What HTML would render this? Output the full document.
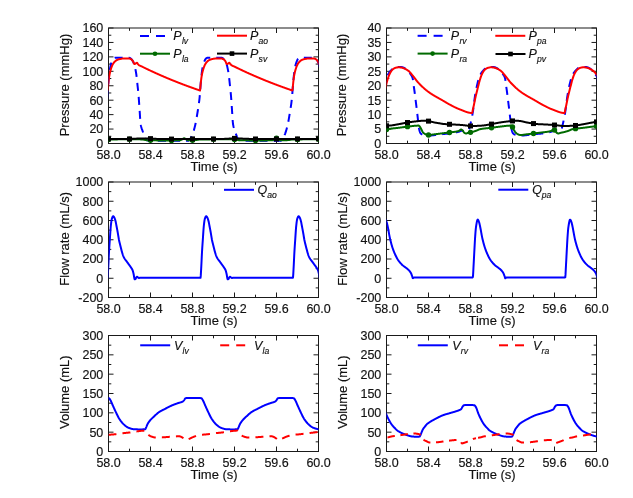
<!DOCTYPE html><html><head><meta charset="utf-8"><style>html,body{margin:0;padding:0;background:#fff;}svg{display:block;will-change:transform;}text{font-family:"Liberation Sans", sans-serif;fill:#111;stroke:#111;stroke-width:0.15px;}</style></head><body>
<svg width="633" height="498" viewBox="0 0 633 498">
<rect width="633" height="498" fill="#fff"/>
<defs>
<clipPath id="c00"><rect x="108.50" y="28.00" width="210.00" height="115.50"/></clipPath>
<clipPath id="c01"><rect x="108.50" y="182.00" width="210.00" height="115.50"/></clipPath>
<clipPath id="c02"><rect x="108.50" y="335.50" width="210.00" height="116.00"/></clipPath>
<clipPath id="c10"><rect x="386.50" y="28.00" width="210.00" height="115.50"/></clipPath>
<clipPath id="c11"><rect x="386.50" y="182.00" width="210.00" height="115.50"/></clipPath>
<clipPath id="c12"><rect x="386.50" y="335.50" width="210.00" height="116.00"/></clipPath>
</defs>
<line x1="108.50" y1="143.50" x2="108.50" y2="138.50" stroke="#1a1a1a" stroke-width="1"/>
<line x1="108.50" y1="28.00" x2="108.50" y2="33.00" stroke="#1a1a1a" stroke-width="1"/>
<text x="108.60" y="159.10" text-anchor="middle" font-size="12.50">58.0</text>
<line x1="129.50" y1="143.50" x2="129.50" y2="140.70" stroke="#1a1a1a" stroke-width="1"/>
<line x1="129.50" y1="28.00" x2="129.50" y2="30.80" stroke="#1a1a1a" stroke-width="1"/>
<line x1="150.50" y1="143.50" x2="150.50" y2="138.50" stroke="#1a1a1a" stroke-width="1"/>
<line x1="150.50" y1="28.00" x2="150.50" y2="33.00" stroke="#1a1a1a" stroke-width="1"/>
<text x="150.60" y="159.10" text-anchor="middle" font-size="12.50">58.4</text>
<line x1="171.50" y1="143.50" x2="171.50" y2="140.70" stroke="#1a1a1a" stroke-width="1"/>
<line x1="171.50" y1="28.00" x2="171.50" y2="30.80" stroke="#1a1a1a" stroke-width="1"/>
<line x1="192.50" y1="143.50" x2="192.50" y2="138.50" stroke="#1a1a1a" stroke-width="1"/>
<line x1="192.50" y1="28.00" x2="192.50" y2="33.00" stroke="#1a1a1a" stroke-width="1"/>
<text x="192.60" y="159.10" text-anchor="middle" font-size="12.50">58.8</text>
<line x1="213.50" y1="143.50" x2="213.50" y2="140.70" stroke="#1a1a1a" stroke-width="1"/>
<line x1="213.50" y1="28.00" x2="213.50" y2="30.80" stroke="#1a1a1a" stroke-width="1"/>
<line x1="234.50" y1="143.50" x2="234.50" y2="138.50" stroke="#1a1a1a" stroke-width="1"/>
<line x1="234.50" y1="28.00" x2="234.50" y2="33.00" stroke="#1a1a1a" stroke-width="1"/>
<text x="234.60" y="159.10" text-anchor="middle" font-size="12.50">59.2</text>
<line x1="255.50" y1="143.50" x2="255.50" y2="140.70" stroke="#1a1a1a" stroke-width="1"/>
<line x1="255.50" y1="28.00" x2="255.50" y2="30.80" stroke="#1a1a1a" stroke-width="1"/>
<line x1="276.50" y1="143.50" x2="276.50" y2="138.50" stroke="#1a1a1a" stroke-width="1"/>
<line x1="276.50" y1="28.00" x2="276.50" y2="33.00" stroke="#1a1a1a" stroke-width="1"/>
<text x="276.60" y="159.10" text-anchor="middle" font-size="12.50">59.6</text>
<line x1="297.50" y1="143.50" x2="297.50" y2="140.70" stroke="#1a1a1a" stroke-width="1"/>
<line x1="297.50" y1="28.00" x2="297.50" y2="30.80" stroke="#1a1a1a" stroke-width="1"/>
<line x1="318.50" y1="143.50" x2="318.50" y2="138.50" stroke="#1a1a1a" stroke-width="1"/>
<line x1="318.50" y1="28.00" x2="318.50" y2="33.00" stroke="#1a1a1a" stroke-width="1"/>
<text x="318.60" y="159.10" text-anchor="middle" font-size="12.50">60.0</text>
<line x1="108.50" y1="143.50" x2="113.50" y2="143.50" stroke="#1a1a1a" stroke-width="1"/>
<line x1="318.50" y1="143.50" x2="313.50" y2="143.50" stroke="#1a1a1a" stroke-width="1"/>
<text x="103.30" y="147.90" text-anchor="end" font-size="12.50">0</text>
<line x1="108.50" y1="136.28" x2="111.30" y2="136.28" stroke="#1a1a1a" stroke-width="1"/>
<line x1="318.50" y1="136.28" x2="315.70" y2="136.28" stroke="#1a1a1a" stroke-width="1"/>
<line x1="108.50" y1="129.06" x2="113.50" y2="129.06" stroke="#1a1a1a" stroke-width="1"/>
<line x1="318.50" y1="129.06" x2="313.50" y2="129.06" stroke="#1a1a1a" stroke-width="1"/>
<text x="103.30" y="133.46" text-anchor="end" font-size="12.50">20</text>
<line x1="108.50" y1="121.84" x2="111.30" y2="121.84" stroke="#1a1a1a" stroke-width="1"/>
<line x1="318.50" y1="121.84" x2="315.70" y2="121.84" stroke="#1a1a1a" stroke-width="1"/>
<line x1="108.50" y1="114.62" x2="113.50" y2="114.62" stroke="#1a1a1a" stroke-width="1"/>
<line x1="318.50" y1="114.62" x2="313.50" y2="114.62" stroke="#1a1a1a" stroke-width="1"/>
<text x="103.30" y="119.03" text-anchor="end" font-size="12.50">40</text>
<line x1="108.50" y1="107.41" x2="111.30" y2="107.41" stroke="#1a1a1a" stroke-width="1"/>
<line x1="318.50" y1="107.41" x2="315.70" y2="107.41" stroke="#1a1a1a" stroke-width="1"/>
<line x1="108.50" y1="100.19" x2="113.50" y2="100.19" stroke="#1a1a1a" stroke-width="1"/>
<line x1="318.50" y1="100.19" x2="313.50" y2="100.19" stroke="#1a1a1a" stroke-width="1"/>
<text x="103.30" y="104.59" text-anchor="end" font-size="12.50">60</text>
<line x1="108.50" y1="92.97" x2="111.30" y2="92.97" stroke="#1a1a1a" stroke-width="1"/>
<line x1="318.50" y1="92.97" x2="315.70" y2="92.97" stroke="#1a1a1a" stroke-width="1"/>
<line x1="108.50" y1="85.75" x2="113.50" y2="85.75" stroke="#1a1a1a" stroke-width="1"/>
<line x1="318.50" y1="85.75" x2="313.50" y2="85.75" stroke="#1a1a1a" stroke-width="1"/>
<text x="103.30" y="90.15" text-anchor="end" font-size="12.50">80</text>
<line x1="108.50" y1="78.53" x2="111.30" y2="78.53" stroke="#1a1a1a" stroke-width="1"/>
<line x1="318.50" y1="78.53" x2="315.70" y2="78.53" stroke="#1a1a1a" stroke-width="1"/>
<line x1="108.50" y1="71.31" x2="113.50" y2="71.31" stroke="#1a1a1a" stroke-width="1"/>
<line x1="318.50" y1="71.31" x2="313.50" y2="71.31" stroke="#1a1a1a" stroke-width="1"/>
<text x="103.30" y="75.71" text-anchor="end" font-size="12.50">100</text>
<line x1="108.50" y1="64.09" x2="111.30" y2="64.09" stroke="#1a1a1a" stroke-width="1"/>
<line x1="318.50" y1="64.09" x2="315.70" y2="64.09" stroke="#1a1a1a" stroke-width="1"/>
<line x1="108.50" y1="56.88" x2="113.50" y2="56.88" stroke="#1a1a1a" stroke-width="1"/>
<line x1="318.50" y1="56.88" x2="313.50" y2="56.88" stroke="#1a1a1a" stroke-width="1"/>
<text x="103.30" y="61.27" text-anchor="end" font-size="12.50">120</text>
<line x1="108.50" y1="49.66" x2="111.30" y2="49.66" stroke="#1a1a1a" stroke-width="1"/>
<line x1="318.50" y1="49.66" x2="315.70" y2="49.66" stroke="#1a1a1a" stroke-width="1"/>
<line x1="108.50" y1="42.44" x2="113.50" y2="42.44" stroke="#1a1a1a" stroke-width="1"/>
<line x1="318.50" y1="42.44" x2="313.50" y2="42.44" stroke="#1a1a1a" stroke-width="1"/>
<text x="103.30" y="46.84" text-anchor="end" font-size="12.50">140</text>
<line x1="108.50" y1="35.22" x2="111.30" y2="35.22" stroke="#1a1a1a" stroke-width="1"/>
<line x1="318.50" y1="35.22" x2="315.70" y2="35.22" stroke="#1a1a1a" stroke-width="1"/>
<line x1="108.50" y1="28.00" x2="113.50" y2="28.00" stroke="#1a1a1a" stroke-width="1"/>
<line x1="318.50" y1="28.00" x2="313.50" y2="28.00" stroke="#1a1a1a" stroke-width="1"/>
<text x="103.30" y="32.40" text-anchor="end" font-size="12.50">160</text>
<rect x="108.50" y="28.00" width="210.00" height="115.50" fill="none" stroke="#1a1a1a" stroke-width="1"/>
<text x="214.10" y="171.10" text-anchor="middle" font-size="13.00">Time (s)</text>
<text transform="translate(69.10 85.05) rotate(-90)" text-anchor="middle" font-size="13.00">Pressure (mmHg)</text>
<path d="M105.50 110.05L105.75 108.50L106.00 106.89L106.25 105.21L106.50 103.41L106.75 101.48L107.00 99.39L107.25 97.01L107.50 94.07L107.75 90.75L108.00 87.31L108.25 83.98L108.50 81.02L108.75 78.55L109.00 76.21L109.25 73.99L109.50 71.94L109.75 70.11L110.00 68.54L110.25 67.25L110.50 66.09L110.75 65.05L111.00 64.12L111.25 63.29L111.50 62.56L111.75 61.92L112.00 61.29L112.25 60.70L112.50 60.15L112.75 59.65L113.00 59.21L113.25 58.85L113.50 58.58L113.75 58.39L114.00 58.22L114.25 58.07L114.50 57.94L114.75 57.85L115.00 57.80L115.25 57.80L115.50 57.80L115.75 57.80L116.00 57.80L116.25 57.80L116.50 57.80L116.75 57.80L117.00 57.80L117.25 57.80L117.50 57.80L117.75 57.80L118.00 57.80L118.25 57.80L118.50 57.80L118.75 57.80L119.00 57.80L119.25 57.80L119.50 57.80L119.75 57.80L120.00 57.80L120.25 57.80L120.50 57.80L120.75 57.80L121.00 57.80L121.25 57.80L121.50 57.80L121.75 57.80L122.00 57.80L122.25 57.80L122.50 57.80L122.75 57.80L123.00 57.80L123.25 57.80L123.50 57.80L123.75 57.80L124.00 57.80L124.25 57.80L124.50 57.80L124.75 57.80L125.00 57.80L125.25 57.80L125.50 57.80L125.75 57.80L126.00 57.80L126.25 57.80L126.50 57.80L126.75 57.80L127.00 57.80L127.25 57.80L127.50 57.80L127.75 57.80L128.00 57.80L128.25 57.80L128.50 57.80L128.75 57.80L129.00 57.80L129.25 57.81L129.50 57.86L129.75 57.95L130.00 58.06L130.25 58.20L130.50 58.34L130.75 58.50L131.00 58.70L131.25 58.94L131.50 59.22L131.75 59.53L132.00 59.86L132.25 60.21L132.50 60.59L132.75 61.00L133.00 61.46L133.25 61.95L133.50 62.49L133.75 63.08L134.00 63.73L134.25 64.44L134.50 65.26L134.75 66.20L135.00 67.24L135.25 68.39L135.50 69.64L135.75 70.98L136.00 72.41L136.25 73.97L136.50 75.84L136.75 77.97L137.00 80.27L137.25 82.66L137.50 85.06L137.75 87.40L138.00 89.74L138.25 92.20L138.50 94.86L138.75 97.85L139.00 101.26L139.25 104.91L139.50 108.58L139.75 112.25L140.00 116.37L140.25 120.28L140.50 123.25L140.75 124.85L141.00 126.06L141.25 127.06L141.50 127.89L141.75 128.62L142.00 129.30L142.25 129.97L142.50 130.69L142.75 131.48L143.00 132.27L143.25 133.04L143.50 133.79L143.75 134.52L144.00 135.23L144.25 135.91L144.50 136.60L144.75 137.25L145.00 137.81L145.25 138.27L145.50 138.70L145.75 139.10L146.00 139.45L146.25 139.74L146.50 139.94L146.75 140.07L147.00 140.18L147.25 140.29L147.50 140.38L147.75 140.47L148.00 140.55L148.25 140.62L148.50 140.68L148.75 140.73L149.00 140.76L149.25 140.79L149.50 140.80L149.75 140.80L150.00 140.80L150.25 140.80L150.50 140.80L150.75 140.80L151.00 140.80L151.25 140.80L151.50 140.80L151.75 140.80L152.00 140.80L152.25 140.80L152.50 140.80L152.75 140.80L153.00 140.80L153.25 140.80L153.50 140.80L153.75 140.80L154.00 140.80L154.25 140.80L154.50 140.80L154.75 140.80L155.00 140.80L155.25 140.80L155.50 140.80L155.75 140.80L156.00 140.80L156.25 140.80L156.50 140.80L156.75 140.80L157.00 140.80L157.25 140.80L157.50 140.80L157.75 140.80L158.00 140.80L158.25 140.80L158.50 140.80L158.75 140.80L159.00 140.80L159.25 140.80L159.50 140.80L159.75 140.80L160.00 140.80L160.25 140.80L160.50 140.80L160.75 140.80L161.00 140.80L161.25 140.80L161.50 140.80L161.75 140.80L162.00 140.80L162.25 140.80L162.50 140.80L162.75 140.80L163.00 140.80L163.25 140.80L163.50 140.80L163.75 140.80L164.00 140.80L164.25 140.80L164.50 140.80L164.75 140.80L165.00 140.80L165.25 140.80L165.50 140.80L165.75 140.80L166.00 140.80L166.25 140.80L166.50 140.80L166.75 140.80L167.00 140.80L167.25 140.80L167.50 140.80L167.75 140.80L168.00 140.80L168.25 140.80L168.50 140.80L168.75 140.80L169.00 140.80L169.25 140.80L169.50 140.80L169.75 140.80L170.00 140.80L170.25 140.80L170.50 140.80L170.75 140.80L171.00 140.80L171.25 140.80L171.50 140.80L171.75 140.80L172.00 140.80L172.25 140.80L172.50 140.80L172.75 140.80L173.00 140.80L173.25 140.80L173.50 140.80L173.75 140.80L174.00 140.80L174.25 140.80L174.50 140.80L174.75 140.80L175.00 140.80L175.25 140.80L175.50 140.80L175.75 140.80L176.00 140.80L176.25 140.80L176.50 140.80L176.75 140.80L177.00 140.80L177.25 140.80L177.50 140.80L177.75 140.80L178.00 140.80L178.25 140.80L178.50 140.80L178.75 140.80L179.00 140.80L179.25 140.80L179.50 140.80L179.75 140.80L180.00 140.80L180.25 140.80L180.50 140.80L180.75 140.80L181.00 140.80L181.25 140.80L181.50 140.80L181.75 140.80L182.00 140.80L182.25 140.80L182.50 140.80L182.75 140.80L183.00 140.80L183.25 140.80L183.50 140.80L183.75 140.80L184.00 140.80L184.25 140.80L184.50 140.80L184.75 140.80L185.00 140.80L185.25 140.80L185.50 140.80L185.75 140.80L186.00 140.80L186.25 140.80L186.50 140.80L186.75 140.80L187.00 140.80L187.25 140.80L187.50 140.80L187.75 140.80L188.00 140.80L188.25 140.76L188.50 140.64L188.75 140.47L189.00 140.27L189.25 140.03L189.50 139.80L189.75 139.54L190.00 139.23L190.25 138.88L190.50 138.48L190.75 138.05L191.00 137.59L191.25 137.09L191.50 136.58L191.75 136.05L192.00 135.50L192.25 134.93L192.50 134.31L192.75 133.65L193.00 132.95L193.25 132.21L193.50 131.43L193.75 130.61L194.00 129.76L194.25 128.87L194.50 127.95L194.75 126.99L195.00 126.00L195.25 124.94L195.50 123.80L195.75 122.57L196.00 121.27L196.25 119.91L196.50 118.49L196.75 117.03L197.00 115.54L197.25 114.03L197.50 112.50L197.75 110.97L198.00 109.44L198.25 107.87L198.50 106.23L198.75 104.50L199.00 102.66L199.25 100.67L199.50 98.50L199.75 95.90L200.00 92.77L200.25 89.37L200.50 85.95L200.75 82.74L201.00 80.00L201.25 77.61L201.50 75.30L201.75 73.15L202.00 71.18L202.25 69.45L202.50 68.00L202.75 66.77L203.00 65.66L203.25 64.67L203.50 63.78L203.75 62.99L204.00 62.30L204.25 61.66L204.50 61.05L204.75 60.47L205.00 59.94L205.25 59.46L205.50 59.06L205.75 58.73L206.00 58.50L206.25 58.32L206.50 58.16L206.75 58.01L207.00 57.90L207.25 57.83L207.50 57.80L207.75 57.80L208.00 57.80L208.25 57.80L208.50 57.80L208.75 57.80L209.00 57.80L209.25 57.80L209.50 57.80L209.75 57.80L210.00 57.80L210.25 57.80L210.50 57.80L210.75 57.80L211.00 57.80L211.25 57.80L211.50 57.80L211.75 57.80L212.00 57.80L212.25 57.80L212.50 57.80L212.75 57.80L213.00 57.80L213.25 57.80L213.50 57.80L213.75 57.80L214.00 57.80L214.25 57.80L214.50 57.80L214.75 57.80L215.00 57.80L215.25 57.80L215.50 57.80L215.75 57.80L216.00 57.80L216.25 57.80L216.50 57.80L216.75 57.80L217.00 57.80L217.25 57.80L217.50 57.80L217.75 57.80L218.00 57.80L218.25 57.80L218.50 57.80L218.75 57.80L219.00 57.80L219.25 57.80L219.50 57.80L219.75 57.80L220.00 57.80L220.25 57.80L220.50 57.80L220.75 57.80L221.00 57.80L221.25 57.80L221.50 57.80L221.75 57.82L222.00 57.89L222.25 57.99L222.50 58.12L222.75 58.25L223.00 58.40L223.25 58.57L223.50 58.79L223.75 59.05L224.00 59.35L224.25 59.66L224.50 60.00L224.75 60.36L225.00 60.75L225.25 61.18L225.50 61.65L225.75 62.16L226.00 62.72L226.25 63.34L226.50 64.00L226.75 64.75L227.00 65.62L227.25 66.60L227.50 67.69L227.75 68.88L228.00 70.16L228.25 71.54L228.50 73.00L228.75 74.68L229.00 76.67L229.25 78.88L229.50 81.22L229.75 83.63L230.00 86.00L230.25 88.33L230.50 90.71L230.75 93.23L231.00 96.00L231.25 99.17L231.50 102.71L231.75 106.39L232.00 110.00L232.25 113.88L232.50 118.00L232.75 121.62L233.00 124.00L233.25 125.36L233.50 126.48L233.75 127.41L234.00 128.20L234.25 128.90L234.50 129.56L234.75 130.25L235.00 131.00L235.25 131.80L235.50 132.58L235.75 133.35L236.00 134.09L236.25 134.81L236.50 135.50L236.75 136.19L237.00 136.87L237.25 137.49L237.50 138.00L237.75 138.44L238.00 138.86L238.25 139.24L238.50 139.57L238.75 139.83L239.00 140.00L239.25 140.12L239.50 140.23L239.75 140.33L240.00 140.42L240.25 140.51L240.50 140.58L240.75 140.64L241.00 140.70L241.25 140.74L241.50 140.77L241.75 140.79L242.00 140.80L242.25 140.80L242.50 140.80L242.75 140.80L243.00 140.80L243.25 140.80L243.50 140.80L243.75 140.80L244.00 140.80L244.25 140.80L244.50 140.80L244.75 140.80L245.00 140.80L245.25 140.80L245.50 140.80L245.75 140.80L246.00 140.80L246.25 140.80L246.50 140.80L246.75 140.80L247.00 140.80L247.25 140.80L247.50 140.80L247.75 140.80L248.00 140.80L248.25 140.80L248.50 140.80L248.75 140.80L249.00 140.80L249.25 140.80L249.50 140.80L249.75 140.80L250.00 140.80L250.25 140.80L250.50 140.80L250.75 140.80L251.00 140.80L251.25 140.80L251.50 140.80L251.75 140.80L252.00 140.80L252.25 140.80L252.50 140.80L252.75 140.80L253.00 140.80L253.25 140.80L253.50 140.80L253.75 140.80L254.00 140.80L254.25 140.80L254.50 140.80L254.75 140.80L255.00 140.80L255.25 140.80L255.50 140.80L255.75 140.80L256.00 140.80L256.25 140.80L256.50 140.80L256.75 140.80L257.00 140.80L257.25 140.80L257.50 140.80L257.75 140.80L258.00 140.80L258.25 140.80L258.50 140.80L258.75 140.80L259.00 140.80L259.25 140.80L259.50 140.80L259.75 140.80L260.00 140.80L260.25 140.80L260.50 140.80L260.75 140.80L261.00 140.80L261.25 140.80L261.50 140.80L261.75 140.80L262.00 140.80L262.25 140.80L262.50 140.80L262.75 140.80L263.00 140.80L263.25 140.80L263.50 140.80L263.75 140.80L264.00 140.80L264.25 140.80L264.50 140.80L264.75 140.80L265.00 140.80L265.25 140.80L265.50 140.80L265.75 140.80L266.00 140.80L266.25 140.80L266.50 140.80L266.75 140.80L267.00 140.80L267.25 140.80L267.50 140.80L267.75 140.80L268.00 140.80L268.25 140.80L268.50 140.80L268.75 140.80L269.00 140.80L269.25 140.80L269.50 140.80L269.75 140.80L270.00 140.80L270.25 140.80L270.50 140.80L270.75 140.80L271.00 140.80L271.25 140.80L271.50 140.80L271.75 140.80L272.00 140.80L272.25 140.80L272.50 140.80L272.75 140.80L273.00 140.80L273.25 140.80L273.50 140.80L273.75 140.80L274.00 140.80L274.25 140.80L274.50 140.80L274.75 140.80L275.00 140.80L275.25 140.80L275.50 140.80L275.75 140.80L276.00 140.80L276.25 140.80L276.50 140.80L276.75 140.80L277.00 140.80L277.25 140.80L277.50 140.80L277.75 140.80L278.00 140.80L278.25 140.80L278.50 140.80L278.75 140.80L279.00 140.80L279.25 140.80L279.50 140.80L279.75 140.80L280.00 140.80L280.25 140.80L280.50 140.79L280.75 140.72L281.00 140.58L281.25 140.39L281.50 140.17L281.75 139.94L282.00 139.70L282.25 139.42L282.50 139.10L282.75 138.73L283.00 138.31L283.25 137.87L283.50 137.39L283.75 136.89L284.00 136.37L284.25 135.83L284.50 135.28L284.75 134.68L285.00 134.05L285.25 133.37L285.50 132.66L285.75 131.90L286.00 131.11L286.25 130.28L286.50 129.41L286.75 128.51L287.00 127.57L287.25 126.60L287.50 125.59L287.75 124.50L288.00 123.32L288.25 122.06L288.50 120.73L288.75 119.35L289.00 117.91L289.25 116.44L289.50 114.94L289.75 113.42L290.00 111.89L290.25 110.36L290.50 108.82L290.75 107.22L291.00 105.55L291.25 103.78L291.50 101.88L291.75 99.82L292.00 97.54L292.25 94.69L292.50 91.43L292.75 87.99L293.00 84.62L293.25 81.57L293.50 79.03L293.75 76.67L294.00 74.42L294.25 72.33L294.50 70.45L294.75 68.83L295.00 67.49L295.25 66.32L295.50 65.25L295.75 64.30L296.00 63.45L296.25 62.70L296.50 62.04L296.75 61.42L297.00 60.81L297.25 60.25L297.50 59.74L297.75 59.29L298.00 58.92L298.25 58.63L298.50 58.43L298.75 58.25L299.00 58.10L299.25 57.96L299.50 57.87L299.75 57.81L300.00 57.80L300.25 57.80L300.50 57.80L300.75 57.80L301.00 57.80L301.25 57.80L301.50 57.80L301.75 57.80L302.00 57.80L302.25 57.80L302.50 57.80L302.75 57.80L303.00 57.80L303.25 57.80L303.50 57.80L303.75 57.80L304.00 57.80L304.25 57.80L304.50 57.80L304.75 57.80L305.00 57.80L305.25 57.80L305.50 57.80L305.75 57.80L306.00 57.80L306.25 57.80L306.50 57.80L306.75 57.80L307.00 57.80L307.25 57.80L307.50 57.80L307.75 57.80L308.00 57.80L308.25 57.80L308.50 57.80L308.75 57.80L309.00 57.80L309.25 57.80L309.50 57.80L309.75 57.80L310.00 57.80L310.25 57.80L310.50 57.80L310.75 57.80L311.00 57.80L311.25 57.80L311.50 57.80L311.75 57.80L312.00 57.80L312.25 57.80L312.50 57.80L312.75 57.80L313.00 57.80L313.25 57.80L313.50 57.80L313.75 57.80L314.00 57.80L314.25 57.85L314.50 57.93L314.75 58.04L315.00 58.17L315.25 58.31L315.50 58.46L315.75 58.65L316.00 58.89L316.25 59.17L316.50 59.47L316.75 59.80L317.00 60.14L317.25 60.51L317.50 60.92L317.75 61.36L318.00 61.85L318.25 62.38L318.50 62.96L318.75 63.59L319.00 64.29L319.25 65.09L319.50 66.00L319.75 67.02L320.00 68.15L320.25 69.38L320.50 70.70L320.75 72.11L321.00 73.63L321.25 75.45L321.50 77.53" fill="none" stroke="#0000ff" stroke-width="2.00" stroke-linejoin="round" stroke-dasharray="8,6" stroke-dashoffset="2.20" clip-path="url(#c00)"/>
<path d="M105.50 89.78L105.75 89.87L106.00 89.95L106.25 90.04L106.50 90.14L106.75 90.25L107.00 90.36L107.25 90.45L107.50 90.50L107.75 89.83L108.00 87.07L108.25 84.49L108.50 81.92L108.75 79.74L109.00 77.82L109.25 76.20L109.50 74.80L109.75 73.55L110.00 72.42L110.25 71.40L110.50 70.47L110.75 69.61L111.00 68.81L111.25 68.04L111.50 67.30L111.75 66.60L112.00 65.96L112.25 65.39L112.50 64.87L112.75 64.37L113.00 63.91L113.25 63.50L113.50 63.13L113.75 62.81L114.00 62.51L114.25 62.21L114.50 61.93L114.75 61.67L115.00 61.42L115.25 61.18L115.50 60.96L115.75 60.76L116.00 60.57L116.25 60.40L116.50 60.25L116.75 60.12L117.00 60.00L117.25 59.88L117.50 59.77L117.75 59.67L118.00 59.57L118.25 59.48L118.50 59.39L118.75 59.32L119.00 59.24L119.25 59.18L119.50 59.12L119.75 59.07L120.00 59.02L120.25 58.96L120.50 58.91L120.75 58.86L121.00 58.81L121.25 58.77L121.50 58.72L121.75 58.68L122.00 58.63L122.25 58.60L122.50 58.56L122.75 58.53L123.00 58.50L123.25 58.47L123.50 58.45L123.75 58.43L124.00 58.41L124.25 58.41L124.50 58.40L124.75 58.40L125.00 58.40L125.25 58.40L125.50 58.40L125.75 58.40L126.00 58.40L126.25 58.40L126.50 58.40L126.75 58.40L127.00 58.40L127.25 58.40L127.50 58.40L127.75 58.40L128.00 58.40L128.25 58.40L128.50 58.40L128.75 58.41L129.00 58.44L129.25 58.49L129.50 58.56L129.75 58.64L130.00 58.73L130.25 58.82L130.50 58.92L130.75 59.04L131.00 59.19L131.25 59.35L131.50 59.52L131.75 59.72L132.00 59.96L132.25 60.24L132.50 60.55L132.75 60.89L133.00 61.25L133.25 61.67L133.50 62.28L133.75 62.95L134.00 63.54L134.25 63.93L134.50 64.00L134.75 63.95L135.00 63.86L135.25 63.76L135.50 63.65L135.75 63.50L136.00 63.30L136.25 63.10L136.50 62.93L136.75 62.82L137.00 62.82L137.25 63.05L137.50 63.41L137.75 63.80L138.00 64.12L138.25 64.43L138.50 64.72L138.75 64.96L139.00 65.14L139.25 65.30L139.50 65.44L139.75 65.57L140.00 65.69L140.25 65.81L140.50 65.91L140.75 66.02L141.00 66.12L141.25 66.23L141.50 66.35L141.75 66.47L142.00 66.60L142.25 66.72L142.50 66.84L142.75 66.97L143.00 67.09L143.25 67.21L143.50 67.33L143.75 67.46L144.00 67.58L144.25 67.70L144.50 67.82L144.75 67.94L145.00 68.06L145.25 68.18L145.50 68.31L145.75 68.43L146.00 68.55L146.25 68.67L146.50 68.79L146.75 68.91L147.00 69.03L147.25 69.15L147.50 69.26L147.75 69.38L148.00 69.50L148.25 69.62L148.50 69.74L148.75 69.86L149.00 69.98L149.25 70.09L149.50 70.21L149.75 70.33L150.00 70.45L150.25 70.56L150.50 70.68L150.75 70.80L151.00 70.91L151.25 71.03L151.50 71.15L151.75 71.26L152.00 71.38L152.25 71.49L152.50 71.61L152.75 71.72L153.00 71.84L153.25 71.95L153.50 72.07L153.75 72.18L154.00 72.30L154.25 72.41L154.50 72.53L154.75 72.64L155.00 72.75L155.25 72.87L155.50 72.98L155.75 73.09L156.00 73.21L156.25 73.32L156.50 73.43L156.75 73.54L157.00 73.66L157.25 73.77L157.50 73.88L157.75 73.99L158.00 74.10L158.25 74.21L158.50 74.33L158.75 74.44L159.00 74.55L159.25 74.66L159.50 74.77L159.75 74.88L160.00 74.99L160.25 75.10L160.50 75.21L160.75 75.32L161.00 75.43L161.25 75.54L161.50 75.64L161.75 75.75L162.00 75.86L162.25 75.97L162.50 76.08L162.75 76.19L163.00 76.30L163.25 76.40L163.50 76.51L163.75 76.62L164.00 76.73L164.25 76.83L164.50 76.94L164.75 77.05L165.00 77.15L165.25 77.26L165.50 77.37L165.75 77.47L166.00 77.58L166.25 77.68L166.50 77.79L166.75 77.89L167.00 78.00L167.25 78.10L167.50 78.21L167.75 78.31L168.00 78.42L168.25 78.52L168.50 78.63L168.75 78.73L169.00 78.83L169.25 78.94L169.50 79.04L169.75 79.14L170.00 79.25L170.25 79.35L170.50 79.45L170.75 79.56L171.00 79.66L171.25 79.76L171.50 79.86L171.75 79.97L172.00 80.07L172.25 80.17L172.50 80.27L172.75 80.37L173.00 80.47L173.25 80.57L173.50 80.68L173.75 80.78L174.00 80.88L174.25 80.98L174.50 81.08L174.75 81.18L175.00 81.28L175.25 81.38L175.50 81.48L175.75 81.58L176.00 81.68L176.25 81.77L176.50 81.87L176.75 81.97L177.00 82.07L177.25 82.17L177.50 82.27L177.75 82.37L178.00 82.46L178.25 82.56L178.50 82.66L178.75 82.76L179.00 82.85L179.25 82.95L179.50 83.05L179.75 83.15L180.00 83.24L180.25 83.34L180.50 83.44L180.75 83.53L181.00 83.63L181.25 83.72L181.50 83.82L181.75 83.92L182.00 84.01L182.25 84.11L182.50 84.20L182.75 84.30L183.00 84.39L183.25 84.49L183.50 84.58L183.75 84.68L184.00 84.77L184.25 84.86L184.50 84.96L184.75 85.05L185.00 85.14L185.25 85.24L185.50 85.33L185.75 85.43L186.00 85.52L186.25 85.61L186.50 85.70L186.75 85.80L187.00 85.89L187.25 85.98L187.50 86.07L187.75 86.17L188.00 86.26L188.25 86.35L188.50 86.44L188.75 86.53L189.00 86.62L189.25 86.72L189.50 86.81L189.75 86.90L190.00 86.99L190.25 87.08L190.50 87.17L190.75 87.26L191.00 87.35L191.25 87.44L191.50 87.53L191.75 87.62L192.00 87.71L192.25 87.80L192.50 87.89L192.75 87.98L193.00 88.07L193.25 88.15L193.50 88.24L193.75 88.33L194.00 88.42L194.25 88.51L194.50 88.60L194.75 88.68L195.00 88.77L195.25 88.86L195.50 88.95L195.75 89.03L196.00 89.12L196.25 89.21L196.50 89.30L196.75 89.38L197.00 89.47L197.25 89.56L197.50 89.64L197.75 89.73L198.00 89.82L198.25 89.90L198.50 89.99L198.75 90.08L199.00 90.19L199.25 90.30L199.50 90.40L199.75 90.47L200.00 90.50L200.25 88.84L200.50 86.00L200.75 83.45L201.00 81.00L201.25 78.94L201.50 77.14L201.75 75.62L202.00 74.28L202.25 73.08L202.50 72.00L202.75 71.02L203.00 70.12L203.25 69.29L203.50 68.50L203.75 67.74L204.00 67.02L204.25 66.34L204.50 65.72L204.75 65.18L205.00 64.66L205.25 64.18L205.50 63.74L205.75 63.35L206.00 63.00L206.25 62.69L206.50 62.39L206.75 62.10L207.00 61.82L207.25 61.56L207.50 61.32L207.75 61.09L208.00 60.88L208.25 60.68L208.50 60.50L208.75 60.34L209.00 60.20L209.25 60.07L209.50 59.95L209.75 59.84L210.00 59.73L210.25 59.63L210.50 59.53L210.75 59.44L211.00 59.36L211.25 59.29L211.50 59.22L211.75 59.16L212.00 59.10L212.25 59.05L212.50 59.00L212.75 58.94L213.00 58.89L213.25 58.84L213.50 58.79L213.75 58.75L214.00 58.70L214.25 58.66L214.50 58.62L214.75 58.58L215.00 58.55L215.25 58.51L215.50 58.48L215.75 58.46L216.00 58.44L216.25 58.42L216.50 58.41L216.75 58.40L217.00 58.40L217.25 58.40L217.50 58.40L217.75 58.40L218.00 58.40L218.25 58.40L218.50 58.40L218.75 58.40L219.00 58.40L219.25 58.40L219.50 58.40L219.75 58.40L220.00 58.40L220.25 58.40L220.50 58.40L220.75 58.40L221.00 58.40L221.25 58.41L221.50 58.46L221.75 58.52L222.00 58.59L222.25 58.68L222.50 58.76L222.75 58.86L223.00 58.97L223.25 59.10L223.50 59.25L223.75 59.42L224.00 59.60L224.25 59.81L224.50 60.07L224.75 60.36L225.00 60.68L225.25 61.03L225.50 61.40L225.75 61.90L226.00 62.54L226.25 63.20L226.50 63.73L226.75 63.99L227.00 63.98L227.25 63.92L227.50 63.82L227.75 63.72L228.00 63.60L228.25 63.42L228.50 63.22L228.75 63.02L229.00 62.87L229.25 62.80L229.50 62.89L229.75 63.18L230.00 63.57L230.25 63.94L230.50 64.24L230.75 64.55L231.00 64.82L231.25 65.04L231.50 65.21L231.75 65.36L232.00 65.50L232.25 65.62L232.50 65.74L232.75 65.85L233.00 65.96L233.25 66.06L233.50 66.17L233.75 66.28L234.00 66.40L234.25 66.52L234.50 66.65L234.75 66.77L235.00 66.89L235.25 67.01L235.50 67.14L235.75 67.26L236.00 67.38L236.25 67.50L236.50 67.63L236.75 67.75L237.00 67.87L237.25 67.99L237.50 68.11L237.75 68.23L238.00 68.35L238.25 68.47L238.50 68.59L238.75 68.71L239.00 68.83L239.25 68.95L239.50 69.07L239.75 69.19L240.00 69.31L240.25 69.43L240.50 69.55L240.75 69.67L241.00 69.79L241.25 69.90L241.50 70.02L241.75 70.14L242.00 70.26L242.25 70.38L242.50 70.49L242.75 70.61L243.00 70.73L243.25 70.84L243.50 70.96L243.75 71.08L244.00 71.19L244.25 71.31L244.50 71.42L244.75 71.54L245.00 71.66L245.25 71.77L245.50 71.89L245.75 72.00L246.00 72.12L246.25 72.23L246.50 72.34L246.75 72.46L247.00 72.57L247.25 72.69L247.50 72.80L247.75 72.91L248.00 73.03L248.25 73.14L248.50 73.25L248.75 73.36L249.00 73.48L249.25 73.59L249.50 73.70L249.75 73.81L250.00 73.92L250.25 74.04L250.50 74.15L250.75 74.26L251.00 74.37L251.25 74.48L251.50 74.59L251.75 74.70L252.00 74.81L252.25 74.92L252.50 75.03L252.75 75.14L253.00 75.25L253.25 75.36L253.50 75.47L253.75 75.58L254.00 75.69L254.25 75.80L254.50 75.91L254.75 76.01L255.00 76.12L255.25 76.23L255.50 76.34L255.75 76.45L256.00 76.55L256.25 76.66L256.50 76.77L256.75 76.88L257.00 76.98L257.25 77.09L257.50 77.20L257.75 77.30L258.00 77.41L258.25 77.51L258.50 77.62L258.75 77.72L259.00 77.83L259.25 77.94L259.50 78.04L259.75 78.15L260.00 78.25L260.25 78.36L260.50 78.46L260.75 78.56L261.00 78.67L261.25 78.77L261.50 78.88L261.75 78.98L262.00 79.08L262.25 79.19L262.50 79.29L262.75 79.39L263.00 79.49L263.25 79.60L263.50 79.70L263.75 79.80L264.00 79.90L264.25 80.01L264.50 80.11L264.75 80.21L265.00 80.31L265.25 80.41L265.50 80.51L265.75 80.61L266.00 80.72L266.25 80.82L266.50 80.92L266.75 81.02L267.00 81.12L267.25 81.22L267.50 81.32L267.75 81.42L268.00 81.52L268.25 81.62L268.50 81.71L268.75 81.81L269.00 81.91L269.25 82.01L269.50 82.11L269.75 82.21L270.00 82.31L270.25 82.40L270.50 82.50L270.75 82.60L271.00 82.70L271.25 82.80L271.50 82.89L271.75 82.99L272.00 83.09L272.25 83.18L272.50 83.28L272.75 83.38L273.00 83.47L273.25 83.57L273.50 83.67L273.75 83.76L274.00 83.86L274.25 83.95L274.50 84.05L274.75 84.14L275.00 84.24L275.25 84.33L275.50 84.43L275.75 84.52L276.00 84.62L276.25 84.71L276.50 84.81L276.75 84.90L277.00 85.00L277.25 85.09L277.50 85.18L277.75 85.28L278.00 85.37L278.25 85.46L278.50 85.56L278.75 85.65L279.00 85.74L279.25 85.83L279.50 85.93L279.75 86.02L280.00 86.11L280.25 86.20L280.50 86.29L280.75 86.39L281.00 86.48L281.25 86.57L281.50 86.66L281.75 86.75L282.00 86.84L282.25 86.93L282.50 87.02L282.75 87.11L283.00 87.20L283.25 87.30L283.50 87.39L283.75 87.48L284.00 87.56L284.25 87.65L284.50 87.74L284.75 87.83L285.00 87.92L285.25 88.01L285.50 88.10L285.75 88.19L286.00 88.28L286.25 88.37L286.50 88.46L286.75 88.54L287.00 88.63L287.25 88.72L287.50 88.81L287.75 88.89L288.00 88.98L288.25 89.07L288.50 89.16L288.75 89.24L289.00 89.33L289.25 89.42L289.50 89.50L289.75 89.59L290.00 89.68L290.25 89.76L290.50 89.85L290.75 89.94L291.00 90.02L291.25 90.12L291.50 90.23L291.75 90.34L292.00 90.43L292.25 90.49L292.50 90.18L292.75 87.67L293.00 85.01L293.25 82.41L293.50 80.15L293.75 78.19L294.00 76.50L294.25 75.07L294.50 73.79L294.75 72.64L295.00 71.60L295.25 70.65L295.50 69.78L295.75 68.97L296.00 68.19L296.25 67.45L296.50 66.74L296.75 66.08L297.00 65.50L297.25 64.97L297.50 64.47L297.75 64.00L298.00 63.58L298.25 63.20L298.50 62.87L298.75 62.57L299.00 62.27L299.25 61.99L299.50 61.72L299.75 61.46L300.00 61.23L300.25 61.00L300.50 60.80L300.75 60.61L301.00 60.44L301.25 60.28L301.50 60.15L301.75 60.02L302.00 59.90L302.25 59.79L302.50 59.69L302.75 59.59L303.00 59.50L303.25 59.41L303.50 59.33L303.75 59.26L304.00 59.19L304.25 59.13L304.50 59.08L304.75 59.03L305.00 58.97L305.25 58.92L305.50 58.87L305.75 58.82L306.00 58.78L306.25 58.73L306.50 58.68L306.75 58.64L307.00 58.60L307.25 58.57L307.50 58.53L307.75 58.50L308.00 58.47L308.25 58.45L308.50 58.43L308.75 58.42L309.00 58.41L309.25 58.40L309.50 58.40L309.75 58.40L310.00 58.40L310.25 58.40L310.50 58.40L310.75 58.40L311.00 58.40L311.25 58.40L311.50 58.40L311.75 58.40L312.00 58.40L312.25 58.40L312.50 58.40L312.75 58.40L313.00 58.40L313.25 58.40L313.50 58.40L313.75 58.43L314.00 58.48L314.25 58.54L314.50 58.62L314.75 58.71L315.00 58.80L315.25 58.90L315.50 59.02L315.75 59.16L316.00 59.31L316.25 59.49L316.50 59.68L316.75 59.91L317.00 60.18L317.25 60.49L317.50 60.82L317.75 61.18L318.00 61.57L318.25 62.15L318.50 62.81L318.75 63.43L319.00 63.87L319.25 64.00L319.50 63.96L319.75 63.88L320.00 63.78L320.25 63.68L320.50 63.53L320.75 63.34L321.00 63.14L321.25 62.96L321.50 62.83" fill="none" stroke="#ff0000" stroke-width="2.00" stroke-linejoin="round" clip-path="url(#c00)"/>
<path d="M105.50 139.76L105.75 139.72L106.00 139.67L106.25 139.63L106.50 139.59L106.75 139.56L107.00 139.53L107.25 139.51L107.50 139.50L107.75 139.50L108.00 139.49L108.25 139.49L108.50 139.49L108.75 139.48L109.00 139.48L109.25 139.47L109.50 139.47L109.75 139.47L110.00 139.46L110.25 139.46L110.50 139.46L110.75 139.45L111.00 139.45L111.25 139.45L111.50 139.44L111.75 139.44L112.00 139.44L112.25 139.43L112.50 139.43L112.75 139.43L113.00 139.42L113.25 139.42L113.50 139.42L113.75 139.41L114.00 139.41L114.25 139.41L114.50 139.41L114.75 139.40L115.00 139.40L115.25 139.40L115.50 139.40L115.75 139.39L116.00 139.39L116.25 139.39L116.50 139.39L116.75 139.38L117.00 139.38L117.25 139.38L117.50 139.38L117.75 139.37L118.00 139.37L118.25 139.37L118.50 139.37L118.75 139.37L119.00 139.36L119.25 139.36L119.50 139.36L119.75 139.36L120.00 139.36L120.25 139.35L120.50 139.35L120.75 139.35L121.00 139.35L121.25 139.35L121.50 139.35L121.75 139.34L122.00 139.34L122.25 139.34L122.50 139.34L122.75 139.34L123.00 139.34L123.25 139.33L123.50 139.33L123.75 139.33L124.00 139.33L124.25 139.33L124.50 139.33L124.75 139.33L125.00 139.33L125.25 139.32L125.50 139.32L125.75 139.32L126.00 139.32L126.25 139.32L126.50 139.32L126.75 139.32L127.00 139.32L127.25 139.32L127.50 139.32L127.75 139.31L128.00 139.31L128.25 139.31L128.50 139.31L128.75 139.31L129.00 139.31L129.25 139.31L129.50 139.31L129.75 139.31L130.00 139.31L130.25 139.31L130.50 139.31L130.75 139.31L131.00 139.31L131.25 139.31L131.50 139.31L131.75 139.30L132.00 139.30L132.25 139.30L132.50 139.30L132.75 139.30L133.00 139.30L133.25 139.30L133.50 139.30L133.75 139.30L134.00 139.30L134.25 139.30L134.50 139.30L134.75 139.30L135.00 139.30L135.25 139.30L135.50 139.30L135.75 139.30L136.00 139.30L136.25 139.30L136.50 139.30L136.75 139.30L137.00 139.30L137.25 139.30L137.50 139.30L137.75 139.30L138.00 139.30L138.25 139.30L138.50 139.31L138.75 139.31L139.00 139.32L139.25 139.33L139.50 139.34L139.75 139.35L140.00 139.36L140.25 139.37L140.50 139.38L140.75 139.39L141.00 139.40L141.25 139.42L141.50 139.43L141.75 139.45L142.00 139.46L142.25 139.48L142.50 139.49L142.75 139.51L143.00 139.54L143.25 139.57L143.50 139.61L143.75 139.65L144.00 139.70L144.25 139.75L144.50 139.80L144.75 139.85L145.00 139.91L145.25 139.97L145.50 140.02L145.75 140.07L146.00 140.12L146.25 140.16L146.50 140.20L146.75 140.24L147.00 140.27L147.25 140.29L147.50 140.30L147.75 140.30L148.00 140.30L148.25 140.31L148.50 140.31L148.75 140.31L149.00 140.32L149.25 140.32L149.50 140.32L149.75 140.32L150.00 140.33L150.25 140.33L150.50 140.33L150.75 140.33L151.00 140.34L151.25 140.34L151.50 140.34L151.75 140.34L152.00 140.34L152.25 140.35L152.50 140.35L152.75 140.35L153.00 140.35L153.25 140.35L153.50 140.36L153.75 140.36L154.00 140.36L154.25 140.36L154.50 140.36L154.75 140.36L155.00 140.37L155.25 140.37L155.50 140.37L155.75 140.37L156.00 140.37L156.25 140.37L156.50 140.37L156.75 140.38L157.00 140.38L157.25 140.38L157.50 140.38L157.75 140.38L158.00 140.38L158.25 140.38L158.50 140.38L158.75 140.38L159.00 140.39L159.25 140.39L159.50 140.39L159.75 140.39L160.00 140.39L160.25 140.39L160.50 140.39L160.75 140.39L161.00 140.39L161.25 140.39L161.50 140.39L161.75 140.39L162.00 140.39L162.25 140.39L162.50 140.40L162.75 140.40L163.00 140.40L163.25 140.40L163.50 140.40L163.75 140.40L164.00 140.40L164.25 140.40L164.50 140.40L164.75 140.40L165.00 140.40L165.25 140.40L165.50 140.40L165.75 140.40L166.00 140.40L166.25 140.40L166.50 140.40L166.75 140.40L167.00 140.40L167.25 140.40L167.50 140.40L167.75 140.40L168.00 140.40L168.25 140.40L168.50 140.40L168.75 140.40L169.00 140.40L169.25 140.40L169.50 140.40L169.75 140.40L170.00 140.40L170.25 140.40L170.50 140.40L170.75 140.40L171.00 140.39L171.25 140.39L171.50 140.39L171.75 140.39L172.00 140.39L172.25 140.39L172.50 140.39L172.75 140.39L173.00 140.38L173.25 140.38L173.50 140.38L173.75 140.38L174.00 140.38L174.25 140.38L174.50 140.37L174.75 140.37L175.00 140.37L175.25 140.37L175.50 140.36L175.75 140.36L176.00 140.36L176.25 140.35L176.50 140.35L176.75 140.35L177.00 140.34L177.25 140.34L177.50 140.34L177.75 140.33L178.00 140.33L178.25 140.33L178.50 140.32L178.75 140.32L179.00 140.31L179.25 140.31L179.50 140.30L179.75 140.29L180.00 140.26L180.25 140.20L180.50 140.12L180.75 140.02L181.00 139.92L181.25 139.80L181.50 139.68L181.75 139.56L182.00 139.44L182.25 139.33L182.50 139.17L182.75 139.00L183.00 138.81L183.25 138.64L183.50 138.48L183.75 138.37L184.00 138.31L184.25 138.31L184.50 138.39L184.75 138.51L185.00 138.67L185.25 138.85L185.50 139.03L185.75 139.21L186.00 139.35L186.25 139.47L186.50 139.59L186.75 139.71L187.00 139.83L187.25 139.94L187.50 140.05L187.75 140.14L188.00 140.22L188.25 140.27L188.50 140.30L188.75 140.30L189.00 140.30L189.25 140.30L189.50 140.30L189.75 140.29L190.00 140.29L190.25 140.29L190.50 140.28L190.75 140.28L191.00 140.27L191.25 140.27L191.50 140.26L191.75 140.25L192.00 140.25L192.25 140.24L192.50 140.23L192.75 140.22L193.00 140.21L193.25 140.20L193.50 140.19L193.75 140.18L194.00 140.17L194.25 140.16L194.50 140.15L194.75 140.14L195.00 140.13L195.25 140.12L195.50 140.10L195.75 140.09L196.00 140.07L196.25 140.04L196.50 140.01L196.75 139.97L197.00 139.93L197.25 139.88L197.50 139.84L197.75 139.79L198.00 139.74L198.25 139.70L198.50 139.66L198.75 139.62L199.00 139.58L199.25 139.55L199.50 139.53L199.75 139.51L200.00 139.50L200.25 139.50L200.50 139.49L200.75 139.49L201.00 139.48L201.25 139.48L201.50 139.48L201.75 139.47L202.00 139.47L202.25 139.47L202.50 139.46L202.75 139.46L203.00 139.45L203.25 139.45L203.50 139.45L203.75 139.44L204.00 139.44L204.25 139.44L204.50 139.43L204.75 139.43L205.00 139.43L205.25 139.43L205.50 139.42L205.75 139.42L206.00 139.42L206.25 139.41L206.50 139.41L206.75 139.41L207.00 139.40L207.25 139.40L207.50 139.40L207.75 139.40L208.00 139.39L208.25 139.39L208.50 139.39L208.75 139.39L209.00 139.38L209.25 139.38L209.50 139.38L209.75 139.38L210.00 139.38L210.25 139.37L210.50 139.37L210.75 139.37L211.00 139.37L211.25 139.36L211.50 139.36L211.75 139.36L212.00 139.36L212.25 139.36L212.50 139.36L212.75 139.35L213.00 139.35L213.25 139.35L213.50 139.35L213.75 139.35L214.00 139.34L214.25 139.34L214.50 139.34L214.75 139.34L215.00 139.34L215.25 139.34L215.50 139.34L215.75 139.33L216.00 139.33L216.25 139.33L216.50 139.33L216.75 139.33L217.00 139.33L217.25 139.33L217.50 139.33L217.75 139.32L218.00 139.32L218.25 139.32L218.50 139.32L218.75 139.32L219.00 139.32L219.25 139.32L219.50 139.32L219.75 139.32L220.00 139.32L220.25 139.31L220.50 139.31L220.75 139.31L221.00 139.31L221.25 139.31L221.50 139.31L221.75 139.31L222.00 139.31L222.25 139.31L222.50 139.31L222.75 139.31L223.00 139.31L223.25 139.31L223.50 139.31L223.75 139.31L224.00 139.31L224.25 139.30L224.50 139.30L224.75 139.30L225.00 139.30L225.25 139.30L225.50 139.30L225.75 139.30L226.00 139.30L226.25 139.30L226.50 139.30L226.75 139.30L227.00 139.30L227.25 139.30L227.50 139.30L227.75 139.30L228.00 139.30L228.25 139.30L228.50 139.30L228.75 139.30L229.00 139.30L229.25 139.30L229.50 139.30L229.75 139.30L230.00 139.30L230.25 139.30L230.50 139.30L230.75 139.31L231.00 139.31L231.25 139.32L231.50 139.32L231.75 139.33L232.00 139.34L232.25 139.35L232.50 139.36L232.75 139.37L233.00 139.38L233.25 139.40L233.50 139.41L233.75 139.42L234.00 139.44L234.25 139.45L234.50 139.47L234.75 139.48L235.00 139.50L235.25 139.52L235.50 139.55L235.75 139.58L236.00 139.62L236.25 139.67L236.50 139.72L236.75 139.77L237.00 139.82L237.25 139.88L237.50 139.93L237.75 139.99L238.00 140.04L238.25 140.09L238.50 140.14L238.75 140.18L239.00 140.22L239.25 140.25L239.50 140.28L239.75 140.29L240.00 140.30L240.25 140.30L240.50 140.31L240.75 140.31L241.00 140.31L241.25 140.31L241.50 140.32L241.75 140.32L242.00 140.32L242.25 140.32L242.50 140.33L242.75 140.33L243.00 140.33L243.25 140.33L243.50 140.34L243.75 140.34L244.00 140.34L244.25 140.34L244.50 140.35L244.75 140.35L245.00 140.35L245.25 140.35L245.50 140.35L245.75 140.35L246.00 140.36L246.25 140.36L246.50 140.36L246.75 140.36L247.00 140.36L247.25 140.37L247.50 140.37L247.75 140.37L248.00 140.37L248.25 140.37L248.50 140.37L248.75 140.37L249.00 140.38L249.25 140.38L249.50 140.38L249.75 140.38L250.00 140.38L250.25 140.38L250.50 140.38L250.75 140.38L251.00 140.38L251.25 140.39L251.50 140.39L251.75 140.39L252.00 140.39L252.25 140.39L252.50 140.39L252.75 140.39L253.00 140.39L253.25 140.39L253.50 140.39L253.75 140.39L254.00 140.39L254.25 140.39L254.50 140.39L254.75 140.40L255.00 140.40L255.25 140.40L255.50 140.40L255.75 140.40L256.00 140.40L256.25 140.40L256.50 140.40L256.75 140.40L257.00 140.40L257.25 140.40L257.50 140.40L257.75 140.40L258.00 140.40L258.25 140.40L258.50 140.40L258.75 140.40L259.00 140.40L259.25 140.40L259.50 140.40L259.75 140.40L260.00 140.40L260.25 140.40L260.50 140.40L260.75 140.40L261.00 140.40L261.25 140.40L261.50 140.40L261.75 140.40L262.00 140.40L262.25 140.40L262.50 140.40L262.75 140.40L263.00 140.40L263.25 140.40L263.50 140.39L263.75 140.39L264.00 140.39L264.25 140.39L264.50 140.39L264.75 140.39L265.00 140.39L265.25 140.39L265.50 140.38L265.75 140.38L266.00 140.38L266.25 140.38L266.50 140.38L266.75 140.37L267.00 140.37L267.25 140.37L267.50 140.37L267.75 140.37L268.00 140.36L268.25 140.36L268.50 140.36L268.75 140.35L269.00 140.35L269.25 140.35L269.50 140.34L269.75 140.34L270.00 140.34L270.25 140.33L270.50 140.33L270.75 140.32L271.00 140.32L271.25 140.31L271.50 140.31L271.75 140.31L272.00 140.30L272.25 140.28L272.50 140.23L272.75 140.17L273.00 140.08L273.25 139.98L273.50 139.87L273.75 139.75L274.00 139.63L274.25 139.51L274.50 139.40L274.75 139.27L275.00 139.10L275.25 138.92L275.50 138.74L275.75 138.57L276.00 138.43L276.25 138.34L276.50 138.30L276.75 138.34L277.00 138.43L277.25 138.57L277.50 138.74L277.75 138.92L278.00 139.10L278.25 139.27L278.50 139.40L278.75 139.51L279.00 139.63L279.25 139.76L279.50 139.87L279.75 139.99L280.00 140.09L280.25 140.17L280.50 140.24L280.75 140.28L281.00 140.30L281.25 140.30L281.50 140.30L281.75 140.30L282.00 140.30L282.25 140.29L282.50 140.29L282.75 140.29L283.00 140.28L283.25 140.28L283.50 140.27L283.75 140.26L284.00 140.26L284.25 140.25L284.50 140.24L284.75 140.24L285.00 140.23L285.25 140.22L285.50 140.21L285.75 140.20L286.00 140.19L286.25 140.18L286.50 140.17L286.75 140.16L287.00 140.15L287.25 140.14L287.50 140.12L287.75 140.11L288.00 140.10L288.25 140.08L288.50 140.06L288.75 140.03L289.00 139.99L289.25 139.95L289.50 139.91L289.75 139.87L290.00 139.82L290.25 139.77L290.50 139.73L290.75 139.68L291.00 139.64L291.25 139.60L291.50 139.57L291.75 139.54L292.00 139.52L292.25 139.50L292.50 139.50L292.75 139.49L293.00 139.49L293.25 139.49L293.50 139.48L293.75 139.48L294.00 139.47L294.25 139.47L294.50 139.47L294.75 139.46L295.00 139.46L295.25 139.46L295.50 139.45L295.75 139.45L296.00 139.45L296.25 139.44L296.50 139.44L296.75 139.44L297.00 139.43L297.25 139.43L297.50 139.43L297.75 139.42L298.00 139.42L298.25 139.42L298.50 139.42L298.75 139.41L299.00 139.41L299.25 139.41L299.50 139.40L299.75 139.40L300.00 139.40L300.25 139.40L300.50 139.39L300.75 139.39L301.00 139.39L301.25 139.39L301.50 139.38L301.75 139.38L302.00 139.38L302.25 139.38L302.50 139.37L302.75 139.37L303.00 139.37L303.25 139.37L303.50 139.37L303.75 139.36L304.00 139.36L304.25 139.36L304.50 139.36L304.75 139.36L305.00 139.35L305.25 139.35L305.50 139.35L305.75 139.35L306.00 139.35L306.25 139.35L306.50 139.34L306.75 139.34L307.00 139.34L307.25 139.34L307.50 139.34L307.75 139.34L308.00 139.34L308.25 139.33L308.50 139.33L308.75 139.33L309.00 139.33L309.25 139.33L309.50 139.33L309.75 139.33L310.00 139.32L310.25 139.32L310.50 139.32L310.75 139.32L311.00 139.32L311.25 139.32L311.50 139.32L311.75 139.32L312.00 139.32L312.25 139.32L312.50 139.32L312.75 139.31L313.00 139.31L313.25 139.31L313.50 139.31L313.75 139.31L314.00 139.31L314.25 139.31L314.50 139.31L314.75 139.31L315.00 139.31L315.25 139.31L315.50 139.31L315.75 139.31L316.00 139.31L316.25 139.31L316.50 139.30L316.75 139.30L317.00 139.30L317.25 139.30L317.50 139.30L317.75 139.30L318.00 139.30L318.25 139.30L318.50 139.30L318.75 139.30L319.00 139.30L319.25 139.30L319.50 139.30L319.75 139.30L320.00 139.30L320.25 139.30L320.50 139.30L320.75 139.30L321.00 139.30L321.25 139.30L321.50 139.30" fill="none" stroke="#006a00" stroke-width="2.00" stroke-linejoin="round" clip-path="url(#c00)"/>
<circle cx="108.50" cy="139.49" r="2.70" fill="#006a00" clip-path="url(#c00)"/>
<circle cx="129.50" cy="139.31" r="2.70" fill="#006a00" clip-path="url(#c00)"/>
<circle cx="150.50" cy="140.33" r="2.70" fill="#006a00" clip-path="url(#c00)"/>
<circle cx="171.50" cy="140.39" r="2.70" fill="#006a00" clip-path="url(#c00)"/>
<circle cx="192.50" cy="140.23" r="2.70" fill="#006a00" clip-path="url(#c00)"/>
<circle cx="213.50" cy="139.35" r="2.70" fill="#006a00" clip-path="url(#c00)"/>
<circle cx="234.50" cy="139.47" r="2.70" fill="#006a00" clip-path="url(#c00)"/>
<circle cx="255.50" cy="140.40" r="2.70" fill="#006a00" clip-path="url(#c00)"/>
<circle cx="276.50" cy="138.30" r="2.70" fill="#006a00" clip-path="url(#c00)"/>
<circle cx="297.50" cy="139.43" r="2.70" fill="#006a00" clip-path="url(#c00)"/>
<circle cx="318.50" cy="139.30" r="2.70" fill="#006a00" clip-path="url(#c00)"/>
<path d="M105.50 138.90L105.75 138.90L106.00 138.90L106.25 138.90L106.50 138.90L106.75 138.90L107.00 138.90L107.25 138.90L107.50 138.90L107.75 138.90L108.00 138.90L108.25 138.90L108.50 138.90L108.75 138.90L109.00 138.90L109.25 138.90L109.50 138.90L109.75 138.90L110.00 138.90L110.25 138.90L110.50 138.91L110.75 138.91L111.00 138.91L111.25 138.91L111.50 138.91L111.75 138.91L112.00 138.91L112.25 138.91L112.50 138.92L112.75 138.92L113.00 138.92L113.25 138.92L113.50 138.92L113.75 138.92L114.00 138.92L114.25 138.93L114.50 138.93L114.75 138.93L115.00 138.93L115.25 138.93L115.50 138.93L115.75 138.94L116.00 138.94L116.25 138.94L116.50 138.94L116.75 138.94L117.00 138.95L117.25 138.95L117.50 138.95L117.75 138.95L118.00 138.95L118.25 138.95L118.50 138.96L118.75 138.96L119.00 138.96L119.25 138.96L119.50 138.96L119.75 138.97L120.00 138.97L120.25 138.97L120.50 138.97L120.75 138.97L121.00 138.97L121.25 138.98L121.50 138.98L121.75 138.98L122.00 138.98L122.25 138.98L122.50 138.98L122.75 138.99L123.00 138.99L123.25 138.99L123.50 138.99L123.75 138.99L124.00 138.99L124.25 138.99L124.50 138.99L124.75 138.99L125.00 139.00L125.25 139.00L125.50 139.00L125.75 139.00L126.00 139.00L126.25 139.00L126.50 139.00L126.75 139.00L127.00 139.00L127.25 139.00L127.50 139.00L127.75 139.00L128.00 139.00L128.25 139.00L128.50 138.99L128.75 138.99L129.00 138.99L129.25 138.98L129.50 138.97L129.75 138.97L130.00 138.96L130.25 138.95L130.50 138.94L130.75 138.93L131.00 138.92L131.25 138.91L131.50 138.90L131.75 138.89L132.00 138.88L132.25 138.86L132.50 138.85L132.75 138.84L133.00 138.82L133.25 138.81L133.50 138.79L133.75 138.78L134.00 138.77L134.25 138.75L134.50 138.74L134.75 138.72L135.00 138.71L135.25 138.69L135.50 138.68L135.75 138.66L136.00 138.65L136.25 138.63L136.50 138.62L136.75 138.60L137.00 138.59L137.25 138.57L137.50 138.56L137.75 138.55L138.00 138.53L138.25 138.52L138.50 138.51L138.75 138.50L139.00 138.49L139.25 138.48L139.50 138.47L139.75 138.46L140.00 138.45L140.25 138.44L140.50 138.43L140.75 138.43L141.00 138.42L141.25 138.41L141.50 138.41L141.75 138.41L142.00 138.40L142.25 138.40L142.50 138.40L142.75 138.40L143.00 138.40L143.25 138.40L143.50 138.40L143.75 138.41L144.00 138.41L144.25 138.41L144.50 138.42L144.75 138.42L145.00 138.43L145.25 138.44L145.50 138.44L145.75 138.45L146.00 138.46L146.25 138.46L146.50 138.47L146.75 138.48L147.00 138.49L147.25 138.50L147.50 138.51L147.75 138.52L148.00 138.53L148.25 138.54L148.50 138.55L148.75 138.56L149.00 138.57L149.25 138.58L149.50 138.59L149.75 138.60L150.00 138.62L150.25 138.63L150.50 138.64L150.75 138.65L151.00 138.66L151.25 138.67L151.50 138.69L151.75 138.70L152.00 138.71L152.25 138.72L152.50 138.73L152.75 138.74L153.00 138.75L153.25 138.76L153.50 138.77L153.75 138.78L154.00 138.79L154.25 138.80L154.50 138.81L154.75 138.82L155.00 138.83L155.25 138.84L155.50 138.85L155.75 138.86L156.00 138.86L156.25 138.87L156.50 138.88L156.75 138.88L157.00 138.89L157.25 138.89L157.50 138.90L157.75 138.90L158.00 138.91L158.25 138.91L158.50 138.91L158.75 138.92L159.00 138.92L159.25 138.93L159.50 138.93L159.75 138.93L160.00 138.94L160.25 138.94L160.50 138.94L160.75 138.95L161.00 138.95L161.25 138.96L161.50 138.96L161.75 138.96L162.00 138.97L162.25 138.97L162.50 138.97L162.75 138.98L163.00 138.98L163.25 138.98L163.50 138.99L163.75 138.99L164.00 139.00L164.25 139.00L164.50 139.00L164.75 139.01L165.00 139.01L165.25 139.01L165.50 139.01L165.75 139.02L166.00 139.02L166.25 139.02L166.50 139.03L166.75 139.03L167.00 139.03L167.25 139.04L167.50 139.04L167.75 139.04L168.00 139.04L168.25 139.05L168.50 139.05L168.75 139.05L169.00 139.05L169.25 139.06L169.50 139.06L169.75 139.06L170.00 139.06L170.25 139.07L170.50 139.07L170.75 139.07L171.00 139.07L171.25 139.07L171.50 139.08L171.75 139.08L172.00 139.08L172.25 139.08L172.50 139.08L172.75 139.08L173.00 139.09L173.25 139.09L173.50 139.09L173.75 139.09L174.00 139.09L174.25 139.09L174.50 139.09L174.75 139.09L175.00 139.10L175.25 139.10L175.50 139.10L175.75 139.10L176.00 139.10L176.25 139.10L176.50 139.10L176.75 139.10L177.00 139.10L177.25 139.10L177.50 139.10L177.75 139.10L178.00 139.10L178.25 139.10L178.50 139.10L178.75 139.10L179.00 139.10L179.25 139.09L179.50 139.09L179.75 139.09L180.00 139.09L180.25 139.08L180.50 139.08L180.75 139.08L181.00 139.07L181.25 139.07L181.50 139.07L181.75 139.06L182.00 139.06L182.25 139.05L182.50 139.05L182.75 139.05L183.00 139.04L183.25 139.04L183.50 139.03L183.75 139.03L184.00 139.02L184.25 139.02L184.50 139.01L184.75 139.01L185.00 139.00L185.25 139.00L185.50 138.99L185.75 138.99L186.00 138.98L186.25 138.98L186.50 138.97L186.75 138.97L187.00 138.96L187.25 138.96L187.50 138.95L187.75 138.95L188.00 138.94L188.25 138.94L188.50 138.94L188.75 138.93L189.00 138.93L189.25 138.93L189.50 138.92L189.75 138.92L190.00 138.92L190.25 138.91L190.50 138.91L190.75 138.91L191.00 138.91L191.25 138.90L191.50 138.90L191.75 138.90L192.00 138.90L192.25 138.90L192.50 138.90L192.75 138.90L193.00 138.90L193.25 138.90L193.50 138.90L193.75 138.90L194.00 138.90L194.25 138.90L194.50 138.90L194.75 138.90L195.00 138.90L195.25 138.90L195.50 138.90L195.75 138.90L196.00 138.90L196.25 138.90L196.50 138.90L196.75 138.90L197.00 138.90L197.25 138.90L197.50 138.90L197.75 138.90L198.00 138.90L198.25 138.90L198.50 138.90L198.75 138.90L199.00 138.90L199.25 138.90L199.50 138.90L199.75 138.90L200.00 138.90L200.25 138.90L200.50 138.90L200.75 138.90L201.00 138.90L201.25 138.90L201.50 138.90L201.75 138.90L202.00 138.90L202.25 138.90L202.50 138.90L202.75 138.91L203.00 138.91L203.25 138.91L203.50 138.91L203.75 138.91L204.00 138.91L204.25 138.91L204.50 138.91L204.75 138.91L205.00 138.92L205.25 138.92L205.50 138.92L205.75 138.92L206.00 138.92L206.25 138.92L206.50 138.92L206.75 138.93L207.00 138.93L207.25 138.93L207.50 138.93L207.75 138.93L208.00 138.94L208.25 138.94L208.50 138.94L208.75 138.94L209.00 138.94L209.25 138.94L209.50 138.95L209.75 138.95L210.00 138.95L210.25 138.95L210.50 138.95L210.75 138.96L211.00 138.96L211.25 138.96L211.50 138.96L211.75 138.96L212.00 138.96L212.25 138.97L212.50 138.97L212.75 138.97L213.00 138.97L213.25 138.97L213.50 138.98L213.75 138.98L214.00 138.98L214.25 138.98L214.50 138.98L214.75 138.98L215.00 138.98L215.25 138.99L215.50 138.99L215.75 138.99L216.00 138.99L216.25 138.99L216.50 138.99L216.75 138.99L217.00 138.99L217.25 138.99L217.50 139.00L217.75 139.00L218.00 139.00L218.25 139.00L218.50 139.00L218.75 139.00L219.00 139.00L219.25 139.00L219.50 139.00L219.75 139.00L220.00 139.00L220.25 139.00L220.50 139.00L220.75 139.00L221.00 138.99L221.25 138.99L221.50 138.98L221.75 138.98L222.00 138.97L222.25 138.96L222.50 138.96L222.75 138.95L223.00 138.94L223.25 138.93L223.50 138.92L223.75 138.91L224.00 138.89L224.25 138.88L224.50 138.87L224.75 138.86L225.00 138.84L225.25 138.83L225.50 138.82L225.75 138.80L226.00 138.79L226.25 138.77L226.50 138.76L226.75 138.74L227.00 138.73L227.25 138.71L227.50 138.70L227.75 138.69L228.00 138.67L228.25 138.66L228.50 138.64L228.75 138.63L229.00 138.61L229.25 138.60L229.50 138.58L229.75 138.57L230.00 138.56L230.25 138.54L230.50 138.53L230.75 138.52L231.00 138.51L231.25 138.49L231.50 138.48L231.75 138.47L232.00 138.46L232.25 138.45L232.50 138.44L232.75 138.44L233.00 138.43L233.25 138.42L233.50 138.42L233.75 138.41L234.00 138.41L234.25 138.40L234.50 138.40L234.75 138.40L235.00 138.40L235.25 138.40L235.50 138.40L235.75 138.40L236.00 138.41L236.25 138.41L236.50 138.41L236.75 138.42L237.00 138.42L237.25 138.43L237.50 138.43L237.75 138.44L238.00 138.44L238.25 138.45L238.50 138.46L238.75 138.47L239.00 138.48L239.25 138.48L239.50 138.49L239.75 138.50L240.00 138.51L240.25 138.52L240.50 138.53L240.75 138.54L241.00 138.55L241.25 138.56L241.50 138.58L241.75 138.59L242.00 138.60L242.25 138.61L242.50 138.62L242.75 138.63L243.00 138.64L243.25 138.66L243.50 138.67L243.75 138.68L244.00 138.69L244.25 138.70L244.50 138.71L244.75 138.72L245.00 138.74L245.25 138.75L245.50 138.76L245.75 138.77L246.00 138.78L246.25 138.79L246.50 138.80L246.75 138.81L247.00 138.82L247.25 138.83L247.50 138.84L247.75 138.84L248.00 138.85L248.25 138.86L248.50 138.87L248.75 138.87L249.00 138.88L249.25 138.89L249.50 138.89L249.75 138.90L250.00 138.90L250.25 138.90L250.50 138.91L250.75 138.91L251.00 138.92L251.25 138.92L251.50 138.92L251.75 138.93L252.00 138.93L252.25 138.94L252.50 138.94L252.75 138.94L253.00 138.95L253.25 138.95L253.50 138.95L253.75 138.96L254.00 138.96L254.25 138.96L254.50 138.97L254.75 138.97L255.00 138.98L255.25 138.98L255.50 138.98L255.75 138.99L256.00 138.99L256.25 138.99L256.50 139.00L256.75 139.00L257.00 139.00L257.25 139.01L257.50 139.01L257.75 139.01L258.00 139.02L258.25 139.02L258.50 139.02L258.75 139.03L259.00 139.03L259.25 139.03L259.50 139.03L259.75 139.04L260.00 139.04L260.25 139.04L260.50 139.04L260.75 139.05L261.00 139.05L261.25 139.05L261.50 139.06L261.75 139.06L262.00 139.06L262.25 139.06L262.50 139.06L262.75 139.07L263.00 139.07L263.25 139.07L263.50 139.07L263.75 139.07L264.00 139.08L264.25 139.08L264.50 139.08L264.75 139.08L265.00 139.08L265.25 139.09L265.50 139.09L265.75 139.09L266.00 139.09L266.25 139.09L266.50 139.09L266.75 139.09L267.00 139.09L267.25 139.09L267.50 139.10L267.75 139.10L268.00 139.10L268.25 139.10L268.50 139.10L268.75 139.10L269.00 139.10L269.25 139.10L269.50 139.10L269.75 139.10L270.00 139.10L270.25 139.10L270.50 139.10L270.75 139.10L271.00 139.10L271.25 139.10L271.50 139.09L271.75 139.09L272.00 139.09L272.25 139.09L272.50 139.09L272.75 139.08L273.00 139.08L273.25 139.08L273.50 139.07L273.75 139.07L274.00 139.06L274.25 139.06L274.50 139.06L274.75 139.05L275.00 139.05L275.25 139.04L275.50 139.04L275.75 139.03L276.00 139.03L276.25 139.02L276.50 139.02L276.75 139.01L277.00 139.01L277.25 139.00L277.50 139.00L277.75 139.00L278.00 138.99L278.25 138.99L278.50 138.98L278.75 138.98L279.00 138.97L279.25 138.97L279.50 138.96L279.75 138.96L280.00 138.95L280.25 138.95L280.50 138.94L280.75 138.94L281.00 138.94L281.25 138.93L281.50 138.93L281.75 138.92L282.00 138.92L282.25 138.92L282.50 138.91L282.75 138.91L283.00 138.91L283.25 138.91L283.50 138.91L283.75 138.90L284.00 138.90L284.25 138.90L284.50 138.90L284.75 138.90L285.00 138.90L285.25 138.90L285.50 138.90L285.75 138.90L286.00 138.90L286.25 138.90L286.50 138.90L286.75 138.90L287.00 138.90L287.25 138.90L287.50 138.90L287.75 138.90L288.00 138.90L288.25 138.90L288.50 138.90L288.75 138.90L289.00 138.90L289.25 138.90L289.50 138.90L289.75 138.90L290.00 138.90L290.25 138.90L290.50 138.90L290.75 138.90L291.00 138.90L291.25 138.90L291.50 138.90L291.75 138.90L292.00 138.90L292.25 138.90L292.50 138.90L292.75 138.90L293.00 138.90L293.25 138.90L293.50 138.90L293.75 138.90L294.00 138.90L294.25 138.90L294.50 138.90L294.75 138.90L295.00 138.90L295.25 138.91L295.50 138.91L295.75 138.91L296.00 138.91L296.25 138.91L296.50 138.91L296.75 138.91L297.00 138.91L297.25 138.91L297.50 138.92L297.75 138.92L298.00 138.92L298.25 138.92L298.50 138.92L298.75 138.92L299.00 138.93L299.25 138.93L299.50 138.93L299.75 138.93L300.00 138.93L300.25 138.93L300.50 138.94L300.75 138.94L301.00 138.94L301.25 138.94L301.50 138.94L301.75 138.95L302.00 138.95L302.25 138.95L302.50 138.95L302.75 138.95L303.00 138.95L303.25 138.96L303.50 138.96L303.75 138.96L304.00 138.96L304.25 138.96L304.50 138.97L304.75 138.97L305.00 138.97L305.25 138.97L305.50 138.97L305.75 138.97L306.00 138.98L306.25 138.98L306.50 138.98L306.75 138.98L307.00 138.98L307.25 138.98L307.50 138.98L307.75 138.99L308.00 138.99L308.25 138.99L308.50 138.99L308.75 138.99L309.00 138.99L309.25 138.99L309.50 138.99L309.75 139.00L310.00 139.00L310.25 139.00L310.50 139.00L310.75 139.00L311.00 139.00L311.25 139.00L311.50 139.00L311.75 139.00L312.00 139.00L312.25 139.00L312.50 139.00L312.75 139.00L313.00 139.00L313.25 138.99L313.50 138.99L313.75 138.99L314.00 138.98L314.25 138.97L314.50 138.97L314.75 138.96L315.00 138.95L315.25 138.94L315.50 138.93L315.75 138.92L316.00 138.91L316.25 138.90L316.50 138.89L316.75 138.88L317.00 138.87L317.25 138.85L317.50 138.84L317.75 138.83L318.00 138.81L318.25 138.80L318.50 138.78L318.75 138.77L319.00 138.75L319.25 138.74L319.50 138.72L319.75 138.71L320.00 138.69L320.25 138.68L320.50 138.66L320.75 138.65L321.00 138.63L321.25 138.62L321.50 138.61" fill="none" stroke="#000000" stroke-width="2.00" stroke-linejoin="round" clip-path="url(#c00)"/>
<rect x="106.00" y="136.40" width="5.00" height="5.00" fill="#000000" clip-path="url(#c00)"/>
<rect x="127.00" y="136.47" width="5.00" height="5.00" fill="#000000" clip-path="url(#c00)"/>
<rect x="148.00" y="136.14" width="5.00" height="5.00" fill="#000000" clip-path="url(#c00)"/>
<rect x="169.00" y="136.58" width="5.00" height="5.00" fill="#000000" clip-path="url(#c00)"/>
<rect x="190.00" y="136.40" width="5.00" height="5.00" fill="#000000" clip-path="url(#c00)"/>
<rect x="211.00" y="136.48" width="5.00" height="5.00" fill="#000000" clip-path="url(#c00)"/>
<rect x="232.00" y="135.90" width="5.00" height="5.00" fill="#000000" clip-path="url(#c00)"/>
<rect x="253.00" y="136.48" width="5.00" height="5.00" fill="#000000" clip-path="url(#c00)"/>
<rect x="274.00" y="136.52" width="5.00" height="5.00" fill="#000000" clip-path="url(#c00)"/>
<rect x="295.00" y="136.42" width="5.00" height="5.00" fill="#000000" clip-path="url(#c00)"/>
<rect x="316.00" y="136.28" width="5.00" height="5.00" fill="#000000" clip-path="url(#c00)"/>
<line x1="140.00" y1="36.00" x2="149.00" y2="36.00" stroke="#0000ff" stroke-width="2"/>
<line x1="156.00" y1="36.00" x2="165.00" y2="36.00" stroke="#0000ff" stroke-width="2"/>
<text x="173.30" y="39.80" font-size="12.50" font-style="italic">P</text>
<text x="181.90" y="43.80" font-size="8.6" font-style="italic">lv</text>
<line x1="217.00" y1="35.70" x2="247.00" y2="35.70" stroke="#ff0000" stroke-width="2"/>
<text x="250.00" y="39.80" font-size="12.50" font-style="italic">P</text>
<text x="258.60" y="43.80" font-size="8.6" font-style="italic">ao</text>
<line x1="140.00" y1="53.70" x2="170.00" y2="53.70" stroke="#006a00" stroke-width="2"/>
<circle cx="155.00" cy="53.70" r="2.3" fill="#006a00"/>
<text x="173.30" y="57.80" font-size="12.50" font-style="italic">P</text>
<text x="181.90" y="61.80" font-size="8.6" font-style="italic">la</text>
<line x1="217.00" y1="53.60" x2="247.00" y2="53.60" stroke="#000000" stroke-width="2"/>
<rect x="229.70" y="51.30" width="4.6" height="4.6" fill="#000000"/>
<text x="250.00" y="57.80" font-size="12.50" font-style="italic">P</text>
<text x="258.60" y="61.80" font-size="8.6" font-style="italic">sv</text>
<line x1="386.50" y1="143.50" x2="386.50" y2="138.50" stroke="#1a1a1a" stroke-width="1"/>
<line x1="386.50" y1="28.00" x2="386.50" y2="33.00" stroke="#1a1a1a" stroke-width="1"/>
<text x="386.60" y="159.10" text-anchor="middle" font-size="12.50">58.0</text>
<line x1="407.50" y1="143.50" x2="407.50" y2="140.70" stroke="#1a1a1a" stroke-width="1"/>
<line x1="407.50" y1="28.00" x2="407.50" y2="30.80" stroke="#1a1a1a" stroke-width="1"/>
<line x1="428.50" y1="143.50" x2="428.50" y2="138.50" stroke="#1a1a1a" stroke-width="1"/>
<line x1="428.50" y1="28.00" x2="428.50" y2="33.00" stroke="#1a1a1a" stroke-width="1"/>
<text x="428.60" y="159.10" text-anchor="middle" font-size="12.50">58.4</text>
<line x1="449.50" y1="143.50" x2="449.50" y2="140.70" stroke="#1a1a1a" stroke-width="1"/>
<line x1="449.50" y1="28.00" x2="449.50" y2="30.80" stroke="#1a1a1a" stroke-width="1"/>
<line x1="470.50" y1="143.50" x2="470.50" y2="138.50" stroke="#1a1a1a" stroke-width="1"/>
<line x1="470.50" y1="28.00" x2="470.50" y2="33.00" stroke="#1a1a1a" stroke-width="1"/>
<text x="470.60" y="159.10" text-anchor="middle" font-size="12.50">58.8</text>
<line x1="491.50" y1="143.50" x2="491.50" y2="140.70" stroke="#1a1a1a" stroke-width="1"/>
<line x1="491.50" y1="28.00" x2="491.50" y2="30.80" stroke="#1a1a1a" stroke-width="1"/>
<line x1="512.50" y1="143.50" x2="512.50" y2="138.50" stroke="#1a1a1a" stroke-width="1"/>
<line x1="512.50" y1="28.00" x2="512.50" y2="33.00" stroke="#1a1a1a" stroke-width="1"/>
<text x="512.60" y="159.10" text-anchor="middle" font-size="12.50">59.2</text>
<line x1="533.50" y1="143.50" x2="533.50" y2="140.70" stroke="#1a1a1a" stroke-width="1"/>
<line x1="533.50" y1="28.00" x2="533.50" y2="30.80" stroke="#1a1a1a" stroke-width="1"/>
<line x1="554.50" y1="143.50" x2="554.50" y2="138.50" stroke="#1a1a1a" stroke-width="1"/>
<line x1="554.50" y1="28.00" x2="554.50" y2="33.00" stroke="#1a1a1a" stroke-width="1"/>
<text x="554.60" y="159.10" text-anchor="middle" font-size="12.50">59.6</text>
<line x1="575.50" y1="143.50" x2="575.50" y2="140.70" stroke="#1a1a1a" stroke-width="1"/>
<line x1="575.50" y1="28.00" x2="575.50" y2="30.80" stroke="#1a1a1a" stroke-width="1"/>
<line x1="596.50" y1="143.50" x2="596.50" y2="138.50" stroke="#1a1a1a" stroke-width="1"/>
<line x1="596.50" y1="28.00" x2="596.50" y2="33.00" stroke="#1a1a1a" stroke-width="1"/>
<text x="596.60" y="159.10" text-anchor="middle" font-size="12.50">60.0</text>
<line x1="386.50" y1="143.50" x2="391.50" y2="143.50" stroke="#1a1a1a" stroke-width="1"/>
<line x1="596.50" y1="143.50" x2="591.50" y2="143.50" stroke="#1a1a1a" stroke-width="1"/>
<text x="381.30" y="147.90" text-anchor="end" font-size="12.50">0</text>
<line x1="386.50" y1="136.28" x2="389.30" y2="136.28" stroke="#1a1a1a" stroke-width="1"/>
<line x1="596.50" y1="136.28" x2="593.70" y2="136.28" stroke="#1a1a1a" stroke-width="1"/>
<line x1="386.50" y1="129.06" x2="391.50" y2="129.06" stroke="#1a1a1a" stroke-width="1"/>
<line x1="596.50" y1="129.06" x2="591.50" y2="129.06" stroke="#1a1a1a" stroke-width="1"/>
<text x="381.30" y="133.46" text-anchor="end" font-size="12.50">5</text>
<line x1="386.50" y1="121.84" x2="389.30" y2="121.84" stroke="#1a1a1a" stroke-width="1"/>
<line x1="596.50" y1="121.84" x2="593.70" y2="121.84" stroke="#1a1a1a" stroke-width="1"/>
<line x1="386.50" y1="114.62" x2="391.50" y2="114.62" stroke="#1a1a1a" stroke-width="1"/>
<line x1="596.50" y1="114.62" x2="591.50" y2="114.62" stroke="#1a1a1a" stroke-width="1"/>
<text x="381.30" y="119.03" text-anchor="end" font-size="12.50">10</text>
<line x1="386.50" y1="107.41" x2="389.30" y2="107.41" stroke="#1a1a1a" stroke-width="1"/>
<line x1="596.50" y1="107.41" x2="593.70" y2="107.41" stroke="#1a1a1a" stroke-width="1"/>
<line x1="386.50" y1="100.19" x2="391.50" y2="100.19" stroke="#1a1a1a" stroke-width="1"/>
<line x1="596.50" y1="100.19" x2="591.50" y2="100.19" stroke="#1a1a1a" stroke-width="1"/>
<text x="381.30" y="104.59" text-anchor="end" font-size="12.50">15</text>
<line x1="386.50" y1="92.97" x2="389.30" y2="92.97" stroke="#1a1a1a" stroke-width="1"/>
<line x1="596.50" y1="92.97" x2="593.70" y2="92.97" stroke="#1a1a1a" stroke-width="1"/>
<line x1="386.50" y1="85.75" x2="391.50" y2="85.75" stroke="#1a1a1a" stroke-width="1"/>
<line x1="596.50" y1="85.75" x2="591.50" y2="85.75" stroke="#1a1a1a" stroke-width="1"/>
<text x="381.30" y="90.15" text-anchor="end" font-size="12.50">20</text>
<line x1="386.50" y1="78.53" x2="389.30" y2="78.53" stroke="#1a1a1a" stroke-width="1"/>
<line x1="596.50" y1="78.53" x2="593.70" y2="78.53" stroke="#1a1a1a" stroke-width="1"/>
<line x1="386.50" y1="71.31" x2="391.50" y2="71.31" stroke="#1a1a1a" stroke-width="1"/>
<line x1="596.50" y1="71.31" x2="591.50" y2="71.31" stroke="#1a1a1a" stroke-width="1"/>
<text x="381.30" y="75.71" text-anchor="end" font-size="12.50">25</text>
<line x1="386.50" y1="64.09" x2="389.30" y2="64.09" stroke="#1a1a1a" stroke-width="1"/>
<line x1="596.50" y1="64.09" x2="593.70" y2="64.09" stroke="#1a1a1a" stroke-width="1"/>
<line x1="386.50" y1="56.88" x2="391.50" y2="56.88" stroke="#1a1a1a" stroke-width="1"/>
<line x1="596.50" y1="56.88" x2="591.50" y2="56.88" stroke="#1a1a1a" stroke-width="1"/>
<text x="381.30" y="61.27" text-anchor="end" font-size="12.50">30</text>
<line x1="386.50" y1="49.66" x2="389.30" y2="49.66" stroke="#1a1a1a" stroke-width="1"/>
<line x1="596.50" y1="49.66" x2="593.70" y2="49.66" stroke="#1a1a1a" stroke-width="1"/>
<line x1="386.50" y1="42.44" x2="391.50" y2="42.44" stroke="#1a1a1a" stroke-width="1"/>
<line x1="596.50" y1="42.44" x2="591.50" y2="42.44" stroke="#1a1a1a" stroke-width="1"/>
<text x="381.30" y="46.84" text-anchor="end" font-size="12.50">35</text>
<line x1="386.50" y1="35.22" x2="389.30" y2="35.22" stroke="#1a1a1a" stroke-width="1"/>
<line x1="596.50" y1="35.22" x2="593.70" y2="35.22" stroke="#1a1a1a" stroke-width="1"/>
<line x1="386.50" y1="28.00" x2="391.50" y2="28.00" stroke="#1a1a1a" stroke-width="1"/>
<line x1="596.50" y1="28.00" x2="591.50" y2="28.00" stroke="#1a1a1a" stroke-width="1"/>
<text x="381.30" y="32.40" text-anchor="end" font-size="12.50">40</text>
<rect x="386.50" y="28.00" width="210.00" height="115.50" fill="none" stroke="#1a1a1a" stroke-width="1"/>
<text x="492.10" y="171.10" text-anchor="middle" font-size="13.00">Time (s)</text>
<text transform="translate(346.40 85.05) rotate(-90)" text-anchor="middle" font-size="13.00">Pressure (mmHg)</text>
<path d="M383.50 90.83L383.75 89.52L384.00 88.28L384.25 87.08L384.50 85.94L384.75 84.85L385.00 83.78L385.25 82.74L385.50 81.75L385.75 80.79L386.00 79.90L386.25 79.06L386.50 78.29L386.75 77.58L387.00 76.92L387.25 76.28L387.50 75.68L387.75 75.12L388.00 74.60L388.25 74.11L388.50 73.67L388.75 73.26L389.00 72.88L389.25 72.51L389.50 72.17L389.75 71.84L390.00 71.53L390.25 71.23L390.50 70.94L390.75 70.67L391.00 70.40L391.25 70.15L391.50 69.90L391.75 69.65L392.00 69.40L392.25 69.15L392.50 68.90L392.75 68.65L393.00 68.41L393.25 68.19L393.50 67.98L393.75 67.80L394.00 67.64L394.25 67.52L394.50 67.43L394.75 67.37L395.00 67.31L395.25 67.26L395.50 67.21L395.75 67.17L396.00 67.13L396.25 67.09L396.50 67.05L396.75 67.02L397.00 66.99L397.25 66.96L397.50 66.94L397.75 66.93L398.00 66.91L398.25 66.90L398.50 66.90L398.75 66.90L399.00 66.90L399.25 66.91L399.50 66.92L399.75 66.94L400.00 66.95L400.25 66.97L400.50 66.99L400.75 67.01L401.00 67.04L401.25 67.06L401.50 67.09L401.75 67.12L402.00 67.16L402.25 67.21L402.50 67.28L402.75 67.36L403.00 67.44L403.25 67.54L403.50 67.64L403.75 67.76L404.00 67.88L404.25 68.01L404.50 68.15L404.75 68.29L405.00 68.44L405.25 68.60L405.50 68.76L405.75 68.92L406.00 69.09L406.25 69.26L406.50 69.43L406.75 69.61L407.00 69.81L407.25 70.02L407.50 70.26L407.75 70.52L408.00 70.79L408.25 71.08L408.50 71.38L408.75 71.69L409.00 72.02L409.25 72.36L409.50 72.70L409.75 73.06L410.00 73.42L410.25 73.78L410.50 74.15L410.75 74.52L411.00 74.87L411.25 75.21L411.50 75.58L411.75 75.99L412.00 76.47L412.25 77.03L412.50 77.70L412.75 78.63L413.00 80.24L413.25 82.24L413.50 84.27L413.75 86.04L414.00 87.76L414.25 89.49L414.50 91.26L414.75 93.13L415.00 95.08L415.25 97.08L415.50 99.12L415.75 101.16L416.00 103.20L416.25 105.19L416.50 107.15L416.75 109.13L417.00 111.16L417.25 113.30L417.50 115.57L417.75 117.89L418.00 120.14L418.25 122.32L418.50 124.62L418.75 126.78L419.00 128.50L419.25 129.64L419.50 130.61L419.75 131.47L420.00 132.19L420.25 132.77L420.50 133.18L420.75 133.45L421.00 133.68L421.25 133.89L421.50 134.07L421.75 134.24L422.00 134.39L422.25 134.52L422.50 134.64L422.75 134.74L423.00 134.83L423.25 134.91L423.50 134.97L423.75 135.04L424.00 135.10L424.25 135.15L424.50 135.21L424.75 135.26L425.00 135.31L425.25 135.36L425.50 135.41L425.75 135.45L426.00 135.48L426.25 135.51L426.50 135.54L426.75 135.56L427.00 135.58L427.25 135.59L427.50 135.60L427.75 135.60L428.00 135.60L428.25 135.59L428.50 135.59L428.75 135.58L429.00 135.58L429.25 135.57L429.50 135.56L429.75 135.54L430.00 135.53L430.25 135.52L430.50 135.50L430.75 135.48L431.00 135.46L431.25 135.45L431.50 135.43L431.75 135.40L432.00 135.38L432.25 135.36L432.50 135.34L432.75 135.31L433.00 135.28L433.25 135.26L433.50 135.23L433.75 135.20L434.00 135.17L434.25 135.15L434.50 135.12L434.75 135.09L435.00 135.05L435.25 135.02L435.50 134.99L435.75 134.96L436.00 134.93L436.25 134.90L436.50 134.86L436.75 134.83L437.00 134.80L437.25 134.76L437.50 134.73L437.75 134.70L438.00 134.66L438.25 134.63L438.50 134.60L438.75 134.56L439.00 134.53L439.25 134.50L439.50 134.46L439.75 134.43L440.00 134.40L440.25 134.37L440.50 134.34L440.75 134.31L441.00 134.28L441.25 134.25L441.50 134.22L441.75 134.19L442.00 134.16L442.25 134.13L442.50 134.11L442.75 134.08L443.00 134.06L443.25 134.03L443.50 134.01L443.75 133.99L444.00 133.97L444.25 133.94L444.50 133.92L444.75 133.90L445.00 133.89L445.25 133.87L445.50 133.85L445.75 133.83L446.00 133.81L446.25 133.79L446.50 133.77L446.75 133.76L447.00 133.74L447.25 133.72L447.50 133.70L447.75 133.68L448.00 133.66L448.25 133.63L448.50 133.61L448.75 133.59L449.00 133.56L449.25 133.54L449.50 133.51L449.75 133.48L450.00 133.45L450.25 133.42L450.50 133.39L450.75 133.36L451.00 133.32L451.25 133.29L451.50 133.25L451.75 133.21L452.00 133.17L452.25 133.14L452.50 133.09L452.75 133.05L453.00 133.01L453.25 132.97L453.50 132.92L453.75 132.87L454.00 132.83L454.25 132.78L454.50 132.73L454.75 132.68L455.00 132.63L455.25 132.58L455.50 132.52L455.75 132.47L456.00 132.42L456.25 132.36L456.50 132.30L456.75 132.25L457.00 132.19L457.25 132.13L457.50 132.07L457.75 132.01L458.00 131.95L458.25 131.89L458.50 131.83L458.75 131.76L459.00 131.68L459.25 131.58L459.50 131.47L459.75 131.36L460.00 131.25L460.25 131.14L460.50 131.04L460.75 130.95L461.00 130.88L461.25 130.83L461.50 130.80L461.75 130.80L462.00 130.81L462.25 130.81L462.50 130.83L462.75 130.84L463.00 130.86L463.25 130.87L463.50 130.89L463.75 130.91L464.00 130.93L464.25 130.95L464.50 130.96L464.75 130.98L465.00 130.99L465.25 131.00L465.50 131.00L465.75 131.00L466.00 130.97L466.25 130.93L466.50 130.87L466.75 130.80L467.00 130.72L467.25 130.63L467.50 130.54L467.75 130.44L468.00 130.32L468.25 130.18L468.50 130.00L468.75 129.78L469.00 129.50L469.25 128.96L469.50 128.09L469.75 127.04L470.00 126.00L470.25 124.95L470.50 123.82L470.75 122.65L471.00 121.50L471.25 120.41L471.50 119.33L471.75 118.22L472.00 117.00L472.25 115.65L472.50 114.18L472.75 112.62L473.00 111.00L473.25 109.26L473.50 107.38L473.75 105.41L474.00 103.40L474.25 101.40L474.50 99.46L474.75 97.65L475.00 96.00L475.25 94.49L475.50 93.03L475.75 91.64L476.00 90.30L476.25 89.02L476.50 87.79L476.75 86.62L477.00 85.50L477.25 84.42L477.50 83.36L477.75 82.34L478.00 81.36L478.25 80.43L478.50 79.55L478.75 78.74L479.00 78.00L479.25 77.31L479.50 76.66L479.75 76.04L480.00 75.45L480.25 74.91L480.50 74.40L480.75 73.93L481.00 73.50L481.25 73.10L481.50 72.73L481.75 72.37L482.00 72.03L482.25 71.71L482.50 71.40L482.75 71.11L483.00 70.83L483.25 70.56L483.50 70.30L483.75 70.05L484.00 69.80L484.25 69.55L484.50 69.30L484.75 69.05L485.00 68.80L485.25 68.55L485.50 68.32L485.75 68.10L486.00 67.91L486.25 67.73L486.50 67.59L486.75 67.48L487.00 67.40L487.25 67.35L487.50 67.29L487.75 67.24L488.00 67.20L488.25 67.15L488.50 67.11L488.75 67.07L489.00 67.04L489.25 67.01L489.50 66.98L489.75 66.96L490.00 66.94L490.25 66.92L490.50 66.91L490.75 66.90L491.00 66.90L491.25 66.90L491.50 66.91L491.75 66.92L492.00 66.93L492.25 66.94L492.50 66.96L492.75 66.98L493.00 67.00L493.25 67.02L493.50 67.05L493.75 67.07L494.00 67.10L494.25 67.13L494.50 67.18L494.75 67.24L495.00 67.31L495.25 67.39L495.50 67.48L495.75 67.58L496.00 67.69L496.25 67.81L496.50 67.93L496.75 68.07L497.00 68.21L497.25 68.35L497.50 68.50L497.75 68.66L498.00 68.82L498.25 68.99L498.50 69.16L498.75 69.33L499.00 69.50L499.25 69.69L499.50 69.89L499.75 70.12L500.00 70.36L500.25 70.62L500.50 70.90L500.75 71.20L501.00 71.50L501.25 71.82L501.50 72.15L501.75 72.49L502.00 72.84L502.25 73.20L502.50 73.56L502.75 73.93L503.00 74.30L503.25 74.66L503.50 75.00L503.75 75.36L504.00 75.74L504.25 76.17L504.50 76.68L504.75 77.28L505.00 78.00L505.25 79.21L505.50 81.02L505.75 83.07L506.00 85.00L506.25 86.73L506.50 88.45L506.75 90.19L507.00 92.00L507.25 93.90L507.50 95.87L507.75 97.89L508.00 99.94L508.25 101.98L508.50 104.00L508.75 105.98L509.00 107.94L509.25 109.93L509.50 112.00L509.75 114.20L510.00 116.50L510.25 118.80L510.50 121.00L510.75 123.24L511.00 125.51L511.25 127.53L511.50 129.00L511.75 130.04L512.00 130.97L512.25 131.78L512.50 132.44L512.75 132.96L513.00 133.30L513.25 133.54L513.50 133.76L513.75 133.96L514.00 134.14L514.25 134.30L514.50 134.44L514.75 134.57L515.00 134.68L515.25 134.78L515.50 134.86L515.75 134.93L516.00 135.00L516.25 135.06L516.50 135.12L516.75 135.18L517.00 135.23L517.25 135.28L517.50 135.33L517.75 135.38L518.00 135.42L518.25 135.46L518.50 135.50L518.75 135.53L519.00 135.55L519.25 135.57L519.50 135.59L519.75 135.60L520.00 135.60L520.25 135.60L520.50 135.60L520.75 135.59L521.00 135.59L521.25 135.58L521.50 135.57L521.75 135.56L522.00 135.55L522.25 135.54L522.50 135.52L522.75 135.51L523.00 135.49L523.25 135.48L523.50 135.46L523.75 135.44L524.00 135.42L524.25 135.40L524.50 135.37L524.75 135.35L525.00 135.33L525.25 135.30L525.50 135.27L525.75 135.25L526.00 135.22L526.25 135.19L526.50 135.16L526.75 135.13L527.00 135.10L527.25 135.07L527.50 135.04L527.75 135.01L528.00 134.98L528.25 134.95L528.50 134.91L528.75 134.88L529.00 134.85L529.25 134.82L529.50 134.78L529.75 134.75L530.00 134.72L530.25 134.68L530.50 134.65L530.75 134.62L531.00 134.58L531.25 134.55L531.50 134.52L531.75 134.48L532.00 134.45L532.25 134.42L532.50 134.39L532.75 134.36L533.00 134.33L533.25 134.29L533.50 134.26L533.75 134.24L534.00 134.21L534.25 134.18L534.50 134.15L534.75 134.12L535.00 134.10L535.25 134.07L535.50 134.05L535.75 134.02L536.00 134.00L536.25 133.98L536.50 133.96L536.75 133.94L537.00 133.92L537.25 133.90L537.50 133.88L537.75 133.86L538.00 133.84L538.25 133.82L538.50 133.80L538.75 133.79L539.00 133.77L539.25 133.75L539.50 133.73L539.75 133.71L540.00 133.69L540.25 133.67L540.50 133.65L540.75 133.63L541.00 133.60L541.25 133.58L541.50 133.55L541.75 133.53L542.00 133.50L542.25 133.47L542.50 133.44L542.75 133.41L543.00 133.38L543.25 133.34L543.50 133.31L543.75 133.27L544.00 133.24L544.25 133.20L544.50 133.16L544.75 133.12L545.00 133.08L545.25 133.04L545.50 132.99L545.75 132.95L546.00 132.90L546.25 132.86L546.50 132.81L546.75 132.76L547.00 132.71L547.25 132.66L547.50 132.61L547.75 132.56L548.00 132.50L548.25 132.45L548.50 132.39L548.75 132.34L549.00 132.28L549.25 132.22L549.50 132.17L549.75 132.11L550.00 132.05L550.25 131.99L550.50 131.92L550.75 131.86L551.00 131.80L551.25 131.73L551.50 131.64L551.75 131.54L552.00 131.43L552.25 131.32L552.50 131.21L552.75 131.10L553.00 131.00L553.25 130.92L553.50 130.86L553.75 130.81L554.00 130.80L554.25 130.80L554.50 130.81L554.75 130.82L555.00 130.83L555.25 130.85L555.50 130.86L555.75 130.88L556.00 130.90L556.25 130.92L556.50 130.94L556.75 130.95L557.00 130.97L557.25 130.98L557.50 130.99L557.75 131.00L558.00 131.00L558.25 130.99L558.50 130.96L558.75 130.91L559.00 130.85L559.25 130.77L559.50 130.69L559.75 130.59L560.00 130.50L560.25 130.40L560.50 130.27L560.75 130.11L561.00 129.92L561.25 129.67L561.50 129.34L561.75 128.65L562.00 127.68L562.25 126.62L562.50 125.60L562.75 124.51L563.00 123.35L563.25 122.19L563.50 121.06L563.75 119.98L564.00 118.89L564.25 117.74L564.50 116.47L564.75 115.07L565.00 113.57L565.25 111.98L565.50 110.33L565.75 108.53L566.00 106.60L566.25 104.61L566.50 102.59L566.75 100.61L567.00 98.72L567.25 96.96L567.50 95.39L567.75 93.90L568.00 92.47L568.25 91.10L568.50 89.78L568.75 88.52L569.00 87.32L569.25 86.17L569.50 85.06L569.75 83.99L570.00 82.95L570.25 81.94L570.50 80.98L570.75 80.07L571.00 79.22L571.25 78.44L571.50 77.72L571.75 77.05L572.00 76.41L572.25 75.80L572.50 75.23L572.75 74.70L573.00 74.20L573.25 73.75L573.50 73.34L573.75 72.95L574.00 72.58L574.25 72.24L574.50 71.90L574.75 71.59L575.00 71.29L575.25 71.00L575.50 70.72L575.75 70.45L576.00 70.20L576.25 69.95L576.50 69.70L576.75 69.45L577.00 69.20L577.25 68.95L577.50 68.70L577.75 68.46L578.00 68.23L578.25 68.02L578.50 67.83L578.75 67.67L579.00 67.54L579.25 67.44L579.50 67.38L579.75 67.32L580.00 67.27L580.25 67.22L580.50 67.18L580.75 67.13L581.00 67.09L581.25 67.06L581.50 67.03L581.75 67.00L582.00 66.97L582.25 66.95L582.50 66.93L582.75 66.92L583.00 66.91L583.25 66.90L583.50 66.90L583.75 66.90L584.00 66.91L584.25 66.92L584.50 66.93L584.75 66.95L585.00 66.97L585.25 66.99L585.50 67.01L585.75 67.03L586.00 67.06L586.25 67.08L586.50 67.11L586.75 67.15L587.00 67.20L587.25 67.27L587.50 67.34L587.75 67.42L588.00 67.52L588.25 67.62L588.50 67.74L588.75 67.86L589.00 67.99L589.25 68.12L589.50 68.26L589.75 68.41L590.00 68.57L590.25 68.72L590.50 68.89L590.75 69.05L591.00 69.22L591.25 69.40L591.50 69.57L591.75 69.77L592.00 69.98L592.25 70.21L592.50 70.47L592.75 70.73L593.00 71.02L593.25 71.32L593.50 71.63L593.75 71.95L594.00 72.29L594.25 72.63L594.50 72.98L594.75 73.34L595.00 73.71L595.25 74.08L595.50 74.45L595.75 74.80L596.00 75.14L596.25 75.51L596.50 75.91L596.75 76.37L597.00 76.91L597.25 77.55L597.50 78.39L597.75 79.88L598.00 81.83L598.25 83.88L598.50 85.70L598.75 87.42L599.00 89.14L599.25 90.90L599.50 92.75" fill="none" stroke="#0000ff" stroke-width="2.00" stroke-linejoin="round" stroke-dasharray="8,6" stroke-dashoffset="11.90" clip-path="url(#c10)"/>
<path d="M383.50 95.43L383.75 94.36L384.00 93.32L384.25 92.30L384.50 91.30L384.75 90.31L385.00 89.33L385.25 88.36L385.50 87.39L385.75 86.42L386.00 85.43L386.25 84.44L386.50 83.46L386.75 82.50L387.00 81.57L387.25 80.67L387.50 79.82L387.75 79.03L388.00 78.24L388.25 77.48L388.50 76.74L388.75 76.03L389.00 75.37L389.25 74.76L389.50 74.20L389.75 73.71L390.00 73.22L390.25 72.76L390.50 72.31L390.75 71.88L391.00 71.47L391.25 71.09L391.50 70.73L391.75 70.40L392.00 70.09L392.25 69.82L392.50 69.59L392.75 69.38L393.00 69.18L393.25 69.00L393.50 68.82L393.75 68.65L394.00 68.50L394.25 68.35L394.50 68.22L394.75 68.10L395.00 68.00L395.25 67.90L395.50 67.83L395.75 67.76L396.00 67.70L396.25 67.64L396.50 67.58L396.75 67.52L397.00 67.47L397.25 67.43L397.50 67.39L397.75 67.35L398.00 67.33L398.25 67.31L398.50 67.30L398.75 67.30L399.00 67.31L399.25 67.32L399.50 67.34L399.75 67.36L400.00 67.38L400.25 67.41L400.50 67.44L400.75 67.47L401.00 67.51L401.25 67.55L401.50 67.58L401.75 67.63L402.00 67.68L402.25 67.74L402.50 67.81L402.75 67.89L403.00 67.98L403.25 68.07L403.50 68.16L403.75 68.26L404.00 68.36L404.25 68.46L404.50 68.57L404.75 68.68L405.00 68.79L405.25 68.91L405.50 69.04L405.75 69.17L406.00 69.31L406.25 69.45L406.50 69.59L406.75 69.74L407.00 69.89L407.25 70.05L407.50 70.22L407.75 70.39L408.00 70.56L408.25 70.74L408.50 70.92L408.75 71.12L409.00 71.33L409.25 71.56L409.50 71.81L409.75 72.07L410.00 72.34L410.25 72.62L410.50 72.92L410.75 73.22L411.00 73.53L411.25 73.84L411.50 74.15L411.75 74.46L412.00 74.77L412.25 75.08L412.50 75.38L412.75 75.68L413.00 75.98L413.25 76.29L413.50 76.60L413.75 76.92L414.00 77.24L414.25 77.56L414.50 77.89L414.75 78.22L415.00 78.55L415.25 78.88L415.50 79.21L415.75 79.54L416.00 79.86L416.25 80.19L416.50 80.51L416.75 80.83L417.00 81.14L417.25 81.45L417.50 81.75L417.75 82.05L418.00 82.34L418.25 82.62L418.50 82.89L418.75 83.16L419.00 83.42L419.25 83.68L419.50 83.94L419.75 84.20L420.00 84.46L420.25 84.71L420.50 84.96L420.75 85.21L421.00 85.46L421.25 85.70L421.50 85.95L421.75 86.19L422.00 86.43L422.25 86.67L422.50 86.90L422.75 87.14L423.00 87.37L423.25 87.60L423.50 87.82L423.75 88.05L424.00 88.27L424.25 88.49L424.50 88.71L424.75 88.93L425.00 89.14L425.25 89.36L425.50 89.57L425.75 89.78L426.00 89.98L426.25 90.19L426.50 90.39L426.75 90.59L427.00 90.79L427.25 90.98L427.50 91.18L427.75 91.37L428.00 91.56L428.25 91.74L428.50 91.93L428.75 92.11L429.00 92.29L429.25 92.47L429.50 92.64L429.75 92.82L430.00 92.99L430.25 93.16L430.50 93.33L430.75 93.50L431.00 93.66L431.25 93.83L431.50 93.99L431.75 94.15L432.00 94.31L432.25 94.47L432.50 94.62L432.75 94.78L433.00 94.93L433.25 95.09L433.50 95.24L433.75 95.39L434.00 95.54L434.25 95.69L434.50 95.84L434.75 95.98L435.00 96.13L435.25 96.27L435.50 96.42L435.75 96.56L436.00 96.70L436.25 96.85L436.50 96.99L436.75 97.13L437.00 97.27L437.25 97.41L437.50 97.55L437.75 97.69L438.00 97.83L438.25 97.97L438.50 98.11L438.75 98.25L439.00 98.39L439.25 98.53L439.50 98.67L439.75 98.81L440.00 98.95L440.25 99.08L440.50 99.22L440.75 99.36L441.00 99.51L441.25 99.65L441.50 99.79L441.75 99.93L442.00 100.07L442.25 100.22L442.50 100.36L442.75 100.50L443.00 100.65L443.25 100.79L443.50 100.94L443.75 101.09L444.00 101.24L444.25 101.39L444.50 101.54L444.75 101.69L445.00 101.84L445.25 101.99L445.50 102.14L445.75 102.29L446.00 102.44L446.25 102.59L446.50 102.74L446.75 102.88L447.00 103.03L447.25 103.18L447.50 103.32L447.75 103.47L448.00 103.61L448.25 103.76L448.50 103.90L448.75 104.04L449.00 104.18L449.25 104.31L449.50 104.45L449.75 104.58L450.00 104.71L450.25 104.85L450.50 104.98L450.75 105.11L451.00 105.24L451.25 105.38L451.50 105.51L451.75 105.64L452.00 105.77L452.25 105.90L452.50 106.03L452.75 106.16L453.00 106.29L453.25 106.42L453.50 106.55L453.75 106.67L454.00 106.80L454.25 106.93L454.50 107.05L454.75 107.17L455.00 107.30L455.25 107.42L455.50 107.54L455.75 107.66L456.00 107.77L456.25 107.89L456.50 108.01L456.75 108.12L457.00 108.23L457.25 108.34L457.50 108.45L457.75 108.56L458.00 108.67L458.25 108.77L458.50 108.87L458.75 108.97L459.00 109.07L459.25 109.17L459.50 109.26L459.75 109.36L460.00 109.45L460.25 109.55L460.50 109.64L460.75 109.74L461.00 109.84L461.25 109.94L461.50 110.04L461.75 110.14L462.00 110.24L462.25 110.34L462.50 110.44L462.75 110.55L463.00 110.65L463.25 110.75L463.50 110.85L463.75 110.95L464.00 111.05L464.25 111.14L464.50 111.24L464.75 111.34L465.00 111.43L465.25 111.53L465.50 111.62L465.75 111.71L466.00 111.80L466.25 111.88L466.50 111.97L466.75 112.05L467.00 112.13L467.25 112.20L467.50 112.28L467.75 112.35L468.00 112.42L468.25 112.48L468.50 112.55L468.75 112.60L469.00 112.66L469.25 112.71L469.50 112.76L469.75 112.80L470.00 112.84L470.25 112.88L470.50 112.91L470.75 112.94L471.00 112.96L471.25 112.98L471.50 112.99L471.75 113.00L472.00 113.00L472.25 112.57L472.50 111.53L472.75 110.22L473.00 109.00L473.25 107.92L473.50 106.81L473.75 105.67L474.00 104.50L474.25 103.27L474.50 102.00L474.75 100.73L475.00 99.50L475.25 98.33L475.50 97.19L475.75 96.08L476.00 95.00L476.25 93.95L476.50 92.91L476.75 91.90L477.00 90.90L477.25 89.92L477.50 88.94L477.75 87.97L478.00 87.00L478.25 86.02L478.50 85.04L478.75 84.05L479.00 83.08L479.25 82.12L479.50 81.20L479.75 80.32L480.00 79.50L480.25 78.71L480.50 77.93L480.75 77.18L481.00 76.45L481.25 75.76L481.50 75.12L481.75 74.53L482.00 74.00L482.25 73.51L482.50 73.04L482.75 72.58L483.00 72.14L483.25 71.72L483.50 71.32L483.75 70.94L484.00 70.59L484.25 70.27L484.50 69.98L484.75 69.72L485.00 69.50L485.25 69.30L485.50 69.11L485.75 68.92L486.00 68.75L486.25 68.59L486.50 68.44L486.75 68.30L487.00 68.17L487.25 68.06L487.50 67.96L487.75 67.87L488.00 67.80L488.25 67.74L488.50 67.67L488.75 67.61L489.00 67.56L489.25 67.50L489.50 67.45L489.75 67.41L490.00 67.37L490.25 67.34L490.50 67.32L490.75 67.30L491.00 67.30L491.25 67.30L491.50 67.31L491.75 67.33L492.00 67.34L492.25 67.37L492.50 67.39L492.75 67.42L493.00 67.45L493.25 67.49L493.50 67.52L493.75 67.56L494.00 67.60L494.25 67.65L494.50 67.70L494.75 67.77L495.00 67.85L495.25 67.93L495.50 68.02L495.75 68.11L496.00 68.20L496.25 68.30L496.50 68.40L496.75 68.50L497.00 68.61L497.25 68.72L497.50 68.84L497.75 68.96L498.00 69.09L498.25 69.22L498.50 69.36L498.75 69.50L499.00 69.65L499.25 69.80L499.50 69.96L499.75 70.12L500.00 70.28L500.25 70.46L500.50 70.63L500.75 70.81L501.00 71.00L501.25 71.20L501.50 71.42L501.75 71.66L502.00 71.91L502.25 72.17L502.50 72.45L502.75 72.74L503.00 73.04L503.25 73.34L503.50 73.65L503.75 73.96L504.00 74.28L504.25 74.59L504.50 74.90L504.75 75.20L505.00 75.50L505.25 75.80L505.50 76.10L505.75 76.41L506.00 76.73L506.25 77.05L506.50 77.37L506.75 77.69L507.00 78.02L507.25 78.35L507.50 78.68L507.75 79.01L508.00 79.34L508.25 79.67L508.50 79.99L508.75 80.32L509.00 80.64L509.25 80.95L509.50 81.26L509.75 81.57L510.00 81.87L510.25 82.17L510.50 82.45L510.75 82.73L511.00 83.00L511.25 83.26L511.50 83.53L511.75 83.79L512.00 84.05L512.25 84.30L512.50 84.56L512.75 84.81L513.00 85.06L513.25 85.31L513.50 85.56L513.75 85.80L514.00 86.04L514.25 86.28L514.50 86.52L514.75 86.76L515.00 87.00L515.25 87.23L515.50 87.46L515.75 87.69L516.00 87.91L516.25 88.14L516.50 88.36L516.75 88.58L517.00 88.80L517.25 89.02L517.50 89.23L517.75 89.44L518.00 89.65L518.25 89.86L518.50 90.06L518.75 90.27L519.00 90.47L519.25 90.67L519.50 90.87L519.75 91.06L520.00 91.25L520.25 91.44L520.50 91.63L520.75 91.82L521.00 92.00L521.25 92.18L521.50 92.36L521.75 92.54L522.00 92.71L522.25 92.89L522.50 93.06L522.75 93.23L523.00 93.40L523.25 93.56L523.50 93.73L523.75 93.89L524.00 94.05L524.25 94.21L524.50 94.37L524.75 94.53L525.00 94.69L525.25 94.84L525.50 95.00L525.75 95.15L526.00 95.30L526.25 95.45L526.50 95.60L526.75 95.75L527.00 95.89L527.25 96.04L527.50 96.19L527.75 96.33L528.00 96.48L528.25 96.62L528.50 96.76L528.75 96.90L529.00 97.05L529.25 97.19L529.50 97.33L529.75 97.47L530.00 97.61L530.25 97.75L530.50 97.89L530.75 98.03L531.00 98.17L531.25 98.30L531.50 98.44L531.75 98.58L532.00 98.72L532.25 98.86L532.50 99.00L532.75 99.14L533.00 99.28L533.25 99.42L533.50 99.56L533.75 99.70L534.00 99.84L534.25 99.99L534.50 100.13L534.75 100.27L535.00 100.42L535.25 100.56L535.50 100.71L535.75 100.85L536.00 101.00L536.25 101.15L536.50 101.30L536.75 101.45L537.00 101.60L537.25 101.75L537.50 101.90L537.75 102.05L538.00 102.20L538.25 102.35L538.50 102.50L538.75 102.65L539.00 102.79L539.25 102.94L539.50 103.09L539.75 103.24L540.00 103.38L540.25 103.53L540.50 103.67L540.75 103.81L541.00 103.95L541.25 104.09L541.50 104.23L541.75 104.37L542.00 104.50L542.25 104.63L542.50 104.77L542.75 104.90L543.00 105.03L543.25 105.16L543.50 105.30L543.75 105.43L544.00 105.56L544.25 105.69L544.50 105.82L544.75 105.95L545.00 106.08L545.25 106.21L545.50 106.34L545.75 106.47L546.00 106.60L546.25 106.72L546.50 106.85L546.75 106.98L547.00 107.10L547.25 107.22L547.50 107.34L547.75 107.47L548.00 107.59L548.25 107.70L548.50 107.82L548.75 107.94L549.00 108.05L549.25 108.17L549.50 108.28L549.75 108.39L550.00 108.50L550.25 108.60L550.50 108.71L550.75 108.81L551.00 108.91L551.25 109.01L551.50 109.11L551.75 109.21L552.00 109.30L552.25 109.39L552.50 109.49L552.75 109.58L553.00 109.68L553.25 109.78L553.50 109.88L553.75 109.98L554.00 110.08L554.25 110.18L554.50 110.28L554.75 110.38L555.00 110.48L555.25 110.59L555.50 110.69L555.75 110.79L556.00 110.89L556.25 110.99L556.50 111.09L556.75 111.18L557.00 111.28L557.25 111.38L557.50 111.47L557.75 111.56L558.00 111.65L558.25 111.74L558.50 111.83L558.75 111.92L559.00 112.00L559.25 112.08L559.50 112.16L559.75 112.23L560.00 112.31L560.25 112.38L560.50 112.44L560.75 112.51L561.00 112.57L561.25 112.63L561.50 112.68L561.75 112.73L562.00 112.78L562.25 112.82L562.50 112.86L562.75 112.89L563.00 112.92L563.25 112.95L563.50 112.97L563.75 112.98L564.00 112.99L564.25 113.00L564.50 112.93L564.75 112.21L565.00 111.02L565.25 109.70L565.50 108.57L565.75 107.48L566.00 106.36L566.25 105.21L566.50 104.02L566.75 102.77L567.00 101.49L567.25 100.23L567.50 99.03L567.75 97.87L568.00 96.74L568.25 95.64L568.50 94.58L568.75 93.53L569.00 92.51L569.25 91.50L569.50 90.51L569.75 89.52L570.00 88.55L570.25 87.58L570.50 86.61L570.75 85.63L571.00 84.64L571.25 83.66L571.50 82.69L571.75 81.75L572.00 80.84L572.25 79.99L572.50 79.18L572.75 78.40L573.00 77.63L573.25 76.88L573.50 76.17L573.75 75.50L574.00 74.88L574.25 74.31L574.50 73.80L574.75 73.32L575.00 72.85L575.25 72.40L575.50 71.97L575.75 71.55L576.00 71.16L576.25 70.80L576.50 70.46L576.75 70.15L577.00 69.87L577.25 69.63L577.50 69.42L577.75 69.22L578.00 69.03L578.25 68.85L578.50 68.68L578.75 68.53L579.00 68.38L579.25 68.25L579.50 68.13L579.75 68.02L580.00 67.92L580.25 67.84L580.50 67.77L580.75 67.71L581.00 67.65L581.25 67.59L581.50 67.53L581.75 67.48L582.00 67.44L582.25 67.39L582.50 67.36L582.75 67.33L583.00 67.31L583.25 67.30L583.50 67.30L583.75 67.31L584.00 67.32L584.25 67.33L584.50 67.35L584.75 67.38L585.00 67.40L585.25 67.43L585.50 67.47L585.75 67.50L586.00 67.54L586.25 67.58L586.50 67.62L586.75 67.67L587.00 67.73L587.25 67.80L587.50 67.88L587.75 67.96L588.00 68.05L588.25 68.14L588.50 68.24L588.75 68.34L589.00 68.44L589.25 68.54L589.50 68.65L589.75 68.77L590.00 68.89L590.25 69.01L590.50 69.14L590.75 69.28L591.00 69.42L591.25 69.56L591.50 69.71L591.75 69.86L592.00 70.02L592.25 70.18L592.50 70.35L592.75 70.53L593.00 70.70L593.25 70.89L593.50 71.08L593.75 71.29L594.00 71.51L594.25 71.75L594.50 72.01L594.75 72.28L595.00 72.57L595.25 72.86L595.50 73.16L595.75 73.47L596.00 73.78L596.25 74.09L596.50 74.40L596.75 74.71L597.00 75.02L597.25 75.32L597.50 75.62L597.75 75.92L598.00 76.23L598.25 76.54L598.50 76.85L598.75 77.18L599.00 77.50L599.25 77.83L599.50 78.15" fill="none" stroke="#ff0000" stroke-width="2.00" stroke-linejoin="round" clip-path="url(#c10)"/>
<path d="M383.50 130.83L383.75 130.75L384.00 130.65L384.25 130.55L384.50 130.44L384.75 130.33L385.00 130.21L385.25 130.10L385.50 129.98L385.75 129.86L386.00 129.75L386.25 129.64L386.50 129.54L386.75 129.45L387.00 129.36L387.25 129.29L387.50 129.22L387.75 129.17L388.00 129.12L388.25 129.07L388.50 129.02L388.75 128.98L389.00 128.93L389.25 128.89L389.50 128.85L389.75 128.81L390.00 128.77L390.25 128.74L390.50 128.70L390.75 128.67L391.00 128.63L391.25 128.60L391.50 128.57L391.75 128.54L392.00 128.51L392.25 128.48L392.50 128.45L392.75 128.43L393.00 128.40L393.25 128.37L393.50 128.35L393.75 128.32L394.00 128.29L394.25 128.27L394.50 128.24L394.75 128.22L395.00 128.19L395.25 128.17L395.50 128.14L395.75 128.12L396.00 128.09L396.25 128.07L396.50 128.04L396.75 128.02L397.00 127.99L397.25 127.96L397.50 127.93L397.75 127.90L398.00 127.87L398.25 127.84L398.50 127.81L398.75 127.78L399.00 127.75L399.25 127.72L399.50 127.68L399.75 127.65L400.00 127.62L400.25 127.58L400.50 127.55L400.75 127.52L401.00 127.48L401.25 127.45L401.50 127.41L401.75 127.38L402.00 127.35L402.25 127.31L402.50 127.28L402.75 127.24L403.00 127.21L403.25 127.18L403.50 127.14L403.75 127.11L404.00 127.08L404.25 127.05L404.50 127.01L404.75 126.98L405.00 126.95L405.25 126.92L405.50 126.89L405.75 126.86L406.00 126.83L406.25 126.80L406.50 126.77L406.75 126.74L407.00 126.71L407.25 126.68L407.50 126.65L407.75 126.63L408.00 126.60L408.25 126.57L408.50 126.54L408.75 126.50L409.00 126.47L409.25 126.44L409.50 126.41L409.75 126.38L410.00 126.35L410.25 126.31L410.50 126.28L410.75 126.25L411.00 126.22L411.25 126.19L411.50 126.15L411.75 126.12L412.00 126.09L412.25 126.06L412.50 126.03L412.75 126.00L413.00 125.97L413.25 125.95L413.50 125.92L413.75 125.89L414.00 125.86L414.25 125.84L414.50 125.82L414.75 125.79L415.00 125.77L415.25 125.75L415.50 125.73L415.75 125.71L416.00 125.69L416.25 125.68L416.50 125.66L416.75 125.65L417.00 125.64L417.25 125.63L417.50 125.62L417.75 125.61L418.00 125.61L418.25 125.60L418.50 125.60L418.75 125.62L419.00 125.75L419.25 125.96L419.50 126.23L419.75 126.55L420.00 126.87L420.25 127.22L420.50 127.66L420.75 128.19L421.00 128.75L421.25 129.31L421.50 129.82L421.75 130.26L422.00 130.71L422.25 131.15L422.50 131.58L422.75 131.99L423.00 132.35L423.25 132.67L423.50 132.92L423.75 133.11L424.00 133.29L424.25 133.46L424.50 133.63L424.75 133.79L425.00 133.95L425.25 134.10L425.50 134.24L425.75 134.37L426.00 134.49L426.25 134.59L426.50 134.69L426.75 134.78L427.00 134.85L427.25 134.91L427.50 134.95L427.75 134.98L428.00 135.00L428.25 135.00L428.50 135.00L428.75 134.99L429.00 134.98L429.25 134.96L429.50 134.94L429.75 134.92L430.00 134.90L430.25 134.88L430.50 134.85L430.75 134.82L431.00 134.79L431.25 134.76L431.50 134.72L431.75 134.69L432.00 134.65L432.25 134.62L432.50 134.58L432.75 134.55L433.00 134.51L433.25 134.48L433.50 134.44L433.75 134.41L434.00 134.37L434.25 134.34L434.50 134.31L434.75 134.28L435.00 134.25L435.25 134.22L435.50 134.19L435.75 134.16L436.00 134.13L436.25 134.10L436.50 134.07L436.75 134.04L437.00 134.01L437.25 133.98L437.50 133.95L437.75 133.92L438.00 133.89L438.25 133.85L438.50 133.82L438.75 133.79L439.00 133.76L439.25 133.73L439.50 133.70L439.75 133.66L440.00 133.63L440.25 133.60L440.50 133.57L440.75 133.54L441.00 133.50L441.25 133.47L441.50 133.44L441.75 133.41L442.00 133.38L442.25 133.34L442.50 133.31L442.75 133.28L443.00 133.25L443.25 133.22L443.50 133.19L443.75 133.16L444.00 133.13L444.25 133.10L444.50 133.07L444.75 133.04L445.00 133.01L445.25 132.98L445.50 132.95L445.75 132.92L446.00 132.89L446.25 132.86L446.50 132.83L446.75 132.80L447.00 132.77L447.25 132.74L447.50 132.71L447.75 132.68L448.00 132.64L448.25 132.61L448.50 132.58L448.75 132.55L449.00 132.51L449.25 132.48L449.50 132.45L449.75 132.42L450.00 132.38L450.25 132.35L450.50 132.33L450.75 132.30L451.00 132.27L451.25 132.24L451.50 132.21L451.75 132.19L452.00 132.16L452.25 132.13L452.50 132.10L452.75 132.08L453.00 132.05L453.25 132.02L453.50 131.99L453.75 131.96L454.00 131.92L454.25 131.89L454.50 131.86L454.75 131.82L455.00 131.78L455.25 131.74L455.50 131.70L455.75 131.66L456.00 131.62L456.25 131.57L456.50 131.52L456.75 131.47L457.00 131.41L457.25 131.36L457.50 131.30L457.75 131.24L458.00 131.17L458.25 131.10L458.50 131.03L458.75 130.94L459.00 130.80L459.25 130.63L459.50 130.43L459.75 130.24L460.00 130.06L460.25 129.91L460.50 129.74L460.75 129.60L461.00 129.51L461.25 129.52L461.50 129.61L461.75 129.76L462.00 129.96L462.25 130.19L462.50 130.41L462.75 130.64L463.00 130.95L463.25 131.30L463.50 131.68L463.75 132.06L464.00 132.42L464.25 132.72L464.50 132.94L464.75 133.08L465.00 133.20L465.25 133.31L465.50 133.40L465.75 133.46L466.00 133.50L466.25 133.49L466.50 133.43L466.75 133.34L467.00 133.24L467.25 133.13L467.50 133.03L467.75 132.96L468.00 132.89L468.25 132.83L468.50 132.77L468.75 132.71L469.00 132.66L469.25 132.60L469.50 132.55L469.75 132.50L470.00 132.45L470.25 132.40L470.50 132.34L470.75 132.29L471.00 132.24L471.25 132.18L471.50 132.12L471.75 132.06L472.00 132.00L472.25 131.93L472.50 131.87L472.75 131.80L473.00 131.73L473.25 131.66L473.50 131.59L473.75 131.52L474.00 131.44L474.25 131.37L474.50 131.29L474.75 131.21L475.00 131.13L475.25 131.05L475.50 130.97L475.75 130.89L476.00 130.80L476.25 130.71L476.50 130.61L476.75 130.51L477.00 130.40L477.25 130.28L477.50 130.17L477.75 130.05L478.00 129.93L478.25 129.82L478.50 129.71L478.75 129.60L479.00 129.50L479.25 129.41L479.50 129.33L479.75 129.26L480.00 129.20L480.25 129.15L480.50 129.10L480.75 129.05L481.00 129.00L481.25 128.96L481.50 128.92L481.75 128.88L482.00 128.84L482.25 128.80L482.50 128.76L482.75 128.72L483.00 128.69L483.25 128.65L483.50 128.62L483.75 128.59L484.00 128.56L484.25 128.53L484.50 128.50L484.75 128.47L485.00 128.44L485.25 128.41L485.50 128.39L485.75 128.36L486.00 128.34L486.25 128.31L486.50 128.28L486.75 128.26L487.00 128.23L487.25 128.21L487.50 128.18L487.75 128.16L488.00 128.13L488.25 128.11L488.50 128.08L488.75 128.06L489.00 128.03L489.25 128.00L489.50 127.98L489.75 127.95L490.00 127.92L490.25 127.89L490.50 127.86L490.75 127.83L491.00 127.80L491.25 127.77L491.50 127.74L491.75 127.70L492.00 127.67L492.25 127.64L492.50 127.60L492.75 127.57L493.00 127.54L493.25 127.50L493.50 127.47L493.75 127.43L494.00 127.40L494.25 127.37L494.50 127.33L494.75 127.30L495.00 127.26L495.25 127.23L495.50 127.20L495.75 127.16L496.00 127.13L496.25 127.10L496.50 127.07L496.75 127.03L497.00 127.00L497.25 126.97L497.50 126.94L497.75 126.91L498.00 126.88L498.25 126.85L498.50 126.82L498.75 126.79L499.00 126.76L499.25 126.73L499.50 126.70L499.75 126.67L500.00 126.64L500.25 126.61L500.50 126.58L500.75 126.55L501.00 126.52L501.25 126.49L501.50 126.46L501.75 126.43L502.00 126.40L502.25 126.36L502.50 126.33L502.75 126.30L503.00 126.27L503.25 126.24L503.50 126.20L503.75 126.17L504.00 126.14L504.25 126.11L504.50 126.08L504.75 126.05L505.00 126.02L505.25 125.99L505.50 125.96L505.75 125.93L506.00 125.91L506.25 125.88L506.50 125.85L506.75 125.83L507.00 125.81L507.25 125.78L507.50 125.76L507.75 125.74L508.00 125.72L508.25 125.70L508.50 125.69L508.75 125.67L509.00 125.66L509.25 125.64L509.50 125.63L509.75 125.62L510.00 125.61L510.25 125.61L510.50 125.60L510.75 125.60L511.00 125.60L511.25 125.66L511.50 125.82L511.75 126.06L512.00 126.35L512.25 126.68L512.50 127.00L512.75 127.38L513.00 127.87L513.25 128.42L513.50 128.98L513.75 129.52L514.00 130.00L514.25 130.44L514.50 130.89L514.75 131.33L515.00 131.75L515.25 132.14L515.50 132.49L515.75 132.78L516.00 133.00L516.25 133.18L516.50 133.36L516.75 133.53L517.00 133.70L517.25 133.86L517.50 134.01L517.75 134.15L518.00 134.29L518.25 134.41L518.50 134.53L518.75 134.63L519.00 134.73L519.25 134.81L519.50 134.87L519.75 134.93L520.00 134.97L520.25 134.99L520.50 135.00L520.75 135.00L521.00 134.99L521.25 134.98L521.50 134.97L521.75 134.95L522.00 134.94L522.25 134.91L522.50 134.89L522.75 134.87L523.00 134.84L523.25 134.81L523.50 134.78L523.75 134.74L524.00 134.71L524.25 134.68L524.50 134.64L524.75 134.60L525.00 134.57L525.25 134.53L525.50 134.50L525.75 134.46L526.00 134.43L526.25 134.39L526.50 134.36L526.75 134.33L527.00 134.30L527.25 134.27L527.50 134.24L527.75 134.21L528.00 134.18L528.25 134.15L528.50 134.12L528.75 134.09L529.00 134.06L529.25 134.03L529.50 134.00L529.75 133.97L530.00 133.94L530.25 133.91L530.50 133.87L530.75 133.84L531.00 133.81L531.25 133.78L531.50 133.75L531.75 133.71L532.00 133.68L532.25 133.65L532.50 133.62L532.75 133.59L533.00 133.55L533.25 133.52L533.50 133.49L533.75 133.46L534.00 133.43L534.25 133.39L534.50 133.36L534.75 133.33L535.00 133.30L535.25 133.27L535.50 133.24L535.75 133.21L536.00 133.18L536.25 133.14L536.50 133.11L536.75 133.08L537.00 133.05L537.25 133.02L537.50 133.00L537.75 132.97L538.00 132.94L538.25 132.91L538.50 132.88L538.75 132.85L539.00 132.82L539.25 132.79L539.50 132.76L539.75 132.73L540.00 132.70L540.25 132.66L540.50 132.63L540.75 132.60L541.00 132.57L541.25 132.53L541.50 132.50L541.75 132.47L542.00 132.43L542.25 132.40L542.50 132.37L542.75 132.34L543.00 132.31L543.25 132.29L543.50 132.26L543.75 132.23L544.00 132.20L544.25 132.18L544.50 132.15L544.75 132.12L545.00 132.09L545.25 132.06L545.50 132.04L545.75 132.01L546.00 131.98L546.25 131.94L546.50 131.91L546.75 131.88L547.00 131.84L547.25 131.81L547.50 131.77L547.75 131.73L548.00 131.69L548.25 131.64L548.50 131.60L548.75 131.55L549.00 131.50L549.25 131.45L549.50 131.39L549.75 131.33L550.00 131.27L550.25 131.21L550.50 131.14L550.75 131.07L551.00 131.00L551.25 130.89L551.50 130.74L551.75 130.55L552.00 130.35L552.25 130.16L552.50 130.00L552.75 129.84L553.00 129.68L553.25 129.55L553.50 129.50L553.75 129.54L554.00 129.66L554.25 129.84L554.50 130.05L554.75 130.28L555.00 130.50L555.25 130.76L555.50 131.08L555.75 131.45L556.00 131.84L556.25 132.21L556.50 132.55L556.75 132.82L557.00 133.00L557.25 133.13L557.50 133.24L557.75 133.35L558.00 133.43L558.25 133.48L558.50 133.50L558.75 133.47L559.00 133.40L559.25 133.30L559.50 133.19L559.75 133.09L560.00 133.00L560.25 132.93L560.50 132.87L560.75 132.81L561.00 132.75L561.25 132.69L561.50 132.64L561.75 132.58L562.00 132.53L562.25 132.48L562.50 132.43L562.75 132.38L563.00 132.32L563.25 132.27L563.50 132.22L563.75 132.16L564.00 132.10L564.25 132.04L564.50 131.97L564.75 131.91L565.00 131.84L565.25 131.77L565.50 131.70L565.75 131.63L566.00 131.56L566.25 131.49L566.50 131.41L566.75 131.34L567.00 131.26L567.25 131.18L567.50 131.10L567.75 131.02L568.00 130.94L568.25 130.85L568.50 130.76L568.75 130.67L569.00 130.57L569.25 130.46L569.50 130.35L569.75 130.24L570.00 130.12L570.25 130.00L570.50 129.89L570.75 129.77L571.00 129.67L571.25 129.56L571.50 129.47L571.75 129.38L572.00 129.30L572.25 129.23L572.50 129.18L572.75 129.13L573.00 129.08L573.25 129.03L573.50 128.99L573.75 128.94L574.00 128.90L574.25 128.86L574.50 128.82L574.75 128.78L575.00 128.74L575.25 128.71L575.50 128.67L575.75 128.64L576.00 128.61L576.25 128.58L576.50 128.55L576.75 128.52L577.00 128.49L577.25 128.46L577.50 128.43L577.75 128.40L578.00 128.38L578.25 128.35L578.50 128.33L578.75 128.30L579.00 128.27L579.25 128.25L579.50 128.22L579.75 128.20L580.00 128.17L580.25 128.15L580.50 128.12L580.75 128.10L581.00 128.07L581.25 128.05L581.50 128.02L581.75 127.99L582.00 127.97L582.25 127.94L582.50 127.91L582.75 127.88L583.00 127.85L583.25 127.82L583.50 127.79L583.75 127.75L584.00 127.72L584.25 127.69L584.50 127.66L584.75 127.62L585.00 127.59L585.25 127.56L585.50 127.52L585.75 127.49L586.00 127.45L586.25 127.42L586.50 127.39L586.75 127.35L587.00 127.32L587.25 127.29L587.50 127.25L587.75 127.22L588.00 127.18L588.25 127.15L588.50 127.12L588.75 127.09L589.00 127.05L589.25 127.02L589.50 126.99L589.75 126.96L590.00 126.92L590.25 126.89L590.50 126.86L590.75 126.83L591.00 126.80L591.25 126.77L591.50 126.75L591.75 126.72L592.00 126.69L592.25 126.66L592.50 126.63L592.75 126.60L593.00 126.57L593.25 126.54L593.50 126.51L593.75 126.48L594.00 126.45L594.25 126.42L594.50 126.38L594.75 126.35L595.00 126.32L595.25 126.29L595.50 126.26L595.75 126.22L596.00 126.19L596.25 126.16L596.50 126.13L596.75 126.10L597.00 126.07L597.25 126.04L597.50 126.01L597.75 125.98L598.00 125.95L598.25 125.92L598.50 125.90L598.75 125.87L599.00 125.84L599.25 125.82L599.50 125.80" fill="none" stroke="#006a00" stroke-width="2.00" stroke-linejoin="round" clip-path="url(#c10)"/>
<circle cx="386.50" cy="129.54" r="2.70" fill="#006a00" clip-path="url(#c10)"/>
<circle cx="407.50" cy="126.65" r="2.70" fill="#006a00" clip-path="url(#c10)"/>
<circle cx="428.50" cy="135.00" r="2.70" fill="#006a00" clip-path="url(#c10)"/>
<circle cx="449.50" cy="132.45" r="2.70" fill="#006a00" clip-path="url(#c10)"/>
<circle cx="470.50" cy="132.34" r="2.70" fill="#006a00" clip-path="url(#c10)"/>
<circle cx="491.50" cy="127.74" r="2.70" fill="#006a00" clip-path="url(#c10)"/>
<circle cx="512.50" cy="127.00" r="2.70" fill="#006a00" clip-path="url(#c10)"/>
<circle cx="533.50" cy="133.49" r="2.70" fill="#006a00" clip-path="url(#c10)"/>
<circle cx="554.50" cy="130.05" r="2.70" fill="#006a00" clip-path="url(#c10)"/>
<circle cx="575.50" cy="128.67" r="2.70" fill="#006a00" clip-path="url(#c10)"/>
<circle cx="596.50" cy="126.13" r="2.70" fill="#006a00" clip-path="url(#c10)"/>
<path d="M383.50 125.92L383.75 125.92L384.00 125.91L384.25 125.90L384.50 125.89L384.75 125.88L385.00 125.87L385.25 125.86L385.50 125.85L385.75 125.84L386.00 125.83L386.25 125.82L386.50 125.80L386.75 125.79L387.00 125.78L387.25 125.77L387.50 125.75L387.75 125.74L388.00 125.72L388.25 125.70L388.50 125.69L388.75 125.67L389.00 125.65L389.25 125.62L389.50 125.60L389.75 125.58L390.00 125.56L390.25 125.53L390.50 125.51L390.75 125.48L391.00 125.46L391.25 125.43L391.50 125.40L391.75 125.37L392.00 125.34L392.25 125.30L392.50 125.27L392.75 125.23L393.00 125.19L393.25 125.15L393.50 125.11L393.75 125.07L394.00 125.03L394.25 124.99L394.50 124.94L394.75 124.90L395.00 124.85L395.25 124.81L395.50 124.76L395.75 124.72L396.00 124.67L396.25 124.63L396.50 124.58L396.75 124.53L397.00 124.49L397.25 124.44L397.50 124.40L397.75 124.35L398.00 124.31L398.25 124.26L398.50 124.22L398.75 124.17L399.00 124.13L399.25 124.08L399.50 124.04L399.75 123.99L400.00 123.94L400.25 123.90L400.50 123.85L400.75 123.80L401.00 123.75L401.25 123.70L401.50 123.65L401.75 123.60L402.00 123.55L402.25 123.50L402.50 123.45L402.75 123.40L403.00 123.35L403.25 123.30L403.50 123.25L403.75 123.20L404.00 123.15L404.25 123.10L404.50 123.05L404.75 123.00L405.00 122.95L405.25 122.91L405.50 122.86L405.75 122.81L406.00 122.77L406.25 122.72L406.50 122.68L406.75 122.64L407.00 122.60L407.25 122.56L407.50 122.52L407.75 122.48L408.00 122.44L408.25 122.40L408.50 122.36L408.75 122.32L409.00 122.29L409.25 122.25L409.50 122.21L409.75 122.18L410.00 122.14L410.25 122.10L410.50 122.07L410.75 122.03L411.00 122.00L411.25 121.96L411.50 121.93L411.75 121.90L412.00 121.86L412.25 121.83L412.50 121.79L412.75 121.76L413.00 121.73L413.25 121.70L413.50 121.67L413.75 121.63L414.00 121.60L414.25 121.57L414.50 121.54L414.75 121.51L415.00 121.48L415.25 121.45L415.50 121.42L415.75 121.40L416.00 121.37L416.25 121.34L416.50 121.31L416.75 121.29L417.00 121.26L417.25 121.24L417.50 121.21L417.75 121.18L418.00 121.16L418.25 121.13L418.50 121.10L418.75 121.08L419.00 121.05L419.25 121.02L419.50 120.99L419.75 120.97L420.00 120.94L420.25 120.91L420.50 120.89L420.75 120.86L421.00 120.84L421.25 120.81L421.50 120.79L421.75 120.77L422.00 120.76L422.25 120.74L422.50 120.73L422.75 120.72L423.00 120.71L423.25 120.70L423.50 120.70L423.75 120.70L424.00 120.70L424.25 120.71L424.50 120.72L424.75 120.74L425.00 120.75L425.25 120.77L425.50 120.79L425.75 120.81L426.00 120.83L426.25 120.86L426.50 120.88L426.75 120.91L427.00 120.94L427.25 120.96L427.50 120.99L427.75 121.02L428.00 121.05L428.25 121.08L428.50 121.12L428.75 121.16L429.00 121.21L429.25 121.26L429.50 121.31L429.75 121.36L430.00 121.42L430.25 121.47L430.50 121.53L430.75 121.59L431.00 121.65L431.25 121.72L431.50 121.78L431.75 121.84L432.00 121.91L432.25 121.97L432.50 122.03L432.75 122.09L433.00 122.15L433.25 122.21L433.50 122.27L433.75 122.33L434.00 122.38L434.25 122.43L434.50 122.48L434.75 122.53L435.00 122.57L435.25 122.62L435.50 122.66L435.75 122.71L436.00 122.75L436.25 122.79L436.50 122.83L436.75 122.88L437.00 122.92L437.25 122.96L437.50 123.00L437.75 123.04L438.00 123.08L438.25 123.12L438.50 123.16L438.75 123.20L439.00 123.24L439.25 123.28L439.50 123.32L439.75 123.36L440.00 123.40L440.25 123.44L440.50 123.48L440.75 123.53L441.00 123.57L441.25 123.62L441.50 123.67L441.75 123.71L442.00 123.76L442.25 123.81L442.50 123.85L442.75 123.90L443.00 123.93L443.25 123.96L443.50 123.99L443.75 124.01L444.00 124.03L444.25 124.05L444.50 124.07L444.75 124.08L445.00 124.10L445.25 124.11L445.50 124.12L445.75 124.13L446.00 124.15L446.25 124.16L446.50 124.17L446.75 124.18L447.00 124.19L447.25 124.20L447.50 124.21L447.75 124.22L448.00 124.23L448.25 124.24L448.50 124.25L448.75 124.26L449.00 124.27L449.25 124.28L449.50 124.29L449.75 124.31L450.00 124.32L450.25 124.33L450.50 124.35L450.75 124.36L451.00 124.37L451.25 124.39L451.50 124.40L451.75 124.41L452.00 124.43L452.25 124.44L452.50 124.45L452.75 124.47L453.00 124.48L453.25 124.49L453.50 124.51L453.75 124.52L454.00 124.53L454.25 124.55L454.50 124.56L454.75 124.57L455.00 124.59L455.25 124.60L455.50 124.61L455.75 124.63L456.00 124.64L456.25 124.66L456.50 124.67L456.75 124.69L457.00 124.70L457.25 124.72L457.50 124.73L457.75 124.75L458.00 124.76L458.25 124.78L458.50 124.79L458.75 124.81L459.00 124.82L459.25 124.84L459.50 124.85L459.75 124.87L460.00 124.89L460.25 124.90L460.50 124.92L460.75 124.94L461.00 124.96L461.25 124.97L461.50 124.99L461.75 125.01L462.00 125.03L462.25 125.05L462.50 125.08L462.75 125.10L463.00 125.13L463.25 125.15L463.50 125.18L463.75 125.21L464.00 125.24L464.25 125.27L464.50 125.30L464.75 125.33L465.00 125.36L465.25 125.40L465.50 125.43L465.75 125.46L466.00 125.49L466.25 125.52L466.50 125.56L466.75 125.59L467.00 125.62L467.25 125.65L467.50 125.68L467.75 125.71L468.00 125.74L468.25 125.77L468.50 125.79L468.75 125.82L469.00 125.84L469.25 125.87L469.50 125.89L469.75 125.91L470.00 125.93L470.25 125.94L470.50 125.96L470.75 125.97L471.00 125.98L471.25 125.99L471.50 125.99L471.75 126.00L472.00 126.00L472.25 126.00L472.50 126.00L472.75 126.00L473.00 125.99L473.25 125.99L473.50 125.99L473.75 125.98L474.00 125.98L474.25 125.97L474.50 125.97L474.75 125.96L475.00 125.95L475.25 125.95L475.50 125.94L475.75 125.93L476.00 125.92L476.25 125.91L476.50 125.90L476.75 125.89L477.00 125.88L477.25 125.87L477.50 125.86L477.75 125.85L478.00 125.84L478.25 125.83L478.50 125.82L478.75 125.81L479.00 125.80L479.25 125.79L479.50 125.78L479.75 125.76L480.00 125.75L480.25 125.73L480.50 125.71L480.75 125.70L481.00 125.68L481.25 125.66L481.50 125.64L481.75 125.62L482.00 125.59L482.25 125.57L482.50 125.55L482.75 125.52L483.00 125.50L483.25 125.47L483.50 125.45L483.75 125.42L484.00 125.39L484.25 125.36L484.50 125.32L484.75 125.29L485.00 125.25L485.25 125.21L485.50 125.18L485.75 125.14L486.00 125.10L486.25 125.05L486.50 125.01L486.75 124.97L487.00 124.93L487.25 124.88L487.50 124.84L487.75 124.79L488.00 124.75L488.25 124.70L488.50 124.65L488.75 124.61L489.00 124.56L489.25 124.52L489.50 124.47L489.75 124.42L490.00 124.38L490.25 124.33L490.50 124.29L490.75 124.24L491.00 124.20L491.25 124.16L491.50 124.11L491.75 124.07L492.00 124.02L492.25 123.97L492.50 123.92L492.75 123.88L493.00 123.83L493.25 123.78L493.50 123.73L493.75 123.68L494.00 123.63L494.25 123.58L494.50 123.53L494.75 123.48L495.00 123.43L495.25 123.38L495.50 123.33L495.75 123.28L496.00 123.23L496.25 123.18L496.50 123.13L496.75 123.08L497.00 123.03L497.25 122.98L497.50 122.93L497.75 122.89L498.00 122.84L498.25 122.80L498.50 122.75L498.75 122.71L499.00 122.66L499.25 122.62L499.50 122.58L499.75 122.54L500.00 122.50L500.25 122.46L500.50 122.42L500.75 122.39L501.00 122.35L501.25 122.31L501.50 122.27L501.75 122.24L502.00 122.20L502.25 122.16L502.50 122.13L502.75 122.09L503.00 122.05L503.25 122.02L503.50 121.98L503.75 121.95L504.00 121.92L504.25 121.88L504.50 121.85L504.75 121.81L505.00 121.78L505.25 121.75L505.50 121.72L505.75 121.68L506.00 121.65L506.25 121.62L506.50 121.59L506.75 121.56L507.00 121.53L507.25 121.50L507.50 121.47L507.75 121.44L508.00 121.41L508.25 121.39L508.50 121.36L508.75 121.33L509.00 121.30L509.25 121.28L509.50 121.25L509.75 121.23L510.00 121.20L510.25 121.17L510.50 121.15L510.75 121.12L511.00 121.09L511.25 121.07L511.50 121.04L511.75 121.01L512.00 120.98L512.25 120.95L512.50 120.93L512.75 120.90L513.00 120.88L513.25 120.85L513.50 120.83L513.75 120.81L514.00 120.79L514.25 120.77L514.50 120.75L514.75 120.74L515.00 120.72L515.25 120.71L515.50 120.71L515.75 120.70L516.00 120.70L516.25 120.70L516.50 120.71L516.75 120.72L517.00 120.73L517.25 120.74L517.50 120.76L517.75 120.78L518.00 120.80L518.25 120.82L518.50 120.84L518.75 120.87L519.00 120.89L519.25 120.92L519.50 120.95L519.75 120.97L520.00 121.00L520.25 121.03L520.50 121.06L520.75 121.10L521.00 121.14L521.25 121.18L521.50 121.23L521.75 121.28L522.00 121.33L522.25 121.38L522.50 121.44L522.75 121.50L523.00 121.56L523.25 121.62L523.50 121.68L523.75 121.74L524.00 121.80L524.25 121.87L524.50 121.93L524.75 121.99L525.00 122.06L525.25 122.12L525.50 122.18L525.75 122.24L526.00 122.29L526.25 122.35L526.50 122.40L526.75 122.45L527.00 122.50L527.25 122.55L527.50 122.59L527.75 122.64L528.00 122.68L528.25 122.72L528.50 122.77L528.75 122.81L529.00 122.85L529.25 122.89L529.50 122.93L529.75 122.97L530.00 123.02L530.25 123.06L530.50 123.10L530.75 123.14L531.00 123.18L531.25 123.22L531.50 123.26L531.75 123.30L532.00 123.34L532.25 123.38L532.50 123.42L532.75 123.46L533.00 123.50L533.25 123.54L533.50 123.59L533.75 123.64L534.00 123.69L534.25 123.73L534.50 123.78L534.75 123.83L535.00 123.87L535.25 123.91L535.50 123.95L535.75 123.98L536.00 124.00L536.25 124.02L536.50 124.04L536.75 124.06L537.00 124.07L537.25 124.09L537.50 124.10L537.75 124.11L538.00 124.13L538.25 124.14L538.50 124.15L538.75 124.16L539.00 124.17L539.25 124.18L539.50 124.19L539.75 124.20L540.00 124.21L540.25 124.22L540.50 124.23L540.75 124.24L541.00 124.25L541.25 124.26L541.50 124.27L541.75 124.29L542.00 124.30L542.25 124.31L542.50 124.33L542.75 124.34L543.00 124.35L543.25 124.37L543.50 124.38L543.75 124.39L544.00 124.41L544.25 124.42L544.50 124.43L544.75 124.45L545.00 124.46L545.25 124.47L545.50 124.48L545.75 124.50L546.00 124.51L546.25 124.52L546.50 124.54L546.75 124.55L547.00 124.57L547.25 124.58L547.50 124.59L547.75 124.61L548.00 124.62L548.25 124.63L548.50 124.65L548.75 124.66L549.00 124.68L549.25 124.69L549.50 124.71L549.75 124.72L550.00 124.74L550.25 124.75L550.50 124.77L550.75 124.78L551.00 124.80L551.25 124.81L551.50 124.83L551.75 124.85L552.00 124.86L552.25 124.88L552.50 124.89L552.75 124.91L553.00 124.93L553.25 124.95L553.50 124.96L553.75 124.98L554.00 125.00L554.25 125.02L554.50 125.04L554.75 125.06L555.00 125.09L555.25 125.11L555.50 125.14L555.75 125.16L556.00 125.19L556.25 125.22L556.50 125.25L556.75 125.28L557.00 125.31L557.25 125.34L557.50 125.38L557.75 125.41L558.00 125.44L558.25 125.47L558.50 125.51L558.75 125.54L559.00 125.57L559.25 125.60L559.50 125.63L559.75 125.66L560.00 125.69L560.25 125.72L560.50 125.75L560.75 125.78L561.00 125.80L561.25 125.83L561.50 125.85L561.75 125.88L562.00 125.90L562.25 125.92L562.50 125.93L562.75 125.95L563.00 125.96L563.25 125.97L563.50 125.98L563.75 125.99L564.00 126.00L564.25 126.00L564.50 126.00L564.75 126.00L565.00 126.00L565.25 126.00L565.50 125.99L565.75 125.99L566.00 125.99L566.25 125.98L566.50 125.98L566.75 125.97L567.00 125.96L567.25 125.96L567.50 125.95L567.75 125.94L568.00 125.93L568.25 125.93L568.50 125.92L568.75 125.91L569.00 125.90L569.25 125.89L569.50 125.88L569.75 125.87L570.00 125.86L570.25 125.85L570.50 125.84L570.75 125.83L571.00 125.82L571.25 125.81L571.50 125.80L571.75 125.78L572.00 125.77L572.25 125.76L572.50 125.74L572.75 125.72L573.00 125.71L573.25 125.69L573.50 125.67L573.75 125.65L574.00 125.63L574.25 125.61L574.50 125.59L574.75 125.56L575.00 125.54L575.25 125.51L575.50 125.49L575.75 125.46L576.00 125.44L576.25 125.41L576.50 125.38L576.75 125.34L577.00 125.31L577.25 125.27L577.50 125.24L577.75 125.20L578.00 125.16L578.25 125.12L578.50 125.08L578.75 125.04L579.00 125.00L579.25 124.95L579.50 124.91L579.75 124.86L580.00 124.82L580.25 124.77L580.50 124.73L580.75 124.68L581.00 124.64L581.25 124.59L581.50 124.54L581.75 124.50L582.00 124.45L582.25 124.41L582.50 124.36L582.75 124.32L583.00 124.27L583.25 124.23L583.50 124.18L583.75 124.14L584.00 124.09L584.25 124.05L584.50 124.00L584.75 123.95L585.00 123.91L585.25 123.86L585.50 123.81L585.75 123.76L586.00 123.71L586.25 123.66L586.50 123.61L586.75 123.56L587.00 123.51L587.25 123.46L587.50 123.41L587.75 123.36L588.00 123.31L588.25 123.26L588.50 123.21L588.75 123.16L589.00 123.11L589.25 123.06L589.50 123.01L589.75 122.96L590.00 122.92L590.25 122.87L590.50 122.82L590.75 122.78L591.00 122.73L591.25 122.69L591.50 122.65L591.75 122.60L592.00 122.56L592.25 122.52L592.50 122.48L592.75 122.45L593.00 122.41L593.25 122.37L593.50 122.33L593.75 122.29L594.00 122.26L594.25 122.22L594.50 122.18L594.75 122.15L595.00 122.11L595.25 122.08L595.50 122.04L595.75 122.01L596.00 121.97L596.25 121.94L596.50 121.90L596.75 121.87L597.00 121.83L597.25 121.80L597.50 121.77L597.75 121.74L598.00 121.70L598.25 121.67L598.50 121.64L598.75 121.61L599.00 121.58L599.25 121.55L599.50 121.52" fill="none" stroke="#000000" stroke-width="2.00" stroke-linejoin="round" clip-path="url(#c10)"/>
<rect x="384.00" y="123.30" width="5.00" height="5.00" fill="#000000" clip-path="url(#c10)"/>
<rect x="405.00" y="120.02" width="5.00" height="5.00" fill="#000000" clip-path="url(#c10)"/>
<rect x="426.00" y="118.62" width="5.00" height="5.00" fill="#000000" clip-path="url(#c10)"/>
<rect x="447.00" y="121.79" width="5.00" height="5.00" fill="#000000" clip-path="url(#c10)"/>
<rect x="468.00" y="123.46" width="5.00" height="5.00" fill="#000000" clip-path="url(#c10)"/>
<rect x="489.00" y="121.61" width="5.00" height="5.00" fill="#000000" clip-path="url(#c10)"/>
<rect x="510.00" y="118.43" width="5.00" height="5.00" fill="#000000" clip-path="url(#c10)"/>
<rect x="531.00" y="121.09" width="5.00" height="5.00" fill="#000000" clip-path="url(#c10)"/>
<rect x="552.00" y="122.54" width="5.00" height="5.00" fill="#000000" clip-path="url(#c10)"/>
<rect x="573.00" y="122.99" width="5.00" height="5.00" fill="#000000" clip-path="url(#c10)"/>
<rect x="594.00" y="119.40" width="5.00" height="5.00" fill="#000000" clip-path="url(#c10)"/>
<line x1="417.60" y1="35.80" x2="426.60" y2="35.80" stroke="#0000ff" stroke-width="2"/>
<line x1="433.60" y1="35.80" x2="442.60" y2="35.80" stroke="#0000ff" stroke-width="2"/>
<text x="450.80" y="39.80" font-size="12.50" font-style="italic">P</text>
<text x="459.40" y="43.80" font-size="8.6" font-style="italic">rv</text>
<line x1="495.30" y1="35.80" x2="525.30" y2="35.80" stroke="#ff0000" stroke-width="2"/>
<text x="528.40" y="39.80" font-size="12.50" font-style="italic">P</text>
<text x="537.00" y="43.80" font-size="8.6" font-style="italic">pa</text>
<line x1="417.60" y1="53.60" x2="447.60" y2="53.60" stroke="#006a00" stroke-width="2"/>
<circle cx="432.60" cy="53.60" r="2.3" fill="#006a00"/>
<text x="450.80" y="57.80" font-size="12.50" font-style="italic">P</text>
<text x="459.40" y="61.80" font-size="8.6" font-style="italic">ra</text>
<line x1="495.50" y1="54.00" x2="525.50" y2="54.00" stroke="#000000" stroke-width="2"/>
<rect x="508.20" y="51.70" width="4.6" height="4.6" fill="#000000"/>
<text x="528.40" y="57.80" font-size="12.50" font-style="italic">P</text>
<text x="537.00" y="61.80" font-size="8.6" font-style="italic">pv</text>
<line x1="108.50" y1="297.50" x2="108.50" y2="292.50" stroke="#1a1a1a" stroke-width="1"/>
<line x1="108.50" y1="182.00" x2="108.50" y2="187.00" stroke="#1a1a1a" stroke-width="1"/>
<text x="108.60" y="313.10" text-anchor="middle" font-size="12.50">58.0</text>
<line x1="129.50" y1="297.50" x2="129.50" y2="294.70" stroke="#1a1a1a" stroke-width="1"/>
<line x1="129.50" y1="182.00" x2="129.50" y2="184.80" stroke="#1a1a1a" stroke-width="1"/>
<line x1="150.50" y1="297.50" x2="150.50" y2="292.50" stroke="#1a1a1a" stroke-width="1"/>
<line x1="150.50" y1="182.00" x2="150.50" y2="187.00" stroke="#1a1a1a" stroke-width="1"/>
<text x="150.60" y="313.10" text-anchor="middle" font-size="12.50">58.4</text>
<line x1="171.50" y1="297.50" x2="171.50" y2="294.70" stroke="#1a1a1a" stroke-width="1"/>
<line x1="171.50" y1="182.00" x2="171.50" y2="184.80" stroke="#1a1a1a" stroke-width="1"/>
<line x1="192.50" y1="297.50" x2="192.50" y2="292.50" stroke="#1a1a1a" stroke-width="1"/>
<line x1="192.50" y1="182.00" x2="192.50" y2="187.00" stroke="#1a1a1a" stroke-width="1"/>
<text x="192.60" y="313.10" text-anchor="middle" font-size="12.50">58.8</text>
<line x1="213.50" y1="297.50" x2="213.50" y2="294.70" stroke="#1a1a1a" stroke-width="1"/>
<line x1="213.50" y1="182.00" x2="213.50" y2="184.80" stroke="#1a1a1a" stroke-width="1"/>
<line x1="234.50" y1="297.50" x2="234.50" y2="292.50" stroke="#1a1a1a" stroke-width="1"/>
<line x1="234.50" y1="182.00" x2="234.50" y2="187.00" stroke="#1a1a1a" stroke-width="1"/>
<text x="234.60" y="313.10" text-anchor="middle" font-size="12.50">59.2</text>
<line x1="255.50" y1="297.50" x2="255.50" y2="294.70" stroke="#1a1a1a" stroke-width="1"/>
<line x1="255.50" y1="182.00" x2="255.50" y2="184.80" stroke="#1a1a1a" stroke-width="1"/>
<line x1="276.50" y1="297.50" x2="276.50" y2="292.50" stroke="#1a1a1a" stroke-width="1"/>
<line x1="276.50" y1="182.00" x2="276.50" y2="187.00" stroke="#1a1a1a" stroke-width="1"/>
<text x="276.60" y="313.10" text-anchor="middle" font-size="12.50">59.6</text>
<line x1="297.50" y1="297.50" x2="297.50" y2="294.70" stroke="#1a1a1a" stroke-width="1"/>
<line x1="297.50" y1="182.00" x2="297.50" y2="184.80" stroke="#1a1a1a" stroke-width="1"/>
<line x1="318.50" y1="297.50" x2="318.50" y2="292.50" stroke="#1a1a1a" stroke-width="1"/>
<line x1="318.50" y1="182.00" x2="318.50" y2="187.00" stroke="#1a1a1a" stroke-width="1"/>
<text x="318.60" y="313.10" text-anchor="middle" font-size="12.50">60.0</text>
<line x1="108.50" y1="297.50" x2="113.50" y2="297.50" stroke="#1a1a1a" stroke-width="1"/>
<line x1="318.50" y1="297.50" x2="313.50" y2="297.50" stroke="#1a1a1a" stroke-width="1"/>
<text x="103.30" y="301.90" text-anchor="end" font-size="12.50">-200</text>
<line x1="108.50" y1="287.88" x2="111.30" y2="287.88" stroke="#1a1a1a" stroke-width="1"/>
<line x1="318.50" y1="287.88" x2="315.70" y2="287.88" stroke="#1a1a1a" stroke-width="1"/>
<line x1="108.50" y1="278.25" x2="113.50" y2="278.25" stroke="#1a1a1a" stroke-width="1"/>
<line x1="318.50" y1="278.25" x2="313.50" y2="278.25" stroke="#1a1a1a" stroke-width="1"/>
<text x="103.30" y="282.65" text-anchor="end" font-size="12.50">0</text>
<line x1="108.50" y1="268.62" x2="111.30" y2="268.62" stroke="#1a1a1a" stroke-width="1"/>
<line x1="318.50" y1="268.62" x2="315.70" y2="268.62" stroke="#1a1a1a" stroke-width="1"/>
<line x1="108.50" y1="259.00" x2="113.50" y2="259.00" stroke="#1a1a1a" stroke-width="1"/>
<line x1="318.50" y1="259.00" x2="313.50" y2="259.00" stroke="#1a1a1a" stroke-width="1"/>
<text x="103.30" y="263.40" text-anchor="end" font-size="12.50">200</text>
<line x1="108.50" y1="249.38" x2="111.30" y2="249.38" stroke="#1a1a1a" stroke-width="1"/>
<line x1="318.50" y1="249.38" x2="315.70" y2="249.38" stroke="#1a1a1a" stroke-width="1"/>
<line x1="108.50" y1="239.75" x2="113.50" y2="239.75" stroke="#1a1a1a" stroke-width="1"/>
<line x1="318.50" y1="239.75" x2="313.50" y2="239.75" stroke="#1a1a1a" stroke-width="1"/>
<text x="103.30" y="244.15" text-anchor="end" font-size="12.50">400</text>
<line x1="108.50" y1="230.12" x2="111.30" y2="230.12" stroke="#1a1a1a" stroke-width="1"/>
<line x1="318.50" y1="230.12" x2="315.70" y2="230.12" stroke="#1a1a1a" stroke-width="1"/>
<line x1="108.50" y1="220.50" x2="113.50" y2="220.50" stroke="#1a1a1a" stroke-width="1"/>
<line x1="318.50" y1="220.50" x2="313.50" y2="220.50" stroke="#1a1a1a" stroke-width="1"/>
<text x="103.30" y="224.90" text-anchor="end" font-size="12.50">600</text>
<line x1="108.50" y1="210.88" x2="111.30" y2="210.88" stroke="#1a1a1a" stroke-width="1"/>
<line x1="318.50" y1="210.88" x2="315.70" y2="210.88" stroke="#1a1a1a" stroke-width="1"/>
<line x1="108.50" y1="201.25" x2="113.50" y2="201.25" stroke="#1a1a1a" stroke-width="1"/>
<line x1="318.50" y1="201.25" x2="313.50" y2="201.25" stroke="#1a1a1a" stroke-width="1"/>
<text x="103.30" y="205.65" text-anchor="end" font-size="12.50">800</text>
<line x1="108.50" y1="191.62" x2="111.30" y2="191.62" stroke="#1a1a1a" stroke-width="1"/>
<line x1="318.50" y1="191.62" x2="315.70" y2="191.62" stroke="#1a1a1a" stroke-width="1"/>
<line x1="108.50" y1="182.00" x2="113.50" y2="182.00" stroke="#1a1a1a" stroke-width="1"/>
<line x1="318.50" y1="182.00" x2="313.50" y2="182.00" stroke="#1a1a1a" stroke-width="1"/>
<text x="103.30" y="186.40" text-anchor="end" font-size="12.50">1000</text>
<rect x="108.50" y="182.00" width="210.00" height="115.50" fill="none" stroke="#1a1a1a" stroke-width="1"/>
<text x="214.10" y="325.10" text-anchor="middle" font-size="13.00">Time (s)</text>
<text transform="translate(69.00 238.85) rotate(-90)" text-anchor="middle" font-size="13.00">Flow rate (mL/s)</text>
<path d="M105.50 277.80L105.75 277.80L106.00 277.80L106.25 277.80L106.50 277.80L106.75 277.80L107.00 277.80L107.25 277.80L107.50 277.80L107.75 275.88L108.00 271.62L108.25 267.15L108.50 262.22L108.75 256.86L109.00 252.00L109.25 247.97L109.50 244.29L109.75 240.72L110.00 236.99L110.25 233.11L110.50 229.48L110.75 226.49L111.00 224.18L111.25 222.11L111.50 220.40L111.75 219.17L112.00 218.37L112.25 217.65L112.50 217.04L112.75 216.57L113.00 216.28L113.25 216.20L113.50 216.34L113.75 216.62L114.00 217.00L114.25 217.42L114.50 217.89L114.75 218.51L115.00 219.25L115.25 220.09L115.50 221.00L115.75 222.06L116.00 223.32L116.25 224.67L116.50 226.00L116.75 227.30L117.00 228.61L117.25 229.94L117.50 231.29L117.75 232.66L118.00 234.08L118.25 235.60L118.50 237.15L118.75 238.65L119.00 240.00L119.25 241.19L119.50 242.30L119.75 243.34L120.00 244.34L120.25 245.31L120.50 246.28L120.75 247.25L121.00 248.24L121.25 249.22L121.50 250.18L121.75 251.13L122.00 252.05L122.25 252.93L122.50 253.76L122.75 254.55L123.00 255.27L123.25 255.92L123.50 256.50L123.75 257.02L124.00 257.50L124.25 257.96L124.50 258.39L124.75 258.80L125.00 259.19L125.25 259.56L125.50 259.91L125.75 260.25L126.00 260.59L126.25 260.92L126.50 261.24L126.75 261.57L127.00 261.90L127.25 262.23L127.50 262.57L127.75 262.93L128.00 263.29L128.25 263.64L128.50 263.99L128.75 264.33L129.00 264.67L129.25 265.01L129.50 265.35L129.75 265.69L130.00 266.04L130.25 266.39L130.50 266.75L130.75 267.12L131.00 267.50L131.25 267.87L131.50 268.23L131.75 268.61L132.00 269.01L132.25 269.47L132.50 270.00L132.75 270.68L133.00 271.53L133.25 272.49L133.50 273.50L133.75 274.78L134.00 276.37L134.25 277.89L134.50 278.98L134.75 279.30L135.00 279.25L135.25 279.15L135.50 279.00L135.75 278.57L136.00 277.90L136.25 277.44L136.50 277.13L136.75 276.89L137.00 276.80L137.25 276.88L137.50 277.08L137.75 277.31L138.00 277.50L138.25 277.66L138.50 277.82L138.75 277.95L139.00 278.00L139.25 277.97L139.50 277.90L139.75 277.83L140.00 277.80L140.25 277.80L140.50 277.80L140.75 277.80L141.00 277.80L141.25 277.80L141.50 277.80L141.75 277.80L142.00 277.80L142.25 277.80L142.50 277.80L142.75 277.80L143.00 277.80L143.25 277.80L143.50 277.80L143.75 277.80L144.00 277.80L144.25 277.80L144.50 277.80L144.75 277.80L145.00 277.80L145.25 277.80L145.50 277.80L145.75 277.80L146.00 277.80L146.25 277.80L146.50 277.80L146.75 277.80L147.00 277.80L147.25 277.80L147.50 277.80L147.75 277.80L148.00 277.80L148.25 277.80L148.50 277.80L148.75 277.80L149.00 277.80L149.25 277.80L149.50 277.80L149.75 277.80L150.00 277.80L150.25 277.80L150.50 277.80L150.75 277.80L151.00 277.80L151.25 277.80L151.50 277.80L151.75 277.80L152.00 277.80L152.25 277.80L152.50 277.80L152.75 277.80L153.00 277.80L153.25 277.80L153.50 277.80L153.75 277.80L154.00 277.80L154.25 277.80L154.50 277.80L154.75 277.80L155.00 277.80L155.25 277.80L155.50 277.80L155.75 277.80L156.00 277.80L156.25 277.80L156.50 277.80L156.75 277.80L157.00 277.80L157.25 277.80L157.50 277.80L157.75 277.80L158.00 277.80L158.25 277.80L158.50 277.80L158.75 277.80L159.00 277.80L159.25 277.80L159.50 277.80L159.75 277.80L160.00 277.80L160.25 277.80L160.50 277.80L160.75 277.80L161.00 277.80L161.25 277.80L161.50 277.80L161.75 277.80L162.00 277.80L162.25 277.80L162.50 277.80L162.75 277.80L163.00 277.80L163.25 277.80L163.50 277.80L163.75 277.80L164.00 277.80L164.25 277.80L164.50 277.80L164.75 277.80L165.00 277.80L165.25 277.80L165.50 277.80L165.75 277.80L166.00 277.80L166.25 277.80L166.50 277.80L166.75 277.80L167.00 277.80L167.25 277.80L167.50 277.80L167.75 277.80L168.00 277.80L168.25 277.80L168.50 277.80L168.75 277.80L169.00 277.80L169.25 277.80L169.50 277.80L169.75 277.80L170.00 277.80L170.25 277.80L170.50 277.80L170.75 277.80L171.00 277.80L171.25 277.80L171.50 277.80L171.75 277.80L172.00 277.80L172.25 277.80L172.50 277.80L172.75 277.80L173.00 277.80L173.25 277.80L173.50 277.80L173.75 277.80L174.00 277.80L174.25 277.80L174.50 277.80L174.75 277.80L175.00 277.80L175.25 277.80L175.50 277.80L175.75 277.80L176.00 277.80L176.25 277.80L176.50 277.80L176.75 277.80L177.00 277.80L177.25 277.80L177.50 277.80L177.75 277.80L178.00 277.80L178.25 277.80L178.50 277.80L178.75 277.80L179.00 277.80L179.25 277.80L179.50 277.80L179.75 277.80L180.00 277.80L180.25 277.80L180.50 277.80L180.75 277.80L181.00 277.80L181.25 277.80L181.50 277.80L181.75 277.80L182.00 277.80L182.25 277.80L182.50 277.80L182.75 277.80L183.00 277.80L183.25 277.80L183.50 277.80L183.75 277.80L184.00 277.80L184.25 277.80L184.50 277.80L184.75 277.80L185.00 277.80L185.25 277.80L185.50 277.80L185.75 277.80L186.00 277.80L186.25 277.80L186.50 277.80L186.75 277.80L187.00 277.80L187.25 277.80L187.50 277.80L187.75 277.80L188.00 277.80L188.25 277.80L188.50 277.80L188.75 277.80L189.00 277.80L189.25 277.80L189.50 277.80L189.75 277.80L190.00 277.80L190.25 277.80L190.50 277.80L190.75 277.80L191.00 277.80L191.25 277.80L191.50 277.80L191.75 277.80L192.00 277.80L192.25 277.80L192.50 277.80L192.75 277.80L193.00 277.80L193.25 277.80L193.50 277.80L193.75 277.80L194.00 277.80L194.25 277.80L194.50 277.80L194.75 277.80L195.00 277.80L195.25 277.80L195.50 277.80L195.75 277.80L196.00 277.80L196.25 277.80L196.50 277.80L196.75 277.80L197.00 277.80L197.25 277.80L197.50 277.80L197.75 277.80L198.00 277.80L198.25 277.80L198.50 277.80L198.75 277.80L199.00 277.80L199.25 277.80L199.50 277.80L199.75 277.80L200.00 277.80L200.25 277.80L200.50 277.80L200.75 275.88L201.00 271.62L201.25 267.15L201.50 262.22L201.75 256.86L202.00 252.00L202.25 247.97L202.50 244.29L202.75 240.72L203.00 236.99L203.25 233.11L203.50 229.48L203.75 226.49L204.00 224.18L204.25 222.11L204.50 220.40L204.75 219.17L205.00 218.37L205.25 217.65L205.50 217.04L205.75 216.57L206.00 216.28L206.25 216.20L206.50 216.34L206.75 216.62L207.00 217.00L207.25 217.42L207.50 217.89L207.75 218.51L208.00 219.25L208.25 220.09L208.50 221.00L208.75 222.06L209.00 223.32L209.25 224.67L209.50 226.00L209.75 227.30L210.00 228.61L210.25 229.94L210.50 231.29L210.75 232.66L211.00 234.08L211.25 235.60L211.50 237.15L211.75 238.65L212.00 240.00L212.25 241.19L212.50 242.30L212.75 243.34L213.00 244.34L213.25 245.31L213.50 246.28L213.75 247.25L214.00 248.24L214.25 249.22L214.50 250.18L214.75 251.13L215.00 252.05L215.25 252.93L215.50 253.76L215.75 254.55L216.00 255.27L216.25 255.92L216.50 256.50L216.75 257.02L217.00 257.50L217.25 257.96L217.50 258.39L217.75 258.80L218.00 259.19L218.25 259.56L218.50 259.91L218.75 260.25L219.00 260.59L219.25 260.92L219.50 261.24L219.75 261.57L220.00 261.90L220.25 262.23L220.50 262.57L220.75 262.93L221.00 263.29L221.25 263.64L221.50 263.99L221.75 264.33L222.00 264.67L222.25 265.01L222.50 265.35L222.75 265.69L223.00 266.04L223.25 266.39L223.50 266.75L223.75 267.12L224.00 267.50L224.25 267.87L224.50 268.23L224.75 268.61L225.00 269.01L225.25 269.47L225.50 270.00L225.75 270.68L226.00 271.53L226.25 272.49L226.50 273.50L226.75 274.78L227.00 276.37L227.25 277.89L227.50 278.98L227.75 279.30L228.00 279.25L228.25 279.15L228.50 279.00L228.75 278.57L229.00 277.90L229.25 277.44L229.50 277.13L229.75 276.89L230.00 276.80L230.25 276.88L230.50 277.08L230.75 277.31L231.00 277.50L231.25 277.66L231.50 277.82L231.75 277.95L232.00 278.00L232.25 277.97L232.50 277.90L232.75 277.83L233.00 277.80L233.25 277.80L233.50 277.80L233.75 277.80L234.00 277.80L234.25 277.80L234.50 277.80L234.75 277.80L235.00 277.80L235.25 277.80L235.50 277.80L235.75 277.80L236.00 277.80L236.25 277.80L236.50 277.80L236.75 277.80L237.00 277.80L237.25 277.80L237.50 277.80L237.75 277.80L238.00 277.80L238.25 277.80L238.50 277.80L238.75 277.80L239.00 277.80L239.25 277.80L239.50 277.80L239.75 277.80L240.00 277.80L240.25 277.80L240.50 277.80L240.75 277.80L241.00 277.80L241.25 277.80L241.50 277.80L241.75 277.80L242.00 277.80L242.25 277.80L242.50 277.80L242.75 277.80L243.00 277.80L243.25 277.80L243.50 277.80L243.75 277.80L244.00 277.80L244.25 277.80L244.50 277.80L244.75 277.80L245.00 277.80L245.25 277.80L245.50 277.80L245.75 277.80L246.00 277.80L246.25 277.80L246.50 277.80L246.75 277.80L247.00 277.80L247.25 277.80L247.50 277.80L247.75 277.80L248.00 277.80L248.25 277.80L248.50 277.80L248.75 277.80L249.00 277.80L249.25 277.80L249.50 277.80L249.75 277.80L250.00 277.80L250.25 277.80L250.50 277.80L250.75 277.80L251.00 277.80L251.25 277.80L251.50 277.80L251.75 277.80L252.00 277.80L252.25 277.80L252.50 277.80L252.75 277.80L253.00 277.80L253.25 277.80L253.50 277.80L253.75 277.80L254.00 277.80L254.25 277.80L254.50 277.80L254.75 277.80L255.00 277.80L255.25 277.80L255.50 277.80L255.75 277.80L256.00 277.80L256.25 277.80L256.50 277.80L256.75 277.80L257.00 277.80L257.25 277.80L257.50 277.80L257.75 277.80L258.00 277.80L258.25 277.80L258.50 277.80L258.75 277.80L259.00 277.80L259.25 277.80L259.50 277.80L259.75 277.80L260.00 277.80L260.25 277.80L260.50 277.80L260.75 277.80L261.00 277.80L261.25 277.80L261.50 277.80L261.75 277.80L262.00 277.80L262.25 277.80L262.50 277.80L262.75 277.80L263.00 277.80L263.25 277.80L263.50 277.80L263.75 277.80L264.00 277.80L264.25 277.80L264.50 277.80L264.75 277.80L265.00 277.80L265.25 277.80L265.50 277.80L265.75 277.80L266.00 277.80L266.25 277.80L266.50 277.80L266.75 277.80L267.00 277.80L267.25 277.80L267.50 277.80L267.75 277.80L268.00 277.80L268.25 277.80L268.50 277.80L268.75 277.80L269.00 277.80L269.25 277.80L269.50 277.80L269.75 277.80L270.00 277.80L270.25 277.80L270.50 277.80L270.75 277.80L271.00 277.80L271.25 277.80L271.50 277.80L271.75 277.80L272.00 277.80L272.25 277.80L272.50 277.80L272.75 277.80L273.00 277.80L273.25 277.80L273.50 277.80L273.75 277.80L274.00 277.80L274.25 277.80L274.50 277.80L274.75 277.80L275.00 277.80L275.25 277.80L275.50 277.80L275.75 277.80L276.00 277.80L276.25 277.80L276.50 277.80L276.75 277.80L277.00 277.80L277.25 277.80L277.50 277.80L277.75 277.80L278.00 277.80L278.25 277.80L278.50 277.80L278.75 277.80L279.00 277.80L279.25 277.80L279.50 277.80L279.75 277.80L280.00 277.80L280.25 277.80L280.50 277.80L280.75 277.80L281.00 277.80L281.25 277.80L281.50 277.80L281.75 277.80L282.00 277.80L282.25 277.80L282.50 277.80L282.75 277.80L283.00 277.80L283.25 277.80L283.50 277.80L283.75 277.80L284.00 277.80L284.25 277.80L284.50 277.80L284.75 277.80L285.00 277.80L285.25 277.80L285.50 277.80L285.75 277.80L286.00 277.80L286.25 277.80L286.50 277.80L286.75 277.80L287.00 277.80L287.25 277.80L287.50 277.80L287.75 277.80L288.00 277.80L288.25 277.80L288.50 277.80L288.75 277.80L289.00 277.80L289.25 277.80L289.50 277.80L289.75 277.80L290.00 277.80L290.25 277.80L290.50 277.80L290.75 277.80L291.00 277.80L291.25 277.80L291.50 277.80L291.75 277.80L292.00 277.80L292.25 277.80L292.50 277.80L292.75 277.80L293.00 277.46L293.25 274.34L293.50 269.75L293.75 265.29L294.00 260.07L294.25 254.80L294.50 250.33L294.75 246.47L295.00 242.86L295.25 239.27L295.50 235.43L295.75 231.61L296.00 228.19L296.25 225.54L296.50 223.32L296.75 221.37L297.00 219.84L297.25 218.84L297.50 218.07L297.75 217.39L298.00 216.83L298.25 216.43L298.50 216.22L298.75 216.24L299.00 216.44L299.25 216.76L299.50 217.16L299.75 217.59L300.00 218.12L300.25 218.79L300.50 219.58L300.75 220.45L301.00 221.39L301.25 222.55L301.50 223.85L301.75 225.21L302.00 226.52L302.25 227.82L302.50 229.14L302.75 230.47L303.00 231.83L303.25 233.22L303.50 234.67L303.75 236.22L304.00 237.77L304.25 239.22L304.50 240.49L304.75 241.64L305.00 242.72L305.25 243.74L305.50 244.73L305.75 245.69L306.00 246.67L306.25 247.65L306.50 248.63L306.75 249.60L307.00 250.56L307.25 251.50L307.50 252.40L307.75 253.27L308.00 254.08L308.25 254.84L308.50 255.54L308.75 256.16L309.00 256.71L309.25 257.22L309.50 257.69L309.75 258.14L310.00 258.56L310.25 258.96L310.50 259.34L310.75 259.70L311.00 260.05L311.25 260.39L311.50 260.72L311.75 261.05L312.00 261.37L312.25 261.70L312.50 262.03L312.75 262.37L313.00 262.71L313.25 263.07L313.50 263.43L313.75 263.78L314.00 264.13L314.25 264.47L314.50 264.81L314.75 265.15L315.00 265.49L315.25 265.83L315.50 266.18L315.75 266.54L316.00 266.90L316.25 267.27L316.50 267.65L316.75 268.02L317.00 268.38L317.25 268.76L317.50 269.18L317.75 269.67L318.00 270.25L318.25 271.01L318.50 271.91L318.75 272.89L319.00 273.95L319.25 275.40L319.50 277.01L319.75 278.40L320.00 279.22L320.25 279.29L320.50 279.21L320.75 279.09L321.00 278.88L321.25 278.30L321.50 277.67" fill="none" stroke="#0000ff" stroke-width="2.00" stroke-linejoin="round" clip-path="url(#c01)"/>
<line x1="224.00" y1="189.80" x2="254.00" y2="189.80" stroke="#0000ff" stroke-width="2"/>
<text x="257.60" y="194.20" font-size="12.50" font-style="italic">Q</text>
<text x="267.20" y="198.20" font-size="8.6" font-style="italic">ao</text>
<line x1="386.50" y1="297.50" x2="386.50" y2="292.50" stroke="#1a1a1a" stroke-width="1"/>
<line x1="386.50" y1="182.00" x2="386.50" y2="187.00" stroke="#1a1a1a" stroke-width="1"/>
<text x="386.60" y="313.10" text-anchor="middle" font-size="12.50">58.0</text>
<line x1="407.50" y1="297.50" x2="407.50" y2="294.70" stroke="#1a1a1a" stroke-width="1"/>
<line x1="407.50" y1="182.00" x2="407.50" y2="184.80" stroke="#1a1a1a" stroke-width="1"/>
<line x1="428.50" y1="297.50" x2="428.50" y2="292.50" stroke="#1a1a1a" stroke-width="1"/>
<line x1="428.50" y1="182.00" x2="428.50" y2="187.00" stroke="#1a1a1a" stroke-width="1"/>
<text x="428.60" y="313.10" text-anchor="middle" font-size="12.50">58.4</text>
<line x1="449.50" y1="297.50" x2="449.50" y2="294.70" stroke="#1a1a1a" stroke-width="1"/>
<line x1="449.50" y1="182.00" x2="449.50" y2="184.80" stroke="#1a1a1a" stroke-width="1"/>
<line x1="470.50" y1="297.50" x2="470.50" y2="292.50" stroke="#1a1a1a" stroke-width="1"/>
<line x1="470.50" y1="182.00" x2="470.50" y2="187.00" stroke="#1a1a1a" stroke-width="1"/>
<text x="470.60" y="313.10" text-anchor="middle" font-size="12.50">58.8</text>
<line x1="491.50" y1="297.50" x2="491.50" y2="294.70" stroke="#1a1a1a" stroke-width="1"/>
<line x1="491.50" y1="182.00" x2="491.50" y2="184.80" stroke="#1a1a1a" stroke-width="1"/>
<line x1="512.50" y1="297.50" x2="512.50" y2="292.50" stroke="#1a1a1a" stroke-width="1"/>
<line x1="512.50" y1="182.00" x2="512.50" y2="187.00" stroke="#1a1a1a" stroke-width="1"/>
<text x="512.60" y="313.10" text-anchor="middle" font-size="12.50">59.2</text>
<line x1="533.50" y1="297.50" x2="533.50" y2="294.70" stroke="#1a1a1a" stroke-width="1"/>
<line x1="533.50" y1="182.00" x2="533.50" y2="184.80" stroke="#1a1a1a" stroke-width="1"/>
<line x1="554.50" y1="297.50" x2="554.50" y2="292.50" stroke="#1a1a1a" stroke-width="1"/>
<line x1="554.50" y1="182.00" x2="554.50" y2="187.00" stroke="#1a1a1a" stroke-width="1"/>
<text x="554.60" y="313.10" text-anchor="middle" font-size="12.50">59.6</text>
<line x1="575.50" y1="297.50" x2="575.50" y2="294.70" stroke="#1a1a1a" stroke-width="1"/>
<line x1="575.50" y1="182.00" x2="575.50" y2="184.80" stroke="#1a1a1a" stroke-width="1"/>
<line x1="596.50" y1="297.50" x2="596.50" y2="292.50" stroke="#1a1a1a" stroke-width="1"/>
<line x1="596.50" y1="182.00" x2="596.50" y2="187.00" stroke="#1a1a1a" stroke-width="1"/>
<text x="596.60" y="313.10" text-anchor="middle" font-size="12.50">60.0</text>
<line x1="386.50" y1="297.50" x2="391.50" y2="297.50" stroke="#1a1a1a" stroke-width="1"/>
<line x1="596.50" y1="297.50" x2="591.50" y2="297.50" stroke="#1a1a1a" stroke-width="1"/>
<text x="381.30" y="301.90" text-anchor="end" font-size="12.50">-200</text>
<line x1="386.50" y1="287.88" x2="389.30" y2="287.88" stroke="#1a1a1a" stroke-width="1"/>
<line x1="596.50" y1="287.88" x2="593.70" y2="287.88" stroke="#1a1a1a" stroke-width="1"/>
<line x1="386.50" y1="278.25" x2="391.50" y2="278.25" stroke="#1a1a1a" stroke-width="1"/>
<line x1="596.50" y1="278.25" x2="591.50" y2="278.25" stroke="#1a1a1a" stroke-width="1"/>
<text x="381.30" y="282.65" text-anchor="end" font-size="12.50">0</text>
<line x1="386.50" y1="268.62" x2="389.30" y2="268.62" stroke="#1a1a1a" stroke-width="1"/>
<line x1="596.50" y1="268.62" x2="593.70" y2="268.62" stroke="#1a1a1a" stroke-width="1"/>
<line x1="386.50" y1="259.00" x2="391.50" y2="259.00" stroke="#1a1a1a" stroke-width="1"/>
<line x1="596.50" y1="259.00" x2="591.50" y2="259.00" stroke="#1a1a1a" stroke-width="1"/>
<text x="381.30" y="263.40" text-anchor="end" font-size="12.50">200</text>
<line x1="386.50" y1="249.38" x2="389.30" y2="249.38" stroke="#1a1a1a" stroke-width="1"/>
<line x1="596.50" y1="249.38" x2="593.70" y2="249.38" stroke="#1a1a1a" stroke-width="1"/>
<line x1="386.50" y1="239.75" x2="391.50" y2="239.75" stroke="#1a1a1a" stroke-width="1"/>
<line x1="596.50" y1="239.75" x2="591.50" y2="239.75" stroke="#1a1a1a" stroke-width="1"/>
<text x="381.30" y="244.15" text-anchor="end" font-size="12.50">400</text>
<line x1="386.50" y1="230.12" x2="389.30" y2="230.12" stroke="#1a1a1a" stroke-width="1"/>
<line x1="596.50" y1="230.12" x2="593.70" y2="230.12" stroke="#1a1a1a" stroke-width="1"/>
<line x1="386.50" y1="220.50" x2="391.50" y2="220.50" stroke="#1a1a1a" stroke-width="1"/>
<line x1="596.50" y1="220.50" x2="591.50" y2="220.50" stroke="#1a1a1a" stroke-width="1"/>
<text x="381.30" y="224.90" text-anchor="end" font-size="12.50">600</text>
<line x1="386.50" y1="210.88" x2="389.30" y2="210.88" stroke="#1a1a1a" stroke-width="1"/>
<line x1="596.50" y1="210.88" x2="593.70" y2="210.88" stroke="#1a1a1a" stroke-width="1"/>
<line x1="386.50" y1="201.25" x2="391.50" y2="201.25" stroke="#1a1a1a" stroke-width="1"/>
<line x1="596.50" y1="201.25" x2="591.50" y2="201.25" stroke="#1a1a1a" stroke-width="1"/>
<text x="381.30" y="205.65" text-anchor="end" font-size="12.50">800</text>
<line x1="386.50" y1="191.62" x2="389.30" y2="191.62" stroke="#1a1a1a" stroke-width="1"/>
<line x1="596.50" y1="191.62" x2="593.70" y2="191.62" stroke="#1a1a1a" stroke-width="1"/>
<line x1="386.50" y1="182.00" x2="391.50" y2="182.00" stroke="#1a1a1a" stroke-width="1"/>
<line x1="596.50" y1="182.00" x2="591.50" y2="182.00" stroke="#1a1a1a" stroke-width="1"/>
<text x="381.30" y="186.40" text-anchor="end" font-size="12.50">1000</text>
<rect x="386.50" y="182.00" width="210.00" height="115.50" fill="none" stroke="#1a1a1a" stroke-width="1"/>
<text x="492.10" y="325.10" text-anchor="middle" font-size="13.00">Time (s)</text>
<text transform="translate(346.60 238.85) rotate(-90)" text-anchor="middle" font-size="13.00">Flow rate (mL/s)</text>
<path d="M383.50 227.74L383.75 226.01L384.00 224.41L384.25 222.94L384.50 221.65L384.75 220.62L385.00 219.92L385.25 219.61L385.50 219.69L385.75 220.00L386.00 220.49L386.25 221.09L386.50 221.74L386.75 222.44L387.00 223.35L387.25 224.42L387.50 225.55L387.75 226.69L388.00 227.92L388.25 229.24L388.50 230.61L388.75 232.02L389.00 233.43L389.25 234.81L389.50 236.15L389.75 237.41L390.00 238.57L390.25 239.62L390.50 240.64L390.75 241.62L391.00 242.58L391.25 243.51L391.50 244.41L391.75 245.29L392.00 246.13L392.25 246.94L392.50 247.72L392.75 248.47L393.00 249.18L393.25 249.87L393.50 250.52L393.75 251.17L394.00 251.79L394.25 252.41L394.50 253.01L394.75 253.60L395.00 254.17L395.25 254.73L395.50 255.27L395.75 255.80L396.00 256.31L396.25 256.81L396.50 257.29L396.75 257.76L397.00 258.21L397.25 258.65L397.50 259.06L397.75 259.47L398.00 259.85L398.25 260.22L398.50 260.58L398.75 260.93L399.00 261.27L399.25 261.59L399.50 261.91L399.75 262.23L400.00 262.53L400.25 262.82L400.50 263.11L400.75 263.39L401.00 263.66L401.25 263.92L401.50 264.18L401.75 264.43L402.00 264.67L402.25 264.91L402.50 265.14L402.75 265.37L403.00 265.59L403.25 265.80L403.50 265.99L403.75 266.18L404.00 266.36L404.25 266.53L404.50 266.71L404.75 266.88L405.00 267.05L405.25 267.23L405.50 267.42L405.75 267.62L406.00 267.81L406.25 268.00L406.50 268.19L406.75 268.38L407.00 268.58L407.25 268.78L407.50 268.99L407.75 269.20L408.00 269.42L408.25 269.65L408.50 269.90L408.75 270.16L409.00 270.42L409.25 270.69L409.50 270.98L409.75 271.29L410.00 271.61L410.25 271.96L410.50 272.33L410.75 272.74L411.00 273.19L411.25 273.74L411.50 274.37L411.75 275.05L412.00 275.73L412.25 276.46L412.50 277.36L412.75 278.06L413.00 278.18L413.25 278.04L413.50 277.86L413.75 277.72L414.00 277.59L414.25 277.47L414.50 277.41L414.75 277.40L415.00 277.40L415.25 277.40L415.50 277.40L415.75 277.40L416.00 277.40L416.25 277.40L416.50 277.40L416.75 277.40L417.00 277.40L417.25 277.40L417.50 277.40L417.75 277.40L418.00 277.40L418.25 277.40L418.50 277.40L418.75 277.40L419.00 277.40L419.25 277.40L419.50 277.40L419.75 277.40L420.00 277.40L420.25 277.40L420.50 277.40L420.75 277.40L421.00 277.40L421.25 277.40L421.50 277.40L421.75 277.40L422.00 277.40L422.25 277.40L422.50 277.40L422.75 277.40L423.00 277.40L423.25 277.40L423.50 277.40L423.75 277.40L424.00 277.40L424.25 277.40L424.50 277.40L424.75 277.40L425.00 277.40L425.25 277.40L425.50 277.40L425.75 277.40L426.00 277.40L426.25 277.40L426.50 277.40L426.75 277.40L427.00 277.40L427.25 277.40L427.50 277.40L427.75 277.40L428.00 277.40L428.25 277.40L428.50 277.40L428.75 277.40L429.00 277.40L429.25 277.40L429.50 277.40L429.75 277.40L430.00 277.40L430.25 277.40L430.50 277.40L430.75 277.40L431.00 277.40L431.25 277.40L431.50 277.40L431.75 277.40L432.00 277.40L432.25 277.40L432.50 277.40L432.75 277.40L433.00 277.40L433.25 277.40L433.50 277.40L433.75 277.40L434.00 277.40L434.25 277.40L434.50 277.40L434.75 277.40L435.00 277.40L435.25 277.40L435.50 277.40L435.75 277.40L436.00 277.40L436.25 277.40L436.50 277.40L436.75 277.40L437.00 277.40L437.25 277.40L437.50 277.40L437.75 277.40L438.00 277.40L438.25 277.40L438.50 277.40L438.75 277.40L439.00 277.40L439.25 277.40L439.50 277.40L439.75 277.40L440.00 277.40L440.25 277.40L440.50 277.40L440.75 277.40L441.00 277.40L441.25 277.40L441.50 277.40L441.75 277.40L442.00 277.40L442.25 277.40L442.50 277.40L442.75 277.40L443.00 277.40L443.25 277.40L443.50 277.40L443.75 277.40L444.00 277.40L444.25 277.40L444.50 277.40L444.75 277.40L445.00 277.40L445.25 277.40L445.50 277.40L445.75 277.40L446.00 277.40L446.25 277.40L446.50 277.40L446.75 277.40L447.00 277.40L447.25 277.40L447.50 277.40L447.75 277.40L448.00 277.40L448.25 277.40L448.50 277.40L448.75 277.40L449.00 277.40L449.25 277.40L449.50 277.40L449.75 277.40L450.00 277.40L450.25 277.40L450.50 277.40L450.75 277.40L451.00 277.40L451.25 277.40L451.50 277.40L451.75 277.40L452.00 277.40L452.25 277.40L452.50 277.40L452.75 277.40L453.00 277.40L453.25 277.40L453.50 277.40L453.75 277.40L454.00 277.40L454.25 277.40L454.50 277.40L454.75 277.40L455.00 277.40L455.25 277.40L455.50 277.40L455.75 277.40L456.00 277.40L456.25 277.40L456.50 277.40L456.75 277.40L457.00 277.40L457.25 277.40L457.50 277.40L457.75 277.40L458.00 277.40L458.25 277.40L458.50 277.40L458.75 277.40L459.00 277.40L459.25 277.40L459.50 277.40L459.75 277.40L460.00 277.40L460.25 277.40L460.50 277.40L460.75 277.40L461.00 277.40L461.25 277.40L461.50 277.40L461.75 277.40L462.00 277.40L462.25 277.40L462.50 277.40L462.75 277.40L463.00 277.40L463.25 277.40L463.50 277.40L463.75 277.40L464.00 277.40L464.25 277.40L464.50 277.40L464.75 277.40L465.00 277.40L465.25 277.40L465.50 277.40L465.75 277.40L466.00 277.40L466.25 277.40L466.50 277.40L466.75 277.40L467.00 277.40L467.25 277.40L467.50 277.40L467.75 277.40L468.00 277.40L468.25 277.40L468.50 277.40L468.75 277.40L469.00 277.40L469.25 277.40L469.50 277.40L469.75 277.40L470.00 277.40L470.25 277.40L470.50 277.40L470.75 277.40L471.00 277.40L471.25 277.40L471.50 277.40L471.75 277.40L472.00 277.40L472.25 277.40L472.50 277.40L472.75 277.40L473.00 276.10L473.25 271.92L473.50 266.83L473.75 262.35L474.00 257.61L474.25 252.79L474.50 248.16L474.75 243.48L475.00 239.05L475.25 235.32L475.50 232.01L475.75 229.14L476.00 227.00L476.25 225.36L476.50 223.80L476.75 222.40L477.00 221.21L477.25 220.30L477.50 219.75L477.75 219.61L478.00 219.79L478.25 220.18L478.50 220.72L478.75 221.35L479.00 222.00L479.25 222.78L479.50 223.77L479.75 224.87L480.00 226.00L480.25 227.17L480.50 228.44L480.75 229.78L481.00 231.17L481.25 232.58L481.50 233.99L481.75 235.36L482.00 236.67L482.25 237.89L482.50 239.00L482.75 240.03L483.00 241.03L483.25 242.01L483.50 242.96L483.75 243.88L484.00 244.77L484.25 245.63L484.50 246.46L484.75 247.26L485.00 248.02L485.25 248.76L485.50 249.46L485.75 250.13L486.00 250.78L486.25 251.42L486.50 252.04L486.75 252.65L487.00 253.25L487.25 253.83L487.50 254.39L487.75 254.95L488.00 255.48L488.25 256.01L488.50 256.51L488.75 257.01L489.00 257.48L489.25 257.94L489.50 258.39L489.75 258.82L490.00 259.23L490.25 259.62L490.50 260.00L490.75 260.36L491.00 260.72L491.25 261.06L491.50 261.40L491.75 261.72L492.00 262.04L492.25 262.35L492.50 262.65L492.75 262.94L493.00 263.22L493.25 263.50L493.50 263.76L493.75 264.02L494.00 264.28L494.25 264.53L494.50 264.77L494.75 265.00L495.00 265.23L495.25 265.46L495.50 265.67L495.75 265.87L496.00 266.07L496.25 266.25L496.50 266.43L496.75 266.60L497.00 266.78L497.25 266.95L497.50 267.13L497.75 267.31L498.00 267.50L498.25 267.69L498.50 267.89L498.75 268.08L499.00 268.27L499.25 268.46L499.50 268.66L499.75 268.86L500.00 269.07L500.25 269.29L500.50 269.51L500.75 269.75L501.00 270.00L501.25 270.26L501.50 270.53L501.75 270.81L502.00 271.10L502.25 271.41L502.50 271.75L502.75 272.11L503.00 272.49L503.25 272.91L503.50 273.40L503.75 273.98L504.00 274.64L504.25 275.33L504.50 276.00L504.75 276.82L505.00 277.69L505.25 278.18L505.50 278.14L505.75 277.97L506.00 277.80L506.25 277.67L506.50 277.54L506.75 277.44L507.00 277.40L507.25 277.40L507.50 277.40L507.75 277.40L508.00 277.40L508.25 277.40L508.50 277.40L508.75 277.40L509.00 277.40L509.25 277.40L509.50 277.40L509.75 277.40L510.00 277.40L510.25 277.40L510.50 277.40L510.75 277.40L511.00 277.40L511.25 277.40L511.50 277.40L511.75 277.40L512.00 277.40L512.25 277.40L512.50 277.40L512.75 277.40L513.00 277.40L513.25 277.40L513.50 277.40L513.75 277.40L514.00 277.40L514.25 277.40L514.50 277.40L514.75 277.40L515.00 277.40L515.25 277.40L515.50 277.40L515.75 277.40L516.00 277.40L516.25 277.40L516.50 277.40L516.75 277.40L517.00 277.40L517.25 277.40L517.50 277.40L517.75 277.40L518.00 277.40L518.25 277.40L518.50 277.40L518.75 277.40L519.00 277.40L519.25 277.40L519.50 277.40L519.75 277.40L520.00 277.40L520.25 277.40L520.50 277.40L520.75 277.40L521.00 277.40L521.25 277.40L521.50 277.40L521.75 277.40L522.00 277.40L522.25 277.40L522.50 277.40L522.75 277.40L523.00 277.40L523.25 277.40L523.50 277.40L523.75 277.40L524.00 277.40L524.25 277.40L524.50 277.40L524.75 277.40L525.00 277.40L525.25 277.40L525.50 277.40L525.75 277.40L526.00 277.40L526.25 277.40L526.50 277.40L526.75 277.40L527.00 277.40L527.25 277.40L527.50 277.40L527.75 277.40L528.00 277.40L528.25 277.40L528.50 277.40L528.75 277.40L529.00 277.40L529.25 277.40L529.50 277.40L529.75 277.40L530.00 277.40L530.25 277.40L530.50 277.40L530.75 277.40L531.00 277.40L531.25 277.40L531.50 277.40L531.75 277.40L532.00 277.40L532.25 277.40L532.50 277.40L532.75 277.40L533.00 277.40L533.25 277.40L533.50 277.40L533.75 277.40L534.00 277.40L534.25 277.40L534.50 277.40L534.75 277.40L535.00 277.40L535.25 277.40L535.50 277.40L535.75 277.40L536.00 277.40L536.25 277.40L536.50 277.40L536.75 277.40L537.00 277.40L537.25 277.40L537.50 277.40L537.75 277.40L538.00 277.40L538.25 277.40L538.50 277.40L538.75 277.40L539.00 277.40L539.25 277.40L539.50 277.40L539.75 277.40L540.00 277.40L540.25 277.40L540.50 277.40L540.75 277.40L541.00 277.40L541.25 277.40L541.50 277.40L541.75 277.40L542.00 277.40L542.25 277.40L542.50 277.40L542.75 277.40L543.00 277.40L543.25 277.40L543.50 277.40L543.75 277.40L544.00 277.40L544.25 277.40L544.50 277.40L544.75 277.40L545.00 277.40L545.25 277.40L545.50 277.40L545.75 277.40L546.00 277.40L546.25 277.40L546.50 277.40L546.75 277.40L547.00 277.40L547.25 277.40L547.50 277.40L547.75 277.40L548.00 277.40L548.25 277.40L548.50 277.40L548.75 277.40L549.00 277.40L549.25 277.40L549.50 277.40L549.75 277.40L550.00 277.40L550.25 277.40L550.50 277.40L550.75 277.40L551.00 277.40L551.25 277.40L551.50 277.40L551.75 277.40L552.00 277.40L552.25 277.40L552.50 277.40L552.75 277.40L553.00 277.40L553.25 277.40L553.50 277.40L553.75 277.40L554.00 277.40L554.25 277.40L554.50 277.40L554.75 277.40L555.00 277.40L555.25 277.40L555.50 277.40L555.75 277.40L556.00 277.40L556.25 277.40L556.50 277.40L556.75 277.40L557.00 277.40L557.25 277.40L557.50 277.40L557.75 277.40L558.00 277.40L558.25 277.40L558.50 277.40L558.75 277.40L559.00 277.40L559.25 277.40L559.50 277.40L559.75 277.40L560.00 277.40L560.25 277.40L560.50 277.40L560.75 277.40L561.00 277.40L561.25 277.40L561.50 277.40L561.75 277.40L562.00 277.40L562.25 277.40L562.50 277.40L562.75 277.40L563.00 277.40L563.25 277.40L563.50 277.40L563.75 277.40L564.00 277.40L564.25 277.40L564.50 277.40L564.75 277.40L565.00 277.40L565.25 277.31L565.50 274.67L565.75 269.88L566.00 265.00L566.25 260.49L566.50 255.67L566.75 250.91L567.00 246.29L567.25 241.65L567.50 237.45L567.75 233.96L568.00 230.79L568.25 228.17L568.50 226.34L568.75 224.73L569.00 223.22L569.25 221.89L569.50 220.81L569.75 220.03L570.00 219.64L570.25 219.65L570.50 219.92L570.75 220.38L571.00 220.97L571.25 221.61L571.50 222.28L571.75 223.15L572.00 224.20L572.25 225.33L572.50 226.45L572.75 227.67L573.00 228.97L573.25 230.33L573.50 231.74L573.75 233.15L574.00 234.54L574.25 235.89L574.50 237.17L574.75 238.35L575.00 239.42L575.25 240.43L575.50 241.43L575.75 242.39L576.00 243.33L576.25 244.24L576.50 245.11L576.75 245.96L577.00 246.78L577.25 247.57L577.50 248.32L577.75 249.04L578.00 249.73L578.25 250.39L578.50 251.04L578.75 251.67L579.00 252.29L579.25 252.89L579.50 253.48L579.75 254.06L580.00 254.62L580.25 255.16L580.50 255.70L580.75 256.21L581.00 256.71L581.25 257.20L581.50 257.67L581.75 258.12L582.00 258.56L582.25 258.98L582.50 259.39L582.75 259.78L583.00 260.15L583.25 260.51L583.50 260.86L583.75 261.20L584.00 261.53L584.25 261.85L584.50 262.16L584.75 262.47L585.00 262.76L585.25 263.05L585.50 263.33L585.75 263.60L586.00 263.87L586.25 264.13L586.50 264.38L586.75 264.62L587.00 264.86L587.25 265.09L587.50 265.32L587.75 265.54L588.00 265.75L588.25 265.95L588.50 266.14L588.75 266.32L589.00 266.50L589.25 266.67L589.50 266.84L589.75 267.02L590.00 267.20L590.25 267.38L590.50 267.58L590.75 267.77L591.00 267.96L591.25 268.15L591.50 268.35L591.75 268.54L592.00 268.74L592.25 268.94L592.50 269.16L592.75 269.38L593.00 269.61L593.25 269.85L593.50 270.10L593.75 270.37L594.00 270.64L594.25 270.92L594.50 271.22L594.75 271.54L595.00 271.89L595.25 272.26L595.50 272.66L595.75 273.09L596.00 273.62L596.25 274.24L596.50 274.91L596.75 275.60L597.00 276.30L597.25 277.19L597.50 277.95L597.75 278.20L598.00 278.08L598.25 277.89L598.50 277.75L598.75 277.62L599.00 277.50L599.25 277.42L599.50 277.40" fill="none" stroke="#0000ff" stroke-width="2.00" stroke-linejoin="round" clip-path="url(#c11)"/>
<line x1="498.30" y1="189.70" x2="528.30" y2="189.70" stroke="#0000ff" stroke-width="2"/>
<text x="532.20" y="194.20" font-size="12.50" font-style="italic">Q</text>
<text x="541.80" y="198.20" font-size="8.6" font-style="italic">pa</text>
<line x1="108.50" y1="451.50" x2="108.50" y2="446.50" stroke="#1a1a1a" stroke-width="1"/>
<line x1="108.50" y1="335.50" x2="108.50" y2="340.50" stroke="#1a1a1a" stroke-width="1"/>
<text x="108.60" y="467.10" text-anchor="middle" font-size="12.50">58.0</text>
<line x1="129.50" y1="451.50" x2="129.50" y2="448.70" stroke="#1a1a1a" stroke-width="1"/>
<line x1="129.50" y1="335.50" x2="129.50" y2="338.30" stroke="#1a1a1a" stroke-width="1"/>
<line x1="150.50" y1="451.50" x2="150.50" y2="446.50" stroke="#1a1a1a" stroke-width="1"/>
<line x1="150.50" y1="335.50" x2="150.50" y2="340.50" stroke="#1a1a1a" stroke-width="1"/>
<text x="150.60" y="467.10" text-anchor="middle" font-size="12.50">58.4</text>
<line x1="171.50" y1="451.50" x2="171.50" y2="448.70" stroke="#1a1a1a" stroke-width="1"/>
<line x1="171.50" y1="335.50" x2="171.50" y2="338.30" stroke="#1a1a1a" stroke-width="1"/>
<line x1="192.50" y1="451.50" x2="192.50" y2="446.50" stroke="#1a1a1a" stroke-width="1"/>
<line x1="192.50" y1="335.50" x2="192.50" y2="340.50" stroke="#1a1a1a" stroke-width="1"/>
<text x="192.60" y="467.10" text-anchor="middle" font-size="12.50">58.8</text>
<line x1="213.50" y1="451.50" x2="213.50" y2="448.70" stroke="#1a1a1a" stroke-width="1"/>
<line x1="213.50" y1="335.50" x2="213.50" y2="338.30" stroke="#1a1a1a" stroke-width="1"/>
<line x1="234.50" y1="451.50" x2="234.50" y2="446.50" stroke="#1a1a1a" stroke-width="1"/>
<line x1="234.50" y1="335.50" x2="234.50" y2="340.50" stroke="#1a1a1a" stroke-width="1"/>
<text x="234.60" y="467.10" text-anchor="middle" font-size="12.50">59.2</text>
<line x1="255.50" y1="451.50" x2="255.50" y2="448.70" stroke="#1a1a1a" stroke-width="1"/>
<line x1="255.50" y1="335.50" x2="255.50" y2="338.30" stroke="#1a1a1a" stroke-width="1"/>
<line x1="276.50" y1="451.50" x2="276.50" y2="446.50" stroke="#1a1a1a" stroke-width="1"/>
<line x1="276.50" y1="335.50" x2="276.50" y2="340.50" stroke="#1a1a1a" stroke-width="1"/>
<text x="276.60" y="467.10" text-anchor="middle" font-size="12.50">59.6</text>
<line x1="297.50" y1="451.50" x2="297.50" y2="448.70" stroke="#1a1a1a" stroke-width="1"/>
<line x1="297.50" y1="335.50" x2="297.50" y2="338.30" stroke="#1a1a1a" stroke-width="1"/>
<line x1="318.50" y1="451.50" x2="318.50" y2="446.50" stroke="#1a1a1a" stroke-width="1"/>
<line x1="318.50" y1="335.50" x2="318.50" y2="340.50" stroke="#1a1a1a" stroke-width="1"/>
<text x="318.60" y="467.10" text-anchor="middle" font-size="12.50">60.0</text>
<line x1="108.50" y1="451.50" x2="113.50" y2="451.50" stroke="#1a1a1a" stroke-width="1"/>
<line x1="318.50" y1="451.50" x2="313.50" y2="451.50" stroke="#1a1a1a" stroke-width="1"/>
<text x="103.30" y="455.90" text-anchor="end" font-size="12.50">0</text>
<line x1="108.50" y1="441.83" x2="111.30" y2="441.83" stroke="#1a1a1a" stroke-width="1"/>
<line x1="318.50" y1="441.83" x2="315.70" y2="441.83" stroke="#1a1a1a" stroke-width="1"/>
<line x1="108.50" y1="432.17" x2="113.50" y2="432.17" stroke="#1a1a1a" stroke-width="1"/>
<line x1="318.50" y1="432.17" x2="313.50" y2="432.17" stroke="#1a1a1a" stroke-width="1"/>
<text x="103.30" y="436.57" text-anchor="end" font-size="12.50">50</text>
<line x1="108.50" y1="422.50" x2="111.30" y2="422.50" stroke="#1a1a1a" stroke-width="1"/>
<line x1="318.50" y1="422.50" x2="315.70" y2="422.50" stroke="#1a1a1a" stroke-width="1"/>
<line x1="108.50" y1="412.83" x2="113.50" y2="412.83" stroke="#1a1a1a" stroke-width="1"/>
<line x1="318.50" y1="412.83" x2="313.50" y2="412.83" stroke="#1a1a1a" stroke-width="1"/>
<text x="103.30" y="417.23" text-anchor="end" font-size="12.50">100</text>
<line x1="108.50" y1="403.17" x2="111.30" y2="403.17" stroke="#1a1a1a" stroke-width="1"/>
<line x1="318.50" y1="403.17" x2="315.70" y2="403.17" stroke="#1a1a1a" stroke-width="1"/>
<line x1="108.50" y1="393.50" x2="113.50" y2="393.50" stroke="#1a1a1a" stroke-width="1"/>
<line x1="318.50" y1="393.50" x2="313.50" y2="393.50" stroke="#1a1a1a" stroke-width="1"/>
<text x="103.30" y="397.90" text-anchor="end" font-size="12.50">150</text>
<line x1="108.50" y1="383.83" x2="111.30" y2="383.83" stroke="#1a1a1a" stroke-width="1"/>
<line x1="318.50" y1="383.83" x2="315.70" y2="383.83" stroke="#1a1a1a" stroke-width="1"/>
<line x1="108.50" y1="374.17" x2="113.50" y2="374.17" stroke="#1a1a1a" stroke-width="1"/>
<line x1="318.50" y1="374.17" x2="313.50" y2="374.17" stroke="#1a1a1a" stroke-width="1"/>
<text x="103.30" y="378.57" text-anchor="end" font-size="12.50">200</text>
<line x1="108.50" y1="364.50" x2="111.30" y2="364.50" stroke="#1a1a1a" stroke-width="1"/>
<line x1="318.50" y1="364.50" x2="315.70" y2="364.50" stroke="#1a1a1a" stroke-width="1"/>
<line x1="108.50" y1="354.83" x2="113.50" y2="354.83" stroke="#1a1a1a" stroke-width="1"/>
<line x1="318.50" y1="354.83" x2="313.50" y2="354.83" stroke="#1a1a1a" stroke-width="1"/>
<text x="103.30" y="359.23" text-anchor="end" font-size="12.50">250</text>
<line x1="108.50" y1="345.17" x2="111.30" y2="345.17" stroke="#1a1a1a" stroke-width="1"/>
<line x1="318.50" y1="345.17" x2="315.70" y2="345.17" stroke="#1a1a1a" stroke-width="1"/>
<line x1="108.50" y1="335.50" x2="113.50" y2="335.50" stroke="#1a1a1a" stroke-width="1"/>
<line x1="318.50" y1="335.50" x2="313.50" y2="335.50" stroke="#1a1a1a" stroke-width="1"/>
<text x="103.30" y="339.90" text-anchor="end" font-size="12.50">300</text>
<rect x="108.50" y="335.50" width="210.00" height="116.00" fill="none" stroke="#1a1a1a" stroke-width="1"/>
<text x="214.10" y="479.10" text-anchor="middle" font-size="13.00">Time (s)</text>
<text transform="translate(69.00 392.20) rotate(-90)" text-anchor="middle" font-size="13.00">Volume (mL)</text>
<path d="M105.50 398.10L105.75 398.10L106.00 398.10L106.25 398.10L106.50 398.10L106.75 398.10L107.00 398.10L107.25 398.10L107.50 398.10L107.75 398.10L108.00 398.11L108.25 398.13L108.50 398.15L108.75 398.18L109.00 398.23L109.25 398.39L109.50 398.66L109.75 399.02L110.00 399.44L110.25 399.89L110.50 400.33L110.75 400.76L111.00 401.26L111.25 401.80L111.50 402.38L111.75 402.98L112.00 403.59L112.25 404.19L112.50 404.77L112.75 405.33L113.00 405.89L113.25 406.45L113.50 407.01L113.75 407.56L114.00 408.12L114.25 408.67L114.50 409.22L114.75 409.77L115.00 410.31L115.25 410.85L115.50 411.38L115.75 411.90L116.00 412.41L116.25 412.94L116.50 413.46L116.75 413.99L117.00 414.51L117.25 415.03L117.50 415.55L117.75 416.05L118.00 416.55L118.25 417.03L118.50 417.49L118.75 417.94L119.00 418.37L119.25 418.77L119.50 419.15L119.75 419.52L120.00 419.88L120.25 420.24L120.50 420.59L120.75 420.93L121.00 421.27L121.25 421.59L121.50 421.91L121.75 422.22L122.00 422.52L122.25 422.82L122.50 423.10L122.75 423.38L123.00 423.65L123.25 423.91L123.50 424.15L123.75 424.39L124.00 424.62L124.25 424.84L124.50 425.06L124.75 425.27L125.00 425.48L125.25 425.69L125.50 425.89L125.75 426.09L126.00 426.28L126.25 426.46L126.50 426.64L126.75 426.81L127.00 426.98L127.25 427.13L127.50 427.28L127.75 427.42L128.00 427.54L128.25 427.66L128.50 427.76L128.75 427.86L129.00 427.95L129.25 428.04L129.50 428.13L129.75 428.22L130.00 428.31L130.25 428.39L130.50 428.48L130.75 428.56L131.00 428.63L131.25 428.71L131.50 428.78L131.75 428.85L132.00 428.91L132.25 428.97L132.50 429.03L132.75 429.08L133.00 429.13L133.25 429.17L133.50 429.21L133.75 429.24L134.00 429.26L134.25 429.28L134.50 429.30L134.75 429.30L135.00 429.31L135.25 429.32L135.50 429.33L135.75 429.33L136.00 429.34L136.25 429.35L136.50 429.35L136.75 429.36L137.00 429.36L137.25 429.37L137.50 429.37L137.75 429.38L138.00 429.38L138.25 429.38L138.50 429.39L138.75 429.39L139.00 429.39L139.25 429.39L139.50 429.40L139.75 429.40L140.00 429.40L140.25 429.40L140.50 429.40L140.75 429.40L141.00 429.40L141.25 429.40L141.50 429.40L141.75 429.39L142.00 429.39L142.25 429.38L142.50 429.38L142.75 429.37L143.00 429.36L143.25 429.35L143.50 429.33L143.75 429.32L144.00 429.30L144.25 429.29L144.50 429.27L144.75 429.24L145.00 429.22L145.25 429.19L145.50 428.88L145.75 428.33L146.00 427.72L146.25 427.18L146.50 426.59L146.75 425.96L147.00 425.33L147.25 424.73L147.50 424.19L147.75 423.73L148.00 423.30L148.25 422.89L148.50 422.50L148.75 422.13L149.00 421.78L149.25 421.45L149.50 421.13L149.75 420.81L150.00 420.51L150.25 420.22L150.50 419.93L150.75 419.66L151.00 419.39L151.25 419.12L151.50 418.86L151.75 418.61L152.00 418.36L152.25 418.11L152.50 417.87L152.75 417.64L153.00 417.40L153.25 417.17L153.50 416.93L153.75 416.70L154.00 416.47L154.25 416.24L154.50 416.01L154.75 415.77L155.00 415.54L155.25 415.31L155.50 415.07L155.75 414.84L156.00 414.61L156.25 414.38L156.50 414.16L156.75 413.93L157.00 413.71L157.25 413.50L157.50 413.29L157.75 413.08L158.00 412.88L158.25 412.68L158.50 412.49L158.75 412.31L159.00 412.13L159.25 411.97L159.50 411.80L159.75 411.65L160.00 411.49L160.25 411.35L160.50 411.20L160.75 411.06L161.00 410.92L161.25 410.79L161.50 410.65L161.75 410.52L162.00 410.40L162.25 410.27L162.50 410.14L162.75 410.02L163.00 409.90L163.25 409.77L163.50 409.65L163.75 409.53L164.00 409.40L164.25 409.28L164.50 409.15L164.75 409.03L165.00 408.90L165.25 408.77L165.50 408.64L165.75 408.51L166.00 408.38L166.25 408.25L166.50 408.12L166.75 407.98L167.00 407.85L167.25 407.72L167.50 407.59L167.75 407.46L168.00 407.33L168.25 407.20L168.50 407.07L168.75 406.94L169.00 406.82L169.25 406.69L169.50 406.57L169.75 406.44L170.00 406.32L170.25 406.20L170.50 406.08L170.75 405.96L171.00 405.85L171.25 405.73L171.50 405.62L171.75 405.51L172.00 405.40L172.25 405.29L172.50 405.19L172.75 405.09L173.00 404.98L173.25 404.88L173.50 404.78L173.75 404.69L174.00 404.59L174.25 404.49L174.50 404.40L174.75 404.30L175.00 404.21L175.25 404.12L175.50 404.03L175.75 403.94L176.00 403.85L176.25 403.76L176.50 403.67L176.75 403.58L177.00 403.49L177.25 403.40L177.50 403.31L177.75 403.22L178.00 403.14L178.25 403.05L178.50 402.97L178.75 402.89L179.00 402.82L179.25 402.75L179.50 402.68L179.75 402.61L180.00 402.55L180.25 402.48L180.50 402.41L180.75 402.34L181.00 402.26L181.25 402.18L181.50 402.09L181.75 401.99L182.00 401.89L182.25 401.78L182.50 401.65L182.75 401.51L183.00 401.33L183.25 401.11L183.50 400.87L183.75 400.60L184.00 400.32L184.25 400.00L184.50 399.57L184.75 399.10L185.00 398.69L185.25 398.43L185.50 398.31L185.75 398.22L186.00 398.15L186.25 398.11L186.50 398.10L186.75 398.10L187.00 398.10L187.25 398.10L187.50 398.10L187.75 398.10L188.00 398.10L188.25 398.10L188.50 398.10L188.75 398.10L189.00 398.10L189.25 398.10L189.50 398.10L189.75 398.10L190.00 398.10L190.25 398.10L190.50 398.10L190.75 398.10L191.00 398.10L191.25 398.10L191.50 398.10L191.75 398.10L192.00 398.10L192.25 398.10L192.50 398.10L192.75 398.10L193.00 398.10L193.25 398.10L193.50 398.10L193.75 398.10L194.00 398.10L194.25 398.10L194.50 398.10L194.75 398.10L195.00 398.10L195.25 398.10L195.50 398.10L195.75 398.10L196.00 398.10L196.25 398.10L196.50 398.10L196.75 398.10L197.00 398.10L197.25 398.10L197.50 398.10L197.75 398.10L198.00 398.10L198.25 398.10L198.50 398.10L198.75 398.10L199.00 398.10L199.25 398.10L199.50 398.10L199.75 398.10L200.00 398.10L200.25 398.10L200.50 398.12L200.75 398.14L201.00 398.16L201.25 398.19L201.50 398.27L201.75 398.49L202.00 398.80L202.25 399.18L202.50 399.62L202.75 400.06L203.00 400.50L203.25 400.95L203.50 401.47L203.75 402.03L204.00 402.61L204.25 403.22L204.50 403.83L204.75 404.43L205.00 405.00L205.25 405.56L205.50 406.11L205.75 406.67L206.00 407.23L206.25 407.79L206.50 408.34L206.75 408.89L207.00 409.44L207.25 409.99L207.50 410.53L207.75 411.06L208.00 411.59L208.25 412.10L208.50 412.62L208.75 413.15L209.00 413.67L209.25 414.20L209.50 414.72L209.75 415.24L210.00 415.75L210.25 416.25L210.50 416.74L210.75 417.21L211.00 417.67L211.25 418.11L211.50 418.53L211.75 418.92L212.00 419.30L212.25 419.67L212.50 420.03L212.75 420.38L213.00 420.73L213.25 421.07L213.50 421.40L213.75 421.72L214.00 422.04L214.25 422.34L214.50 422.64L214.75 422.93L215.00 423.21L215.25 423.49L215.50 423.75L215.75 424.01L216.00 424.25L216.25 424.49L216.50 424.71L216.75 424.93L217.00 425.14L217.25 425.36L217.50 425.56L217.75 425.77L218.00 425.97L218.25 426.16L218.50 426.35L218.75 426.54L219.00 426.71L219.25 426.88L219.50 427.04L219.75 427.19L220.00 427.33L220.25 427.47L220.50 427.59L220.75 427.70L221.00 427.80L221.25 427.89L221.50 427.99L221.75 428.08L222.00 428.17L222.25 428.26L222.50 428.34L222.75 428.43L223.00 428.51L223.25 428.59L223.50 428.66L223.75 428.74L224.00 428.81L224.25 428.87L224.50 428.94L224.75 429.00L225.00 429.05L225.25 429.10L225.50 429.14L225.75 429.18L226.00 429.22L226.25 429.25L226.50 429.27L226.75 429.29L227.00 429.30L227.25 429.31L227.50 429.32L227.75 429.32L228.00 429.33L228.25 429.34L228.50 429.34L228.75 429.35L229.00 429.35L229.25 429.36L229.50 429.36L229.75 429.37L230.00 429.37L230.25 429.38L230.50 429.38L230.75 429.38L231.00 429.39L231.25 429.39L231.50 429.39L231.75 429.40L232.00 429.40L232.25 429.40L232.50 429.40L232.75 429.40L233.00 429.40L233.25 429.40L233.50 429.40L233.75 429.40L234.00 429.39L234.25 429.39L234.50 429.39L234.75 429.38L235.00 429.37L235.25 429.36L235.50 429.35L235.75 429.34L236.00 429.33L236.25 429.31L236.50 429.30L236.75 429.28L237.00 429.26L237.25 429.24L237.50 429.21L237.75 429.11L238.00 428.68L238.25 428.09L238.50 427.50L238.75 426.95L239.00 426.34L239.25 425.71L239.50 425.09L239.75 424.51L240.00 424.00L240.25 423.55L240.50 423.13L240.75 422.73L241.00 422.35L241.25 421.99L241.50 421.65L241.75 421.32L242.00 421.00L242.25 420.69L242.50 420.39L242.75 420.10L243.00 419.82L243.25 419.55L243.50 419.28L243.75 419.02L244.00 418.76L244.25 418.51L244.50 418.26L244.75 418.02L245.00 417.78L245.25 417.54L245.50 417.31L245.75 417.07L246.00 416.84L246.25 416.61L246.50 416.38L246.75 416.15L247.00 415.91L247.25 415.68L247.50 415.45L247.75 415.21L248.00 414.98L248.25 414.75L248.50 414.52L248.75 414.29L249.00 414.07L249.25 413.85L249.50 413.63L249.75 413.41L250.00 413.20L250.25 413.00L250.50 412.80L250.75 412.61L251.00 412.42L251.25 412.24L251.50 412.07L251.75 411.90L252.00 411.74L252.25 411.59L252.50 411.43L252.75 411.29L253.00 411.14L253.25 411.00L253.50 410.87L253.75 410.73L254.00 410.60L254.25 410.47L254.50 410.34L254.75 410.22L255.00 410.09L255.25 409.97L255.50 409.85L255.75 409.72L256.00 409.60L256.25 409.48L256.50 409.35L256.75 409.23L257.00 409.10L257.25 408.98L257.50 408.85L257.75 408.72L258.00 408.59L258.25 408.46L258.50 408.33L258.75 408.19L259.00 408.06L259.25 407.93L259.50 407.80L259.75 407.67L260.00 407.54L260.25 407.41L260.50 407.28L260.75 407.15L261.00 407.02L261.25 406.89L261.50 406.77L261.75 406.64L262.00 406.52L262.25 406.39L262.50 406.27L262.75 406.15L263.00 406.03L263.25 405.91L263.50 405.80L263.75 405.69L264.00 405.57L264.25 405.46L264.50 405.36L264.75 405.25L265.00 405.15L265.25 405.04L265.50 404.94L265.75 404.84L266.00 404.74L266.25 404.65L266.50 404.55L266.75 404.45L267.00 404.36L267.25 404.27L267.50 404.17L267.75 404.08L268.00 403.99L268.25 403.90L268.50 403.81L268.75 403.72L269.00 403.63L269.25 403.54L269.50 403.45L269.75 403.36L270.00 403.28L270.25 403.19L270.50 403.10L270.75 403.01L271.00 402.94L271.25 402.86L271.50 402.79L271.75 402.72L272.00 402.65L272.25 402.59L272.50 402.52L272.75 402.45L273.00 402.38L273.25 402.31L273.50 402.23L273.75 402.14L274.00 402.05L274.25 401.95L274.50 401.84L274.75 401.73L275.00 401.60L275.25 401.44L275.50 401.25L275.75 401.02L276.00 400.76L276.25 400.49L276.50 400.20L276.75 399.84L277.00 399.38L277.25 398.93L277.50 398.56L277.75 398.38L278.00 398.27L278.25 398.19L278.50 398.13L278.75 398.10L279.00 398.10L279.25 398.10L279.50 398.10L279.75 398.10L280.00 398.10L280.25 398.10L280.50 398.10L280.75 398.10L281.00 398.10L281.25 398.10L281.50 398.10L281.75 398.10L282.00 398.10L282.25 398.10L282.50 398.10L282.75 398.10L283.00 398.10L283.25 398.10L283.50 398.10L283.75 398.10L284.00 398.10L284.25 398.10L284.50 398.10L284.75 398.10L285.00 398.10L285.25 398.10L285.50 398.10L285.75 398.10L286.00 398.10L286.25 398.10L286.50 398.10L286.75 398.10L287.00 398.10L287.25 398.10L287.50 398.10L287.75 398.10L288.00 398.10L288.25 398.10L288.50 398.10L288.75 398.10L289.00 398.10L289.25 398.10L289.50 398.10L289.75 398.10L290.00 398.10L290.25 398.10L290.50 398.10L290.75 398.10L291.00 398.10L291.25 398.10L291.50 398.10L291.75 398.10L292.00 398.10L292.25 398.10L292.50 398.10L292.75 398.11L293.00 398.12L293.25 398.15L293.50 398.17L293.75 398.21L294.00 398.34L294.25 398.60L294.50 398.95L294.75 399.35L295.00 399.80L295.25 400.24L295.50 400.67L295.75 401.15L296.00 401.69L296.25 402.26L296.50 402.86L296.75 403.46L297.00 404.07L297.25 404.66L297.50 405.22L297.75 405.78L298.00 406.34L298.25 406.90L298.50 407.45L298.75 408.01L299.00 408.56L299.25 409.11L299.50 409.66L299.75 410.20L300.00 410.74L300.25 411.27L300.50 411.79L300.75 412.31L301.00 412.83L301.25 413.36L301.50 413.88L301.75 414.41L302.00 414.93L302.25 415.44L302.50 415.95L302.75 416.45L303.00 416.93L303.25 417.40L303.50 417.85L303.75 418.28L304.00 418.69L304.25 419.08L304.50 419.45L304.75 419.81L305.00 420.17L305.25 420.52L305.50 420.86L305.75 421.20L306.00 421.53L306.25 421.85L306.50 422.16L306.75 422.46L307.00 422.76L307.25 423.05L307.50 423.32L307.75 423.59L308.00 423.85L308.25 424.10L308.50 424.35L308.75 424.58L309.00 424.80L309.25 425.02L309.50 425.23L309.75 425.44L310.00 425.65L310.25 425.85L310.50 426.05L310.75 426.24L311.00 426.43L311.25 426.61L311.50 426.78L311.75 426.95L312.00 427.10L312.25 427.25L312.50 427.39L312.75 427.52L313.00 427.63L313.25 427.74L313.50 427.84L313.75 427.93L314.00 428.02L314.25 428.11L314.50 428.20L314.75 428.29L315.00 428.38L315.25 428.46L315.50 428.54L315.75 428.62L316.00 428.69L316.25 428.77L316.50 428.83L316.75 428.90L317.00 428.96L317.25 429.02L317.50 429.07L317.75 429.12L318.00 429.16L318.25 429.20L318.50 429.23L318.75 429.26L319.00 429.28L319.25 429.29L319.50 429.30L319.75 429.31L320.00 429.32L320.25 429.33L320.50 429.33L320.75 429.34L321.00 429.34L321.25 429.35L321.50 429.36" fill="none" stroke="#0000ff" stroke-width="2.00" stroke-linejoin="round" clip-path="url(#c02)"/>
<path d="M105.50 435.45L105.75 435.38L106.00 435.32L106.25 435.26L106.50 435.20L106.75 435.15L107.00 435.10L107.25 435.06L107.50 435.02L107.75 434.98L108.00 434.94L108.25 434.91L108.50 434.88L108.75 434.84L109.00 434.81L109.25 434.79L109.50 434.76L109.75 434.73L110.00 434.71L110.25 434.68L110.50 434.66L110.75 434.64L111.00 434.62L111.25 434.59L111.50 434.57L111.75 434.55L112.00 434.53L112.25 434.51L112.50 434.49L112.75 434.47L113.00 434.45L113.25 434.43L113.50 434.41L113.75 434.38L114.00 434.36L114.25 434.34L114.50 434.32L114.75 434.29L115.00 434.27L115.25 434.24L115.50 434.21L115.75 434.18L116.00 434.15L116.25 434.12L116.50 434.09L116.75 434.06L117.00 434.03L117.25 433.99L117.50 433.96L117.75 433.92L118.00 433.89L118.25 433.86L118.50 433.82L118.75 433.78L119.00 433.75L119.25 433.71L119.50 433.68L119.75 433.64L120.00 433.60L120.25 433.57L120.50 433.53L120.75 433.50L121.00 433.46L121.25 433.43L121.50 433.39L121.75 433.36L122.00 433.33L122.25 433.29L122.50 433.26L122.75 433.23L123.00 433.20L123.25 433.17L123.50 433.14L123.75 433.11L124.00 433.08L124.25 433.06L124.50 433.03L124.75 433.00L125.00 432.98L125.25 432.95L125.50 432.92L125.75 432.90L126.00 432.87L126.25 432.85L126.50 432.82L126.75 432.80L127.00 432.77L127.25 432.74L127.50 432.72L127.75 432.69L128.00 432.67L128.25 432.64L128.50 432.61L128.75 432.58L129.00 432.56L129.25 432.53L129.50 432.50L129.75 432.47L130.00 432.44L130.25 432.41L130.50 432.37L130.75 432.34L131.00 432.31L131.25 432.27L131.50 432.24L131.75 432.20L132.00 432.16L132.25 432.13L132.50 432.09L132.75 432.05L133.00 432.01L133.25 431.97L133.50 431.93L133.75 431.89L134.00 431.85L134.25 431.81L134.50 431.77L134.75 431.73L135.00 431.69L135.25 431.65L135.50 431.61L135.75 431.57L136.00 431.53L136.25 431.49L136.50 431.46L136.75 431.42L137.00 431.38L137.25 431.35L137.50 431.31L137.75 431.28L138.00 431.24L138.25 431.21L138.50 431.17L138.75 431.14L139.00 431.10L139.25 431.07L139.50 431.03L139.75 431.00L140.00 430.97L140.25 430.94L140.50 430.91L140.75 430.88L141.00 430.85L141.25 430.83L141.50 430.81L141.75 430.79L142.00 430.77L142.25 430.75L142.50 430.73L142.75 430.71L143.00 430.69L143.25 430.67L143.50 430.66L143.75 430.64L144.00 430.63L144.25 430.62L144.50 430.61L144.75 430.60L145.00 430.60L145.25 430.63L145.50 430.79L145.75 431.05L146.00 431.38L146.25 431.74L146.50 432.08L146.75 432.39L147.00 432.73L147.25 433.10L147.50 433.49L147.75 433.87L148.00 434.22L148.25 434.55L148.50 434.81L148.75 435.02L149.00 435.21L149.25 435.40L149.50 435.57L149.75 435.73L150.00 435.88L150.25 436.02L150.50 436.15L150.75 436.27L151.00 436.38L151.25 436.48L151.50 436.57L151.75 436.65L152.00 436.73L152.25 436.81L152.50 436.89L152.75 436.97L153.00 437.05L153.25 437.12L153.50 437.19L153.75 437.26L154.00 437.32L154.25 437.38L154.50 437.43L154.75 437.48L155.00 437.52L155.25 437.55L155.50 437.57L155.75 437.59L156.00 437.60L156.25 437.60L156.50 437.60L156.75 437.60L157.00 437.59L157.25 437.59L157.50 437.58L157.75 437.57L158.00 437.56L158.25 437.56L158.50 437.55L158.75 437.54L159.00 437.53L159.25 437.51L159.50 437.50L159.75 437.49L160.00 437.48L160.25 437.47L160.50 437.45L160.75 437.44L161.00 437.43L161.25 437.42L161.50 437.40L161.75 437.39L162.00 437.38L162.25 437.37L162.50 437.35L162.75 437.34L163.00 437.32L163.25 437.31L163.50 437.29L163.75 437.27L164.00 437.26L164.25 437.24L164.50 437.22L164.75 437.20L165.00 437.18L165.25 437.16L165.50 437.15L165.75 437.13L166.00 437.11L166.25 437.09L166.50 437.07L166.75 437.05L167.00 437.03L167.25 437.01L167.50 436.99L167.75 436.96L168.00 436.94L168.25 436.93L168.50 436.91L168.75 436.89L169.00 436.87L169.25 436.85L169.50 436.83L169.75 436.81L170.00 436.79L170.25 436.77L170.50 436.76L170.75 436.74L171.00 436.72L171.25 436.71L171.50 436.69L171.75 436.68L172.00 436.66L172.25 436.65L172.50 436.63L172.75 436.61L173.00 436.60L173.25 436.58L173.50 436.56L173.75 436.54L174.00 436.53L174.25 436.51L174.50 436.49L174.75 436.47L175.00 436.46L175.25 436.44L175.50 436.43L175.75 436.41L176.00 436.40L176.25 436.38L176.50 436.37L176.75 436.36L177.00 436.35L177.25 436.34L177.50 436.33L177.75 436.32L178.00 436.31L178.25 436.31L178.50 436.30L178.75 436.30L179.00 436.30L179.25 436.30L179.50 436.32L179.75 436.36L180.00 436.42L180.25 436.49L180.50 436.57L180.75 436.67L181.00 436.78L181.25 436.90L181.50 437.03L181.75 437.17L182.00 437.31L182.25 437.46L182.50 437.62L182.75 437.78L183.00 437.95L183.25 438.11L183.50 438.28L183.75 438.44L184.00 438.61L184.25 438.77L184.50 438.95L184.75 439.20L185.00 439.47L185.25 439.73L185.50 439.94L185.75 440.08L186.00 440.10L186.25 440.06L186.50 440.00L186.75 439.91L187.00 439.81L187.25 439.69L187.50 439.57L187.75 439.45L188.00 439.34L188.25 439.24L188.50 439.14L188.75 439.04L189.00 438.93L189.25 438.82L189.50 438.71L189.75 438.59L190.00 438.48L190.25 438.36L190.50 438.25L190.75 438.13L191.00 438.01L191.25 437.89L191.50 437.78L191.75 437.66L192.00 437.54L192.25 437.43L192.50 437.31L192.75 437.20L193.00 437.09L193.25 436.99L193.50 436.88L193.75 436.78L194.00 436.69L194.25 436.59L194.50 436.50L194.75 436.42L195.00 436.33L195.25 436.25L195.50 436.17L195.75 436.09L196.00 436.01L196.25 435.93L196.50 435.85L196.75 435.78L197.00 435.70L197.25 435.63L197.50 435.56L197.75 435.49L198.00 435.42L198.25 435.36L198.50 435.30L198.75 435.24L199.00 435.18L199.25 435.13L199.50 435.08L199.75 435.04L200.00 435.00L200.25 434.96L200.50 434.93L200.75 434.89L201.00 434.86L201.25 434.83L201.50 434.80L201.75 434.78L202.00 434.75L202.25 434.72L202.50 434.70L202.75 434.67L203.00 434.65L203.25 434.63L203.50 434.61L203.75 434.59L204.00 434.56L204.25 434.54L204.50 434.52L204.75 434.50L205.00 434.48L205.25 434.46L205.50 434.44L205.75 434.42L206.00 434.40L206.25 434.38L206.50 434.35L206.75 434.33L207.00 434.31L207.25 434.28L207.50 434.26L207.75 434.23L208.00 434.20L208.25 434.17L208.50 434.14L208.75 434.11L209.00 434.08L209.25 434.05L209.50 434.01L209.75 433.98L210.00 433.95L210.25 433.91L210.50 433.88L210.75 433.84L211.00 433.81L211.25 433.77L211.50 433.73L211.75 433.70L212.00 433.66L212.25 433.63L212.50 433.59L212.75 433.55L213.00 433.52L213.25 433.48L213.50 433.45L213.75 433.41L214.00 433.38L214.25 433.35L214.50 433.31L214.75 433.28L215.00 433.25L215.25 433.22L215.50 433.19L215.75 433.16L216.00 433.13L216.25 433.10L216.50 433.07L216.75 433.05L217.00 433.02L217.25 432.99L217.50 432.97L217.75 432.94L218.00 432.91L218.25 432.89L218.50 432.86L218.75 432.84L219.00 432.81L219.25 432.78L219.50 432.76L219.75 432.73L220.00 432.71L220.25 432.68L220.50 432.65L220.75 432.63L221.00 432.60L221.25 432.57L221.50 432.54L221.75 432.52L222.00 432.49L222.25 432.46L222.50 432.43L222.75 432.39L223.00 432.36L223.25 432.33L223.50 432.29L223.75 432.26L224.00 432.22L224.25 432.19L224.50 432.15L224.75 432.11L225.00 432.07L225.25 432.03L225.50 431.99L225.75 431.95L226.00 431.91L226.25 431.87L226.50 431.83L226.75 431.79L227.00 431.75L227.25 431.71L227.50 431.67L227.75 431.63L228.00 431.59L228.25 431.56L228.50 431.52L228.75 431.48L229.00 431.44L229.25 431.41L229.50 431.37L229.75 431.33L230.00 431.30L230.25 431.27L230.50 431.23L230.75 431.20L231.00 431.16L231.25 431.12L231.50 431.09L231.75 431.06L232.00 431.02L232.25 430.99L232.50 430.96L232.75 430.93L233.00 430.90L233.25 430.87L233.50 430.84L233.75 430.82L234.00 430.80L234.25 430.78L234.50 430.76L234.75 430.74L235.00 430.72L235.25 430.70L235.50 430.68L235.75 430.67L236.00 430.65L236.25 430.64L236.50 430.62L236.75 430.61L237.00 430.61L237.25 430.60L237.50 430.60L237.75 430.68L238.00 430.88L238.25 431.18L238.50 431.52L238.75 431.88L239.00 432.20L239.25 432.52L239.50 432.88L239.75 433.26L240.00 433.64L240.25 434.01L240.50 434.36L240.75 434.66L241.00 434.90L241.25 435.10L241.50 435.29L241.75 435.47L242.00 435.63L242.25 435.79L242.50 435.93L242.75 436.07L243.00 436.20L243.25 436.31L243.50 436.42L243.75 436.51L244.00 436.60L244.25 436.68L244.50 436.76L244.75 436.85L245.00 436.93L245.25 437.00L245.50 437.08L245.75 437.15L246.00 437.22L246.25 437.28L246.50 437.35L246.75 437.40L247.00 437.45L247.25 437.49L247.50 437.53L247.75 437.56L248.00 437.58L248.25 437.60L248.50 437.60L248.75 437.60L249.00 437.60L249.25 437.59L249.50 437.59L249.75 437.58L250.00 437.58L250.25 437.57L250.50 437.56L250.75 437.55L251.00 437.54L251.25 437.53L251.50 437.52L251.75 437.51L252.00 437.50L252.25 437.49L252.50 437.47L252.75 437.46L253.00 437.45L253.25 437.44L253.50 437.42L253.75 437.41L254.00 437.40L254.25 437.39L254.50 437.38L254.75 437.36L255.00 437.35L255.25 437.33L255.50 437.32L255.75 437.30L256.00 437.28L256.25 437.27L256.50 437.25L256.75 437.23L257.00 437.21L257.25 437.20L257.50 437.18L257.75 437.16L258.00 437.14L258.25 437.12L258.50 437.10L258.75 437.08L259.00 437.06L259.25 437.04L259.50 437.02L259.75 437.00L260.00 436.98L260.25 436.96L260.50 436.94L260.75 436.92L261.00 436.90L261.25 436.88L261.50 436.86L261.75 436.84L262.00 436.82L262.25 436.80L262.50 436.79L262.75 436.77L263.00 436.75L263.25 436.73L263.50 436.72L263.75 436.70L264.00 436.69L264.25 436.67L264.50 436.66L264.75 436.64L265.00 436.62L265.25 436.61L265.50 436.59L265.75 436.57L266.00 436.55L266.25 436.54L266.50 436.52L266.75 436.50L267.00 436.48L267.25 436.47L267.50 436.45L267.75 436.44L268.00 436.42L268.25 436.41L268.50 436.39L268.75 436.38L269.00 436.37L269.25 436.35L269.50 436.34L269.75 436.33L270.00 436.33L270.25 436.32L270.50 436.31L270.75 436.31L271.00 436.30L271.25 436.30L271.50 436.30L271.75 436.31L272.00 436.34L272.25 436.38L272.50 436.44L272.75 436.52L273.00 436.61L273.25 436.71L273.50 436.83L273.75 436.95L274.00 437.08L274.25 437.22L274.50 437.37L274.75 437.53L275.00 437.69L275.25 437.85L275.50 438.01L275.75 438.18L276.00 438.34L276.25 438.51L276.50 438.67L276.75 438.83L277.00 439.05L277.25 439.31L277.50 439.58L277.75 439.82L278.00 440.01L278.25 440.10L278.50 440.09L278.75 440.04L279.00 439.97L279.25 439.87L279.50 439.76L279.75 439.64L280.00 439.52L280.25 439.41L280.50 439.30L280.75 439.20L281.00 439.10L281.25 438.99L281.50 438.89L281.75 438.78L282.00 438.66L282.25 438.55L282.50 438.43L282.75 438.32L283.00 438.20L283.25 438.08L283.50 437.96L283.75 437.85L284.00 437.73L284.25 437.61L284.50 437.50L284.75 437.38L285.00 437.27L285.25 437.16L285.50 437.05L285.75 436.95L286.00 436.84L286.25 436.74L286.50 436.65L286.75 436.56L287.00 436.47L287.25 436.38L287.50 436.30L287.75 436.22L288.00 436.14L288.25 436.06L288.50 435.98L288.75 435.90L289.00 435.82L289.25 435.75L289.50 435.67L289.75 435.60L290.00 435.53L290.25 435.46L290.50 435.39L290.75 435.33L291.00 435.27L291.25 435.22L291.50 435.16L291.75 435.11L292.00 435.07L292.25 435.02L292.50 434.99L292.75 434.95L293.00 434.91L293.25 434.88L293.50 434.85L293.75 434.82L294.00 434.79L294.25 434.76L294.50 434.74L294.75 434.71L295.00 434.69L295.25 434.67L295.50 434.64L295.75 434.62L296.00 434.60L296.25 434.58L296.50 434.56L296.75 434.54L297.00 434.51L297.25 434.49L297.50 434.47L297.75 434.45L298.00 434.43L298.25 434.41L298.50 434.39L298.75 434.37L299.00 434.34L299.25 434.32L299.50 434.30L299.75 434.27L300.00 434.24L300.25 434.22L300.50 434.19L300.75 434.16L301.00 434.13L301.25 434.10L301.50 434.07L301.75 434.03L302.00 434.00L302.25 433.97L302.50 433.93L302.75 433.90L303.00 433.86L303.25 433.83L303.50 433.79L303.75 433.76L304.00 433.72L304.25 433.68L304.50 433.65L304.75 433.61L305.00 433.58L305.25 433.54L305.50 433.51L305.75 433.47L306.00 433.44L306.25 433.40L306.50 433.37L306.75 433.33L307.00 433.30L307.25 433.27L307.50 433.24L307.75 433.21L308.00 433.18L308.25 433.15L308.50 433.12L308.75 433.09L309.00 433.06L309.25 433.03L309.50 433.01L309.75 432.98L310.00 432.95L310.25 432.93L310.50 432.90L310.75 432.88L311.00 432.85L311.25 432.83L311.50 432.80L311.75 432.77L312.00 432.75L312.25 432.72L312.50 432.70L312.75 432.67L313.00 432.64L313.25 432.62L313.50 432.59L313.75 432.56L314.00 432.53L314.25 432.50L314.50 432.47L314.75 432.44L315.00 432.41L315.25 432.38L315.50 432.35L315.75 432.31L316.00 432.28L316.25 432.24L316.50 432.21L316.75 432.17L317.00 432.13L317.25 432.09L317.50 432.06L317.75 432.02L318.00 431.98L318.25 431.94L318.50 431.90L318.75 431.86L319.00 431.82L319.25 431.78L319.50 431.74L319.75 431.70L320.00 431.66L320.25 431.62L320.50 431.58L320.75 431.54L321.00 431.50L321.25 431.46L321.50 431.43" fill="none" stroke="#ff0000" stroke-width="2.00" stroke-linejoin="round" stroke-dasharray="8,6.1" stroke-dashoffset="11.10" clip-path="url(#c02)"/>
<line x1="140.20" y1="345.30" x2="170.20" y2="345.30" stroke="#0000ff" stroke-width="2"/>
<text x="174.00" y="349.80" font-size="12.50" font-style="italic">V</text>
<text x="182.60" y="353.80" font-size="8.6" font-style="italic">lv</text>
<line x1="220.20" y1="345.30" x2="229.20" y2="345.30" stroke="#ff0000" stroke-width="2"/>
<line x1="236.20" y1="345.30" x2="245.20" y2="345.30" stroke="#ff0000" stroke-width="2"/>
<text x="254.00" y="349.80" font-size="12.50" font-style="italic">V</text>
<text x="262.60" y="353.80" font-size="8.6" font-style="italic">la</text>
<line x1="386.50" y1="451.50" x2="386.50" y2="446.50" stroke="#1a1a1a" stroke-width="1"/>
<line x1="386.50" y1="335.50" x2="386.50" y2="340.50" stroke="#1a1a1a" stroke-width="1"/>
<text x="386.60" y="467.10" text-anchor="middle" font-size="12.50">58.0</text>
<line x1="407.50" y1="451.50" x2="407.50" y2="448.70" stroke="#1a1a1a" stroke-width="1"/>
<line x1="407.50" y1="335.50" x2="407.50" y2="338.30" stroke="#1a1a1a" stroke-width="1"/>
<line x1="428.50" y1="451.50" x2="428.50" y2="446.50" stroke="#1a1a1a" stroke-width="1"/>
<line x1="428.50" y1="335.50" x2="428.50" y2="340.50" stroke="#1a1a1a" stroke-width="1"/>
<text x="428.60" y="467.10" text-anchor="middle" font-size="12.50">58.4</text>
<line x1="449.50" y1="451.50" x2="449.50" y2="448.70" stroke="#1a1a1a" stroke-width="1"/>
<line x1="449.50" y1="335.50" x2="449.50" y2="338.30" stroke="#1a1a1a" stroke-width="1"/>
<line x1="470.50" y1="451.50" x2="470.50" y2="446.50" stroke="#1a1a1a" stroke-width="1"/>
<line x1="470.50" y1="335.50" x2="470.50" y2="340.50" stroke="#1a1a1a" stroke-width="1"/>
<text x="470.60" y="467.10" text-anchor="middle" font-size="12.50">58.8</text>
<line x1="491.50" y1="451.50" x2="491.50" y2="448.70" stroke="#1a1a1a" stroke-width="1"/>
<line x1="491.50" y1="335.50" x2="491.50" y2="338.30" stroke="#1a1a1a" stroke-width="1"/>
<line x1="512.50" y1="451.50" x2="512.50" y2="446.50" stroke="#1a1a1a" stroke-width="1"/>
<line x1="512.50" y1="335.50" x2="512.50" y2="340.50" stroke="#1a1a1a" stroke-width="1"/>
<text x="512.60" y="467.10" text-anchor="middle" font-size="12.50">59.2</text>
<line x1="533.50" y1="451.50" x2="533.50" y2="448.70" stroke="#1a1a1a" stroke-width="1"/>
<line x1="533.50" y1="335.50" x2="533.50" y2="338.30" stroke="#1a1a1a" stroke-width="1"/>
<line x1="554.50" y1="451.50" x2="554.50" y2="446.50" stroke="#1a1a1a" stroke-width="1"/>
<line x1="554.50" y1="335.50" x2="554.50" y2="340.50" stroke="#1a1a1a" stroke-width="1"/>
<text x="554.60" y="467.10" text-anchor="middle" font-size="12.50">59.6</text>
<line x1="575.50" y1="451.50" x2="575.50" y2="448.70" stroke="#1a1a1a" stroke-width="1"/>
<line x1="575.50" y1="335.50" x2="575.50" y2="338.30" stroke="#1a1a1a" stroke-width="1"/>
<line x1="596.50" y1="451.50" x2="596.50" y2="446.50" stroke="#1a1a1a" stroke-width="1"/>
<line x1="596.50" y1="335.50" x2="596.50" y2="340.50" stroke="#1a1a1a" stroke-width="1"/>
<text x="596.60" y="467.10" text-anchor="middle" font-size="12.50">60.0</text>
<line x1="386.50" y1="451.50" x2="391.50" y2="451.50" stroke="#1a1a1a" stroke-width="1"/>
<line x1="596.50" y1="451.50" x2="591.50" y2="451.50" stroke="#1a1a1a" stroke-width="1"/>
<text x="381.30" y="455.90" text-anchor="end" font-size="12.50">0</text>
<line x1="386.50" y1="441.83" x2="389.30" y2="441.83" stroke="#1a1a1a" stroke-width="1"/>
<line x1="596.50" y1="441.83" x2="593.70" y2="441.83" stroke="#1a1a1a" stroke-width="1"/>
<line x1="386.50" y1="432.17" x2="391.50" y2="432.17" stroke="#1a1a1a" stroke-width="1"/>
<line x1="596.50" y1="432.17" x2="591.50" y2="432.17" stroke="#1a1a1a" stroke-width="1"/>
<text x="381.30" y="436.57" text-anchor="end" font-size="12.50">50</text>
<line x1="386.50" y1="422.50" x2="389.30" y2="422.50" stroke="#1a1a1a" stroke-width="1"/>
<line x1="596.50" y1="422.50" x2="593.70" y2="422.50" stroke="#1a1a1a" stroke-width="1"/>
<line x1="386.50" y1="412.83" x2="391.50" y2="412.83" stroke="#1a1a1a" stroke-width="1"/>
<line x1="596.50" y1="412.83" x2="591.50" y2="412.83" stroke="#1a1a1a" stroke-width="1"/>
<text x="381.30" y="417.23" text-anchor="end" font-size="12.50">100</text>
<line x1="386.50" y1="403.17" x2="389.30" y2="403.17" stroke="#1a1a1a" stroke-width="1"/>
<line x1="596.50" y1="403.17" x2="593.70" y2="403.17" stroke="#1a1a1a" stroke-width="1"/>
<line x1="386.50" y1="393.50" x2="391.50" y2="393.50" stroke="#1a1a1a" stroke-width="1"/>
<line x1="596.50" y1="393.50" x2="591.50" y2="393.50" stroke="#1a1a1a" stroke-width="1"/>
<text x="381.30" y="397.90" text-anchor="end" font-size="12.50">150</text>
<line x1="386.50" y1="383.83" x2="389.30" y2="383.83" stroke="#1a1a1a" stroke-width="1"/>
<line x1="596.50" y1="383.83" x2="593.70" y2="383.83" stroke="#1a1a1a" stroke-width="1"/>
<line x1="386.50" y1="374.17" x2="391.50" y2="374.17" stroke="#1a1a1a" stroke-width="1"/>
<line x1="596.50" y1="374.17" x2="591.50" y2="374.17" stroke="#1a1a1a" stroke-width="1"/>
<text x="381.30" y="378.57" text-anchor="end" font-size="12.50">200</text>
<line x1="386.50" y1="364.50" x2="389.30" y2="364.50" stroke="#1a1a1a" stroke-width="1"/>
<line x1="596.50" y1="364.50" x2="593.70" y2="364.50" stroke="#1a1a1a" stroke-width="1"/>
<line x1="386.50" y1="354.83" x2="391.50" y2="354.83" stroke="#1a1a1a" stroke-width="1"/>
<line x1="596.50" y1="354.83" x2="591.50" y2="354.83" stroke="#1a1a1a" stroke-width="1"/>
<text x="381.30" y="359.23" text-anchor="end" font-size="12.50">250</text>
<line x1="386.50" y1="345.17" x2="389.30" y2="345.17" stroke="#1a1a1a" stroke-width="1"/>
<line x1="596.50" y1="345.17" x2="593.70" y2="345.17" stroke="#1a1a1a" stroke-width="1"/>
<line x1="386.50" y1="335.50" x2="391.50" y2="335.50" stroke="#1a1a1a" stroke-width="1"/>
<line x1="596.50" y1="335.50" x2="591.50" y2="335.50" stroke="#1a1a1a" stroke-width="1"/>
<text x="381.30" y="339.90" text-anchor="end" font-size="12.50">300</text>
<rect x="386.50" y="335.50" width="210.00" height="116.00" fill="none" stroke="#1a1a1a" stroke-width="1"/>
<text x="492.10" y="479.10" text-anchor="middle" font-size="13.00">Time (s)</text>
<text transform="translate(346.60 392.20) rotate(-90)" text-anchor="middle" font-size="13.00">Volume (mL)</text>
<path d="M383.50 407.13L383.75 407.57L384.00 408.11L384.25 408.75L384.50 409.45L384.75 410.19L385.00 410.95L385.25 411.71L385.50 412.44L385.75 413.13L386.00 413.74L386.25 414.33L386.50 414.90L386.75 415.47L387.00 416.02L387.25 416.56L387.50 417.09L387.75 417.61L388.00 418.12L388.25 418.62L388.50 419.11L388.75 419.59L389.00 420.06L389.25 420.53L389.50 420.99L389.75 421.44L390.00 421.88L390.25 422.31L390.50 422.72L390.75 423.12L391.00 423.50L391.25 423.87L391.50 424.22L391.75 424.57L392.00 424.90L392.25 425.22L392.50 425.54L392.75 425.85L393.00 426.15L393.25 426.44L393.50 426.73L393.75 427.00L394.00 427.27L394.25 427.53L394.50 427.79L394.75 428.04L395.00 428.30L395.25 428.56L395.50 428.83L395.75 429.10L396.00 429.36L396.25 429.62L396.50 429.87L396.75 430.09L397.00 430.30L397.25 430.49L397.50 430.67L397.75 430.84L398.00 431.00L398.25 431.16L398.50 431.31L398.75 431.46L399.00 431.60L399.25 431.74L399.50 431.88L399.75 432.01L400.00 432.15L400.25 432.28L400.50 432.41L400.75 432.54L401.00 432.67L401.25 432.79L401.50 432.91L401.75 433.03L402.00 433.15L402.25 433.27L402.50 433.38L402.75 433.49L403.00 433.60L403.25 433.71L403.50 433.81L403.75 433.92L404.00 434.02L404.25 434.13L404.50 434.23L404.75 434.33L405.00 434.42L405.25 434.52L405.50 434.61L405.75 434.71L406.00 434.80L406.25 434.88L406.50 434.97L406.75 435.05L407.00 435.13L407.25 435.22L407.50 435.30L407.75 435.39L408.00 435.47L408.25 435.56L408.50 435.64L408.75 435.72L409.00 435.80L409.25 435.88L409.50 435.95L409.75 436.02L410.00 436.09L410.25 436.15L410.50 436.21L410.75 436.26L411.00 436.31L411.25 436.35L411.50 436.39L411.75 436.42L412.00 436.45L412.25 436.47L412.50 436.50L412.75 436.53L413.00 436.55L413.25 436.58L413.50 436.60L413.75 436.62L414.00 436.64L414.25 436.66L414.50 436.67L414.75 436.68L415.00 436.69L415.25 436.70L415.50 436.70L415.75 436.70L416.00 436.70L416.25 436.70L416.50 436.70L416.75 436.69L417.00 436.69L417.25 436.69L417.50 436.68L417.75 436.68L418.00 436.67L418.25 436.66L418.50 436.65L418.75 436.64L419.00 436.63L419.25 436.62L419.50 436.61L419.75 436.51L420.00 436.09L420.25 435.53L420.50 434.99L420.75 434.42L421.00 433.79L421.25 433.16L421.50 432.54L421.75 431.95L422.00 431.35L422.25 430.76L422.50 430.19L422.75 429.65L423.00 429.17L423.25 428.76L423.50 428.39L423.75 428.05L424.00 427.74L424.25 427.43L424.50 427.13L424.75 426.81L425.00 426.49L425.25 426.16L425.50 425.84L425.75 425.52L426.00 425.20L426.25 424.90L426.50 424.61L426.75 424.34L427.00 424.09L427.25 423.87L427.50 423.65L427.75 423.45L428.00 423.26L428.25 423.08L428.50 422.91L428.75 422.73L429.00 422.57L429.25 422.40L429.50 422.24L429.75 422.07L430.00 421.92L430.25 421.76L430.50 421.60L430.75 421.45L431.00 421.30L431.25 421.15L431.50 421.01L431.75 420.86L432.00 420.72L432.25 420.58L432.50 420.44L432.75 420.30L433.00 420.16L433.25 420.02L433.50 419.89L433.75 419.75L434.00 419.62L434.25 419.49L434.50 419.35L434.75 419.22L435.00 419.09L435.25 418.96L435.50 418.82L435.75 418.69L436.00 418.56L436.25 418.43L436.50 418.30L436.75 418.16L437.00 418.03L437.25 417.90L437.50 417.77L437.75 417.64L438.00 417.52L438.25 417.39L438.50 417.26L438.75 417.14L439.00 417.01L439.25 416.89L439.50 416.77L439.75 416.65L440.00 416.53L440.25 416.41L440.50 416.29L440.75 416.18L441.00 416.06L441.25 415.95L441.50 415.84L441.75 415.73L442.00 415.63L442.25 415.52L442.50 415.42L442.75 415.32L443.00 415.22L443.25 415.13L443.50 415.04L443.75 414.95L444.00 414.86L444.25 414.77L444.50 414.69L444.75 414.61L445.00 414.53L445.25 414.45L445.50 414.38L445.75 414.30L446.00 414.23L446.25 414.16L446.50 414.09L446.75 414.02L447.00 413.95L447.25 413.88L447.50 413.81L447.75 413.74L448.00 413.67L448.25 413.60L448.50 413.53L448.75 413.45L449.00 413.38L449.25 413.31L449.50 413.23L449.75 413.15L450.00 413.08L450.25 413.00L450.50 412.93L450.75 412.85L451.00 412.78L451.25 412.71L451.50 412.64L451.75 412.57L452.00 412.49L452.25 412.42L452.50 412.35L452.75 412.28L453.00 412.21L453.25 412.14L453.50 412.07L453.75 411.99L454.00 411.92L454.25 411.85L454.50 411.78L454.75 411.70L455.00 411.63L455.25 411.55L455.50 411.47L455.75 411.40L456.00 411.32L456.25 411.24L456.50 411.16L456.75 411.07L457.00 410.99L457.25 410.90L457.50 410.82L457.75 410.73L458.00 410.63L458.25 410.54L458.50 410.45L458.75 410.35L459.00 410.25L459.25 410.15L459.50 410.04L459.75 409.94L460.00 409.83L460.25 409.72L460.50 409.60L460.75 409.45L461.00 409.28L461.25 409.04L461.50 408.66L461.75 408.18L462.00 407.66L462.25 407.16L462.50 406.73L462.75 406.42L463.00 406.11L463.25 405.81L463.50 405.56L463.75 405.35L464.00 405.23L464.25 405.18L464.50 405.14L464.75 405.11L465.00 405.10L465.25 405.10L465.50 405.10L465.75 405.10L466.00 405.10L466.25 405.10L466.50 405.10L466.75 405.10L467.00 405.10L467.25 405.10L467.50 405.10L467.75 405.10L468.00 405.10L468.25 405.10L468.50 405.10L468.75 405.10L469.00 405.10L469.25 405.10L469.50 405.10L469.75 405.10L470.00 405.10L470.25 405.10L470.50 405.10L470.75 405.10L471.00 405.10L471.25 405.10L471.50 405.10L471.75 405.10L472.00 405.10L472.25 405.10L472.50 405.10L472.75 405.11L473.00 405.12L473.25 405.13L473.50 405.14L473.75 405.16L474.00 405.18L474.25 405.20L474.50 405.26L474.75 405.44L475.00 405.71L475.25 406.06L475.50 406.46L475.75 406.88L476.00 407.30L476.25 407.78L476.50 408.36L476.75 409.02L477.00 409.74L477.25 410.49L477.50 411.26L477.75 412.01L478.00 412.72L478.25 413.38L478.50 413.98L478.75 414.56L479.00 415.13L479.25 415.69L479.50 416.24L479.75 416.77L480.00 417.30L480.25 417.81L480.50 418.32L480.75 418.81L481.00 419.30L481.25 419.78L481.50 420.25L481.75 420.72L482.00 421.17L482.25 421.62L482.50 422.05L482.75 422.47L483.00 422.88L483.25 423.27L483.50 423.65L483.75 424.01L484.00 424.36L484.25 424.70L484.50 425.03L484.75 425.35L485.00 425.66L485.25 425.97L485.50 426.27L485.75 426.56L486.00 426.84L486.25 427.11L486.50 427.38L486.75 427.64L487.00 427.89L487.25 428.15L487.50 428.40L487.75 428.67L488.00 428.94L488.25 429.21L488.50 429.47L488.75 429.72L489.00 429.96L489.25 430.18L489.50 430.38L489.75 430.56L490.00 430.74L490.25 430.91L490.50 431.07L490.75 431.22L491.00 431.37L491.25 431.51L491.50 431.66L491.75 431.79L492.00 431.93L492.25 432.07L492.50 432.20L492.75 432.33L493.00 432.46L493.25 432.59L493.50 432.72L493.75 432.84L494.00 432.96L494.25 433.08L494.50 433.20L494.75 433.31L495.00 433.42L495.25 433.53L495.50 433.64L495.75 433.75L496.00 433.86L496.25 433.96L496.50 434.06L496.75 434.17L497.00 434.27L497.25 434.37L497.50 434.46L497.75 434.56L498.00 434.65L498.25 434.74L498.50 434.83L498.75 434.92L499.00 435.00L499.25 435.08L499.50 435.17L499.75 435.25L500.00 435.34L500.25 435.42L500.50 435.51L500.75 435.59L501.00 435.67L501.25 435.75L501.50 435.83L501.75 435.91L502.00 435.98L502.25 436.05L502.50 436.12L502.75 436.18L503.00 436.23L503.25 436.28L503.50 436.33L503.75 436.37L504.00 436.40L504.25 436.43L504.50 436.46L504.75 436.49L505.00 436.51L505.25 436.54L505.50 436.56L505.75 436.59L506.00 436.61L506.25 436.63L506.50 436.65L506.75 436.66L507.00 436.67L507.25 436.69L507.50 436.69L507.75 436.70L508.00 436.70L508.25 436.70L508.50 436.70L508.75 436.70L509.00 436.70L509.25 436.69L509.50 436.69L509.75 436.69L510.00 436.68L510.25 436.68L510.50 436.67L510.75 436.66L511.00 436.65L511.25 436.64L511.50 436.63L511.75 436.61L512.00 436.60L512.25 436.38L512.50 435.87L512.75 435.30L513.00 434.77L513.25 434.17L513.50 433.54L513.75 432.90L514.00 432.30L514.25 431.71L514.50 431.12L514.75 430.53L515.00 429.97L515.25 429.45L515.50 429.00L515.75 428.61L516.00 428.25L516.25 427.93L516.50 427.62L516.75 427.31L517.00 427.00L517.25 426.68L517.50 426.36L517.75 426.03L518.00 425.71L518.25 425.39L518.50 425.08L518.75 424.78L519.00 424.50L519.25 424.24L519.50 424.00L519.75 423.78L520.00 423.57L520.25 423.37L520.50 423.19L520.75 423.01L521.00 422.84L521.25 422.67L521.50 422.50L521.75 422.33L522.00 422.17L522.25 422.01L522.50 421.85L522.75 421.70L523.00 421.54L523.25 421.39L523.50 421.24L523.75 421.09L524.00 420.95L524.25 420.80L524.50 420.66L524.75 420.52L525.00 420.38L525.25 420.24L525.50 420.10L525.75 419.97L526.00 419.83L526.25 419.70L526.50 419.57L526.75 419.43L527.00 419.30L527.25 419.17L527.50 419.04L527.75 418.90L528.00 418.77L528.25 418.64L528.50 418.51L528.75 418.37L529.00 418.24L529.25 418.11L529.50 417.98L529.75 417.85L530.00 417.72L530.25 417.59L530.50 417.47L530.75 417.34L531.00 417.21L531.25 417.09L531.50 416.96L531.75 416.84L532.00 416.72L532.25 416.60L532.50 416.48L532.75 416.36L533.00 416.25L533.25 416.13L533.50 416.02L533.75 415.91L534.00 415.80L534.25 415.69L534.50 415.59L534.75 415.48L535.00 415.38L535.25 415.28L535.50 415.19L535.75 415.09L536.00 415.00L536.25 414.91L536.50 414.82L536.75 414.74L537.00 414.66L537.25 414.58L537.50 414.50L537.75 414.42L538.00 414.35L538.25 414.27L538.50 414.20L538.75 414.13L539.00 414.06L539.25 413.99L539.50 413.92L539.75 413.85L540.00 413.78L540.25 413.71L540.50 413.64L540.75 413.57L541.00 413.50L541.25 413.42L541.50 413.35L541.75 413.28L542.00 413.20L542.25 413.12L542.50 413.05L542.75 412.97L543.00 412.90L543.25 412.83L543.50 412.75L543.75 412.68L544.00 412.61L544.25 412.54L544.50 412.47L544.75 412.39L545.00 412.32L545.25 412.25L545.50 412.18L545.75 412.11L546.00 412.04L546.25 411.97L546.50 411.89L546.75 411.82L547.00 411.75L547.25 411.67L547.50 411.60L547.75 411.52L548.00 411.44L548.25 411.37L548.50 411.29L548.75 411.21L549.00 411.12L549.25 411.04L549.50 410.95L549.75 410.87L550.00 410.78L550.25 410.69L550.50 410.60L550.75 410.50L551.00 410.41L551.25 410.31L551.50 410.21L551.75 410.11L552.00 410.00L552.25 409.90L552.50 409.79L552.75 409.67L553.00 409.54L553.25 409.39L553.50 409.20L553.75 408.91L554.00 408.48L554.25 407.97L554.50 407.45L554.75 406.97L555.00 406.60L555.25 406.29L555.50 405.99L555.75 405.70L556.00 405.47L556.25 405.29L556.50 405.20L556.75 405.16L557.00 405.13L557.25 405.11L557.50 405.10L557.75 405.10L558.00 405.10L558.25 405.10L558.50 405.10L558.75 405.10L559.00 405.10L559.25 405.10L559.50 405.10L559.75 405.10L560.00 405.10L560.25 405.10L560.50 405.10L560.75 405.10L561.00 405.10L561.25 405.10L561.50 405.10L561.75 405.10L562.00 405.10L562.25 405.10L562.50 405.10L562.75 405.10L563.00 405.10L563.25 405.10L563.50 405.10L563.75 405.10L564.00 405.10L564.25 405.10L564.50 405.10L564.75 405.10L565.00 405.11L565.25 405.11L565.50 405.12L565.75 405.13L566.00 405.15L566.25 405.16L566.50 405.18L566.75 405.21L567.00 405.32L567.25 405.54L567.50 405.85L567.75 406.21L568.00 406.62L568.25 407.05L568.50 407.48L568.75 408.00L569.00 408.61L569.25 409.30L569.50 410.04L569.75 410.80L570.00 411.56L570.25 412.30L570.50 412.99L570.75 413.62L571.00 414.21L571.25 414.79L571.50 415.35L571.75 415.91L572.00 416.45L572.25 416.98L572.50 417.51L572.75 418.02L573.00 418.52L573.25 419.01L573.50 419.49L573.75 419.97L574.00 420.44L574.25 420.90L574.50 421.35L574.75 421.79L575.00 422.22L575.25 422.64L575.50 423.04L575.75 423.42L576.00 423.79L576.25 424.15L576.50 424.50L576.75 424.83L577.00 425.16L577.25 425.48L577.50 425.79L577.75 426.09L578.00 426.38L578.25 426.67L578.50 426.95L578.75 427.22L579.00 427.48L579.25 427.74L579.50 427.99L579.75 428.25L580.00 428.51L580.25 428.78L580.50 429.04L580.75 429.31L581.00 429.57L581.25 429.82L581.50 430.05L581.75 430.26L582.00 430.45L582.25 430.63L582.50 430.81L582.75 430.97L583.00 431.13L583.25 431.28L583.50 431.43L583.75 431.57L584.00 431.71L584.25 431.85L584.50 431.98L584.75 432.12L585.00 432.25L585.25 432.39L585.50 432.52L585.75 432.64L586.00 432.77L586.25 432.89L586.50 433.01L586.75 433.13L587.00 433.24L587.25 433.36L587.50 433.47L587.75 433.58L588.00 433.69L588.25 433.79L588.50 433.90L588.75 434.00L589.00 434.11L589.25 434.21L589.50 434.31L589.75 434.41L590.00 434.50L590.25 434.60L590.50 434.69L590.75 434.78L591.00 434.87L591.25 434.95L591.50 435.03L591.75 435.12L592.00 435.20L592.25 435.29L592.50 435.37L592.75 435.46L593.00 435.54L593.25 435.62L593.50 435.71L593.75 435.79L594.00 435.86L594.25 435.94L594.50 436.01L594.75 436.08L595.00 436.14L595.25 436.20L595.50 436.25L595.75 436.30L596.00 436.35L596.25 436.38L596.50 436.41L596.75 436.44L597.00 436.47L597.25 436.50L597.50 436.52L597.75 436.55L598.00 436.57L598.25 436.60L598.50 436.62L598.75 436.64L599.00 436.65L599.25 436.67L599.50 436.68" fill="none" stroke="#0000ff" stroke-width="2.00" stroke-linejoin="round" clip-path="url(#c12)"/>
<path d="M383.50 438.23L383.75 438.18L384.00 438.12L384.25 438.07L384.50 438.02L384.75 437.97L385.00 437.92L385.25 437.87L385.50 437.83L385.75 437.79L386.00 437.75L386.25 437.70L386.50 437.66L386.75 437.62L387.00 437.58L387.25 437.53L387.50 437.49L387.75 437.44L388.00 437.39L388.25 437.33L388.50 437.28L388.75 437.21L389.00 437.14L389.25 437.06L389.50 436.98L389.75 436.90L390.00 436.82L390.25 436.75L390.50 436.67L390.75 436.60L391.00 436.54L391.25 436.49L391.50 436.44L391.75 436.40L392.00 436.36L392.25 436.32L392.50 436.28L392.75 436.24L393.00 436.20L393.25 436.17L393.50 436.13L393.75 436.10L394.00 436.07L394.25 436.04L394.50 436.01L394.75 435.98L395.00 435.95L395.25 435.92L395.50 435.89L395.75 435.86L396.00 435.83L396.25 435.80L396.50 435.77L396.75 435.74L397.00 435.71L397.25 435.68L397.50 435.64L397.75 435.61L398.00 435.57L398.25 435.53L398.50 435.50L398.75 435.46L399.00 435.42L399.25 435.38L399.50 435.34L399.75 435.30L400.00 435.26L400.25 435.22L400.50 435.18L400.75 435.14L401.00 435.10L401.25 435.06L401.50 435.02L401.75 434.98L402.00 434.94L402.25 434.90L402.50 434.86L402.75 434.82L403.00 434.78L403.25 434.74L403.50 434.70L403.75 434.67L404.00 434.63L404.25 434.59L404.50 434.55L404.75 434.51L405.00 434.47L405.25 434.44L405.50 434.40L405.75 434.36L406.00 434.33L406.25 434.29L406.50 434.25L406.75 434.21L407.00 434.17L407.25 434.13L407.50 434.09L407.75 434.05L408.00 434.02L408.25 433.98L408.50 433.94L408.75 433.91L409.00 433.87L409.25 433.84L409.50 433.81L409.75 433.78L410.00 433.75L410.25 433.73L410.50 433.71L410.75 433.69L411.00 433.67L411.25 433.65L411.50 433.63L411.75 433.61L412.00 433.59L412.25 433.57L412.50 433.56L412.75 433.54L413.00 433.53L413.25 433.52L413.50 433.51L413.75 433.50L414.00 433.50L414.25 433.50L414.50 433.50L414.75 433.51L415.00 433.52L415.25 433.54L415.50 433.56L415.75 433.58L416.00 433.61L416.25 433.64L416.50 433.67L416.75 433.71L417.00 433.75L417.25 433.80L417.50 433.85L417.75 433.90L418.00 433.96L418.25 434.02L418.50 434.08L418.75 434.15L419.00 434.23L419.25 434.31L419.50 434.39L419.75 434.47L420.00 434.57L420.25 434.66L420.50 434.76L420.75 434.90L421.00 435.19L421.25 435.62L421.50 436.14L421.75 436.73L422.00 437.33L422.25 437.92L422.50 438.45L422.75 438.89L423.00 439.20L423.25 439.42L423.50 439.62L423.75 439.81L424.00 439.98L424.25 440.14L424.50 440.29L424.75 440.43L425.00 440.56L425.25 440.69L425.50 440.81L425.75 440.92L426.00 441.03L426.25 441.14L426.50 441.25L426.75 441.37L427.00 441.49L427.25 441.61L427.50 441.74L427.75 441.86L428.00 441.99L428.25 442.10L428.50 442.21L428.75 442.31L429.00 442.40L429.25 442.48L429.50 442.54L429.75 442.58L430.00 442.60L430.25 442.60L430.50 442.60L430.75 442.60L431.00 442.59L431.25 442.59L431.50 442.58L431.75 442.58L432.00 442.57L432.25 442.56L432.50 442.55L432.75 442.54L433.00 442.53L433.25 442.52L433.50 442.51L433.75 442.50L434.00 442.48L434.25 442.47L434.50 442.46L434.75 442.45L435.00 442.43L435.25 442.42L435.50 442.41L435.75 442.39L436.00 442.38L436.25 442.36L436.50 442.34L436.75 442.32L437.00 442.30L437.25 442.27L437.50 442.25L437.75 442.22L438.00 442.20L438.25 442.17L438.50 442.14L438.75 442.11L439.00 442.08L439.25 442.04L439.50 442.01L439.75 441.98L440.00 441.94L440.25 441.91L440.50 441.87L440.75 441.84L441.00 441.80L441.25 441.77L441.50 441.73L441.75 441.69L442.00 441.66L442.25 441.62L442.50 441.58L442.75 441.55L443.00 441.51L443.25 441.48L443.50 441.44L443.75 441.41L444.00 441.38L444.25 441.34L444.50 441.31L444.75 441.28L445.00 441.25L445.25 441.22L445.50 441.18L445.75 441.15L446.00 441.12L446.25 441.08L446.50 441.05L446.75 441.02L447.00 440.98L447.25 440.95L447.50 440.91L447.75 440.88L448.00 440.84L448.25 440.81L448.50 440.77L448.75 440.74L449.00 440.70L449.25 440.67L449.50 440.64L449.75 440.60L450.00 440.57L450.25 440.54L450.50 440.50L450.75 440.47L451.00 440.44L451.25 440.41L451.50 440.38L451.75 440.36L452.00 440.33L452.25 440.30L452.50 440.28L452.75 440.25L453.00 440.23L453.25 440.20L453.50 440.18L453.75 440.16L454.00 440.14L454.25 440.11L454.50 440.09L454.75 440.07L455.00 440.04L455.25 440.02L455.50 440.00L455.75 439.98L456.00 439.96L456.25 439.94L456.50 439.93L456.75 439.92L457.00 439.91L457.25 439.90L457.50 439.90L457.75 439.90L458.00 439.93L458.25 439.98L458.50 440.05L458.75 440.13L459.00 440.23L459.25 440.35L459.50 440.47L459.75 440.60L460.00 440.74L460.25 440.92L460.50 441.22L460.75 441.62L461.00 442.06L461.25 442.51L461.50 442.91L461.75 443.22L462.00 443.38L462.25 443.39L462.50 443.36L462.75 443.30L463.00 443.22L463.25 443.13L463.50 443.04L463.75 442.95L464.00 442.87L464.25 442.79L464.50 442.71L464.75 442.63L465.00 442.55L465.25 442.46L465.50 442.38L465.75 442.29L466.00 442.20L466.25 442.11L466.50 442.02L466.75 441.93L467.00 441.83L467.25 441.74L467.50 441.65L467.75 441.55L468.00 441.45L468.25 441.36L468.50 441.26L468.75 441.17L469.00 441.07L469.25 440.97L469.50 440.87L469.75 440.77L470.00 440.67L470.25 440.56L470.50 440.44L470.75 440.32L471.00 440.19L471.25 440.05L471.50 439.89L471.75 439.74L472.00 439.60L472.25 439.47L472.50 439.34L472.75 439.22L473.00 439.10L473.25 438.99L473.50 438.90L473.75 438.81L474.00 438.73L474.25 438.66L474.50 438.59L474.75 438.52L475.00 438.45L475.25 438.39L475.50 438.33L475.75 438.27L476.00 438.21" fill="none" stroke="#ff0000" stroke-width="2.00" stroke-linejoin="round" stroke-dasharray="7.5,5.64" stroke-dashoffset="9.08" clip-path="url(#c12)"/>
<path d="M476.00 438.21L476.25 438.16L476.50 438.10L476.75 438.05L477.00 438.00L477.25 437.95L477.50 437.90L477.75 437.86L478.00 437.81L478.25 437.77L478.50 437.73L478.75 437.69L479.00 437.65L479.25 437.60L479.50 437.56L479.75 437.51L480.00 437.47L480.25 437.42L480.50 437.37L480.75 437.31L481.00 437.25L481.25 437.18L481.50 437.11L481.75 437.03L482.00 436.95L482.25 436.87L482.50 436.79L482.75 436.72L483.00 436.64L483.25 436.58L483.50 436.52L483.75 436.47L484.00 436.43L484.25 436.38L484.50 436.34L484.75 436.30L485.00 436.26L485.25 436.22L485.50 436.19L485.75 436.15L486.00 436.12L486.25 436.09L486.50 436.06L486.75 436.03L487.00 436.00L487.25 435.97L487.50 435.94L487.75 435.91L488.00 435.88L488.25 435.85L488.50 435.82L488.75 435.79L489.00 435.76L489.25 435.73L489.50 435.70L489.75 435.66L490.00 435.63L490.25 435.59L490.50 435.56L490.75 435.52L491.00 435.48L491.25 435.44L491.50 435.41L491.75 435.37L492.00 435.33L492.25 435.29L492.50 435.25L492.75 435.21L493.00 435.17L493.25 435.13L493.50 435.09L493.75 435.05L494.00 435.01L494.25 434.97L494.50 434.93L494.75 434.89L495.00 434.85L495.25 434.81L495.50 434.77L495.75 434.73L496.00 434.69L496.25 434.65L496.50 434.61L496.75 434.57L497.00 434.53L497.25 434.50L497.50 434.46L497.75 434.42L498.00 434.39L498.25 434.35L498.50 434.31L498.75 434.27L499.00 434.23L499.25 434.19L499.50 434.15L499.75 434.11L500.00 434.08L500.25 434.04L500.50 434.00L500.75 433.96L501.00 433.93L501.25 433.89L501.50 433.86L501.75 433.83L502.00 433.80L502.25 433.77L502.50 433.74L502.75 433.72L503.00 433.70L503.25 433.68L503.50 433.66L503.75 433.64L504.00 433.62L504.25 433.60L504.50 433.58L504.75 433.57L505.00 433.55L505.25 433.54L505.50 433.52L505.75 433.51L506.00 433.51L506.25 433.50L506.50 433.50L506.75 433.50L507.00 433.51L507.25 433.52L507.50 433.53L507.75 433.55L508.00 433.57L508.25 433.59L508.50 433.62L508.75 433.65L509.00 433.69L509.25 433.73L509.50 433.77L509.75 433.82L510.00 433.87L510.25 433.92L510.50 433.98L510.75 434.04L511.00 434.11L511.25 434.18L511.50 434.26L511.75 434.34L512.00 434.42L512.25 434.51L512.50 434.60L512.75 434.70L513.00 434.80L513.25 434.99L513.50 435.35L513.75 435.82L514.00 436.37L514.25 436.97L514.50 437.57L514.75 438.14L515.00 438.64L515.25 439.03L515.50 439.29L515.75 439.50L516.00 439.70L516.25 439.88L516.50 440.05L516.75 440.20L517.00 440.35L517.25 440.48L517.50 440.61L517.75 440.73L518.00 440.85L518.25 440.96L518.50 441.08L518.75 441.19L519.00 441.30L519.25 441.42L519.50 441.54L519.75 441.66L520.00 441.79L520.25 441.91L520.50 442.03L520.75 442.15L521.00 442.25L521.25 442.35L521.50 442.43L521.75 442.50L522.00 442.56L522.25 442.59L522.50 442.60L522.75 442.60L523.00 442.60L523.25 442.59L523.50 442.59L523.75 442.59L524.00 442.58L524.25 442.57L524.50 442.56L524.75 442.56L525.00 442.55L525.25 442.54L525.50 442.53L525.75 442.52L526.00 442.50L526.25 442.49L526.50 442.48L526.75 442.47L527.00 442.45L527.25 442.44L527.50 442.43L527.75 442.41L528.00 442.40L528.25 442.39L528.50 442.37L528.75 442.35L529.00 442.33L529.25 442.31L529.50 442.29L529.75 442.26L530.00 442.24L530.25 442.21L530.50 442.18L530.75 442.16L531.00 442.13L531.25 442.10L531.50 442.06L531.75 442.03L532.00 442.00L532.25 441.96L532.50 441.93L532.75 441.89L533.00 441.86L533.25 441.82L533.50 441.79L533.75 441.75L534.00 441.72L534.25 441.68L534.50 441.64L534.75 441.61L535.00 441.57L535.25 441.54L535.50 441.50L535.75 441.46L536.00 441.43L536.25 441.40L536.50 441.36L536.75 441.33L537.00 441.30L537.25 441.27L537.50 441.24L537.75 441.20L538.00 441.17L538.25 441.14L538.50 441.10L538.75 441.07L539.00 441.04L539.25 441.00L539.50 440.97L539.75 440.93L540.00 440.90L540.25 440.86L540.50 440.83L540.75 440.79L541.00 440.76L541.25 440.72L541.50 440.69L541.75 440.66L542.00 440.62L542.25 440.59L542.50 440.56L542.75 440.52L543.00 440.49L543.25 440.46L543.50 440.43L543.75 440.40L544.00 440.37L544.25 440.34L544.50 440.32L544.75 440.29L545.00 440.27L545.25 440.24L545.50 440.22L545.75 440.20L546.00 440.17L546.25 440.15L546.50 440.13L546.75 440.10L547.00 440.08L547.25 440.06L547.50 440.03L547.75 440.01L548.00 439.99L548.25 439.97L548.50 439.95L548.75 439.94L549.00 439.93L549.25 439.91L549.50 439.91L549.75 439.90L550.00 439.90L550.25 439.91L550.50 439.95L550.75 440.00L551.00 440.08L551.25 440.17L551.50 440.28L551.75 440.39L552.00 440.52L552.25 440.66L552.50 440.80L552.75 441.02L553.00 441.37L553.25 441.79L553.50 442.24L553.75 442.68L554.00 443.05L554.25 443.30L554.50 443.40L554.75 443.38L555.00 443.34L555.25 443.27L555.50 443.18L555.75 443.09L556.00 443.00L556.25 442.92L556.50 442.84L556.75 442.76L557.00 442.68L557.25 442.60L557.50 442.51L557.75 442.43L558.00 442.34L558.25 442.25L558.50 442.16L558.75 442.07L559.00 441.98L559.25 441.89L559.50 441.80L559.75 441.70L560.00 441.61L560.25 441.51L560.50 441.42L560.75 441.32L561.00 441.22L561.25 441.13L561.50 441.03L561.75 440.93L562.00 440.83L562.25 440.73L562.50 440.62L562.75 440.51L563.00 440.40L563.25 440.27L563.50 440.14L563.75 439.98L564.00 439.83L564.25 439.68L564.50 439.55L564.75 439.42L565.00 439.29L565.25 439.17L565.50 439.06L565.75 438.96L566.00 438.87L566.25 438.78L566.50 438.70L566.75 438.63L567.00 438.56L567.25 438.49L567.50 438.43L567.75 438.36L568.00 438.30L568.25 438.25L568.50 438.19L568.75 438.13L569.00 438.08L569.25 438.03L569.50 437.98L569.75 437.93L570.00 437.88L570.25 437.84L570.50 437.80L570.75 437.75L571.00 437.71L571.25 437.67L571.50 437.63L571.75 437.59L572.00 437.54L572.25 437.50L572.50 437.45L572.75 437.40L573.00 437.34L573.25 437.29L573.50 437.23L573.75 437.16L574.00 437.08L574.25 437.00L574.50 436.92L574.75 436.84L575.00 436.76L575.25 436.69L575.50 436.62L575.75 436.55L576.00 436.50L576.25 436.45L576.50 436.41L576.75 436.36L577.00 436.32L577.25 436.28L577.50 436.25L577.75 436.21L578.00 436.18L578.25 436.14L578.50 436.11L578.75 436.08L579.00 436.05L579.25 436.02L579.50 435.99L579.75 435.96L580.00 435.93L580.25 435.90L580.50 435.87L580.75 435.84L581.00 435.81L581.25 435.78L581.50 435.75L581.75 435.72L582.00 435.68L582.25 435.65L582.50 435.61L582.75 435.58L583.00 435.54L583.25 435.50L583.50 435.47L583.75 435.43L584.00 435.39L584.25 435.35L584.50 435.31L584.75 435.27L585.00 435.23L585.25 435.19L585.50 435.15L585.75 435.11L586.00 435.07L586.25 435.03L586.50 434.99L586.75 434.95L587.00 434.91L587.25 434.87L587.50 434.83L587.75 434.79L588.00 434.75L588.25 434.71L588.50 434.67L588.75 434.63L589.00 434.60L589.25 434.56L589.50 434.52L589.75 434.48L590.00 434.44L590.25 434.41L590.50 434.37L590.75 434.33L591.00 434.29L591.25 434.26L591.50 434.22L591.75 434.18L592.00 434.14L592.25 434.10L592.50 434.06L592.75 434.02L593.00 433.99L593.25 433.95L593.50 433.91L593.75 433.88L594.00 433.85L594.25 433.82L594.50 433.79L594.75 433.76L595.00 433.73L595.25 433.71L595.50 433.69L595.75 433.67L596.00 433.65L596.25 433.63L596.50 433.61L596.75 433.59L597.00 433.58L597.25 433.56L597.50 433.54L597.75 433.53L598.00 433.52L598.25 433.51L598.50 433.50L598.75 433.50L599.00 433.50L599.25 433.50L599.50 433.51" fill="none" stroke="#ff0000" stroke-width="2.00" stroke-linejoin="round" stroke-dasharray="8,6" stroke-dashoffset="11.92" clip-path="url(#c12)"/>
<line x1="417.80" y1="345.30" x2="447.80" y2="345.30" stroke="#0000ff" stroke-width="2"/>
<text x="452.20" y="349.80" font-size="12.50" font-style="italic">V</text>
<text x="460.80" y="353.80" font-size="8.6" font-style="italic">rv</text>
<line x1="499.00" y1="345.30" x2="508.00" y2="345.30" stroke="#ff0000" stroke-width="2"/>
<line x1="515.00" y1="345.30" x2="524.00" y2="345.30" stroke="#ff0000" stroke-width="2"/>
<text x="533.00" y="349.80" font-size="12.50" font-style="italic">V</text>
<text x="541.60" y="353.80" font-size="8.6" font-style="italic">ra</text>
</svg></body></html>
